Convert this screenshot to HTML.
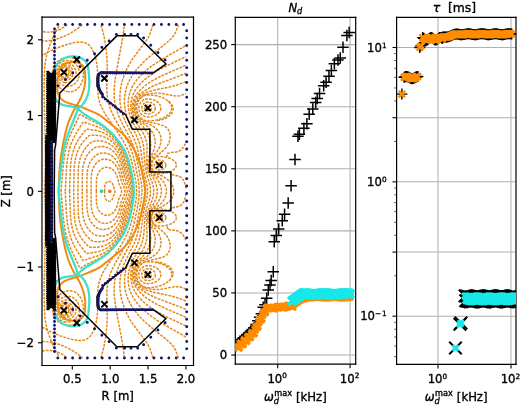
<!DOCTYPE html>
<html><head><meta charset="utf-8"><style>html,body{margin:0;padding:0;background:#fff;}svg{display:block}svg text{stroke:#000;stroke-width:0.35px}</style></head>
<body>
<svg width="520px" height="405px" viewBox="0 0 520 405" version="1.1">
 
 <defs>
  <style type="text/css">*{stroke-linejoin: round; stroke-linecap: butt}</style>
 </defs>
 <g id="figure_1">
  <g id="patch_1">
   <path d="M 0 405 
L 520 405 
L 520 0 
L 0 0 
z
" style="fill: #ffffff"/>
  </g>
  <g id="axes_1">
   <g id="patch_2">
    <path d="M 42 365.5 
L 193.5 365.5 
L 193.5 17.1 
L 42 17.1 
z
" style="fill: #ffffff"/>
   </g>
   <g id="QuadContourSet_1">
    <path clip-path="url(#p1f6addf977)" style="fill: none; stroke-dasharray: 2.75,1.16; stroke-dashoffset: 0; stroke: #e28616; stroke-width: 1.45"/>
    <path clip-path="url(#p1f6addf977)" style="fill: none; stroke-dasharray: 2.75,1.16; stroke-dashoffset: 0; stroke: #e28616; stroke-width: 1.45"/>
    <path clip-path="url(#p1f6addf977)" style="fill: none; stroke-dasharray: 2.75,1.16; stroke-dashoffset: 0; stroke: #e28616; stroke-width: 1.45"/>
    <path clip-path="url(#p1f6addf977)" style="fill: none; stroke-dasharray: 2.75,1.16; stroke-dashoffset: 0; stroke: #e28616; stroke-width: 1.45"/>
    <path d="M 160.25 285.97 
L 160.11 286.02 
M 170.97 278.95 
L 170.01 280.05 
L 168.42 281.50 
M 156.05 262.16 
L 157.14 262.19 
L 160.17 262.42 
L 162.44 263.14 
L 164.72 264.00 
L 166.98 265.11 
L 168.84 266.28 
L 170.01 267.23 
L 171.29 268.55 
L 172.29 270.07 
L 172.88 271.58 
L 173.11 273.09 
L 173.02 274.61 
L 172.61 276.12 
L 171.88 277.64 
L 171.53 278.18 
M 185.92 240.27 
L 184.98 238.25 
L 183.65 235.95 
L 182.57 234.47 
L 181.13 232.95 
L 179.86 231.99 
L 178.35 231.19 
L 176.81 230.68 
L 175.32 230.39 
L 173.04 230.22 
L 170.77 230.16 
L 170.01 229.90 
L 168.50 229.22 
L 167.74 229.35 
L 167.51 229.16 
L 167.66 228.41 
L 167.49 227.65 
L 166.75 226.14 
L 166.19 225.42 
M 169.36 210.23 
L 170.01 209.47 
L 170.43 208.72 
L 170.77 208.39 
L 171.80 207.96 
L 174.56 207.28 
L 175.32 207.12 
L 178.35 206.56 
L 179.10 206.30 
L 180.62 205.51 
L 181.38 204.93 
L 182.15 204.17 
L 183.28 202.66 
L 184.10 201.14 
L 184.97 198.87 
L 185.55 196.60 
L 185.92 194.13 
M 185.92 188.46 
L 185.69 186.75 
L 185.16 184.39 
L 184.41 182.16 
L 183.65 180.56 
L 182.77 179.18 
L 182.13 178.40 
L 181.38 177.65 
L 179.86 176.63 
L 178.35 176.03 
L 176.83 175.70 
L 174.56 175.31 
L 171.53 174.55 
L 170.77 174.20 
L 170.43 173.88 
L 170.01 173.12 
L 169.36 172.36 
M 166.19 157.17 
L 166.23 157.14 
L 166.98 156.05 
L 167.49 154.94 
L 167.66 154.18 
L 167.51 153.43 
L 167.74 153.24 
L 168.50 153.37 
L 170.77 152.43 
L 172.29 152.37 
L 174.56 152.28 
L 176.07 152.07 
L 177.59 151.68 
L 179.10 151.05 
L 180.62 150.06 
L 181.91 148.88 
L 183.15 147.37 
L 184.41 145.40 
L 185.35 143.58 
L 185.92 142.32 
M 171.53 104.41 
L 172.29 105.72 
L 172.85 107.22 
L 173.11 108.74 
L 173.04 110.25 
L 172.63 111.77 
L 171.85 113.28 
L 170.61 114.80 
L 169.26 115.99 
L 167.69 117.07 
L 165.47 118.25 
L 162.76 119.34 
L 160.17 120.17 
L 159.41 120.34 
L 156.05 120.43 
M 168.42 101.09 
L 169.39 101.92 
L 170.97 103.64 
M 160.11 96.57 
L 160.25 96.62 
L 160.25 96.62 
" clip-path="url(#p1f6addf977)" style="fill: none; stroke-dasharray: 2.75,1.16; stroke-dashoffset: 0; stroke: #e28616; stroke-width: 1.45"/>
    <path d="M 185.92 289.19 
L 183.65 288.05 
L 181.38 287.26 
L 179.10 286.80 
L 176.83 286.66 
L 174.56 286.76 
L 171.53 287.17 
L 167.74 287.97 
L 162.44 289.08 
L 160.17 289.39 
L 157.89 289.51 
L 154.86 289.43 
L 151.83 289.15 
L 148.05 288.56 
L 146.59 288.24 
M 146.51 288.22 
L 144.31 287.48 
M 144.22 287.45 
L 142.65 286.73 
L 141.23 285.77 
L 139.69 284.45 
L 138.37 282.94 
L 137.40 281.42 
L 136.65 279.91 
L 136.17 278.4 
L 135.83 276.88 
L 135.69 275.37 
L 135.76 273.09 
L 136.07 271.58 
L 136.68 269.60 
L 137.44 268.08 
L 138.20 266.88 
L 139.28 265.52 
L 140.47 264.38 
L 142.07 263.16 
M 143.20 262.49 
L 143.77 262.22 
M 144.90 261.73 
L 146.26 261.25 
M 147.21 260.98 
L 149.56 260.41 
L 160.92 257.79 
L 163.2 256.96 
L 164.71 256.22 
L 166.23 255.20 
L 167.35 254.16 
L 168.50 252.62 
L 169.26 251.08 
L 169.74 249.61 
L 170.02 248.10 
L 170.15 246.58 
L 170.12 245.07 
L 169.81 242.80 
L 169.26 240.82 
L 168.87 239.77 
L 167.73 237.50 
L 166.76 235.98 
L 164.94 233.71 
L 162.44 231.21 
L 160.92 230.00 
L 158.91 228.41 
L 156.38 226.80 
L 154.53 225.38 
L 153.35 224.11 
L 152.59 223.07 
L 151.80 221.59 
L 151.08 219.31 
L 151.02 217.05 
L 151.25 215.53 
L 151.83 213.86 
L 152.59 212.48 
L 153.82 210.99 
L 154.86 210.04 
L 155.50 209.59 
M 155.68 209.47 
L 157.14 208.65 
L 158.87 207.96 
L 160.92 207.15 
L 163.2 205.99 
L 163.95 205.41 
L 165.98 204.17 
L 168.88 201.90 
L 170.37 200.38 
L 171.53 198.84 
L 172.36 197.35 
L 173.04 195.60 
L 173.39 194.32 
L 173.63 192.81 
L 173.71 191.3 
L 173.63 189.78 
L 173.39 188.27 
L 172.97 186.75 
L 172.29 185.10 
L 171.51 183.72 
L 170.37 182.21 
L 168.88 180.69 
L 165.98 178.42 
L 162.43 176.15 
L 160.17 175.11 
L 157.01 173.88 
L 155.68 173.12 
M 155.50 173.00 
L 154.11 171.89 
L 153.14 170.85 
L 152.14 169.33 
L 151.49 167.82 
L 151.08 166.18 
L 151.00 164.79 
L 151.08 163.27 
L 151.83 160.92 
L 152.61 159.48 
L 153.81 157.97 
L 154.86 156.90 
L 157.14 155.29 
L 159.41 153.85 
L 163.2 150.67 
L 164.24 149.64 
L 166.23 147.33 
L 167.27 145.85 
L 168.53 143.58 
L 169.26 141.77 
L 169.63 140.55 
L 170.05 138.28 
L 170.15 136.01 
L 170.01 134.42 
L 169.74 132.98 
L 169.24 131.46 
L 168.48 129.95 
L 167.35 128.43 
L 166.23 127.39 
L 164.71 126.37 
L 163.2 125.63 
L 161.68 125.06 
L 159.41 124.38 
L 153.89 123.13 
L 147.21 121.62 
M 146.26 121.34 
L 144.90 120.86 
M 143.77 120.37 
L 143.20 120.10 
M 142.07 119.43 
L 140.93 118.59 
L 139.71 117.51 
L 138.63 116.31 
L 137.44 114.51 
L 136.68 112.99 
L 136.27 111.77 
L 135.76 109.50 
L 135.69 107.22 
L 135.83 105.71 
L 136.17 104.2 
L 136.68 102.60 
L 137.85 100.41 
L 138.97 98.89 
L 140.52 97.38 
L 141.99 96.29 
L 142.74 95.81 
L 144.22 95.14 
M 144.31 95.11 
L 146.51 94.37 
M 146.59 94.35 
L 148.80 93.89 
L 152.59 93.35 
L 155.62 93.11 
L 158.65 93.10 
L 160.92 93.29 
L 163.95 93.79 
L 169.26 94.97 
L 172.29 95.55 
L 175.32 95.89 
L 177.59 95.92 
L 179.86 95.67 
L 182.13 95.10 
L 184.41 94.19 
L 185.92 93.40 
L 185.92 93.40 
" clip-path="url(#p1f6addf977)" style="fill: none; stroke-dasharray: 2.75,1.16; stroke-dashoffset: 0; stroke: #e28616; stroke-width: 1.45"/>
    <path d="M 185.92 301.03 
L 180.37 298.84 
L 175.97 297.33 
L 172.29 296.26 
L 167.74 295.19 
L 154.86 292.50 
L 145.02 289.67 
L 142.74 288.62 
L 140.91 287.48 
L 139.71 286.63 
L 138.34 285.21 
L 137.15 283.70 
L 136.62 282.94 
L 135.56 280.67 
L 135.04 279.15 
L 134.59 276.88 
L 134.47 275.37 
L 134.57 273.09 
L 135.00 270.82 
L 135.47 269.31 
L 136.55 267.03 
L 137.00 266.28 
L 138.20 264.73 
L 139.71 263.10 
L 141.99 261.49 
L 144.33 260.22 
L 146.53 259.27 
L 151.08 257.46 
L 151.83 257.09 
L 153.95 255.67 
L 156.38 253.59 
L 157.29 252.64 
L 158.65 250.86 
L 159.41 249.57 
L 160.17 247.83 
L 160.56 246.58 
L 160.92 244.63 
L 161.05 242.80 
L 160.90 240.53 
L 160.47 238.25 
L 159.75 235.98 
L 158.65 233.58 
L 157.39 231.44 
L 156.22 229.92 
L 153.35 226.77 
L 151.80 224.62 
L 150.96 223.11 
L 150.32 221.36 
L 150.01 220.08 
L 149.82 218.56 
L 149.84 217.05 
L 150.04 215.53 
L 150.47 214.02 
L 151.08 212.46 
L 152.65 210.23 
L 154.11 208.70 
L 156.38 207.01 
L 158.65 205.53 
L 160.17 204.47 
L 160.92 203.77 
L 161.94 202.66 
L 163.64 200.38 
L 164.91 198.11 
L 165.54 196.60 
L 166.00 195.08 
L 166.40 192.81 
L 166.48 191.3 
L 166.40 189.78 
L 166.00 187.51 
L 165.47 185.81 
L 164.71 184.08 
L 163.95 182.72 
L 163.12 181.45 
L 161.68 179.64 
L 160.54 178.42 
L 158.65 177.06 
L 157.18 176.15 
L 155.62 175.06 
L 154.09 173.88 
L 152.59 172.29 
L 151.05 170.09 
L 150.23 167.82 
L 149.91 166.30 
L 149.81 164.79 
L 149.89 163.27 
L 150.32 161.23 
L 150.63 160.24 
L 151.37 158.73 
L 152.59 156.79 
L 154.11 154.94 
L 157.39 151.15 
L 158.72 148.88 
L 159.75 146.61 
L 160.47 144.34 
L 160.90 142.06 
L 161.05 139.79 
L 160.87 137.52 
L 160.56 136.01 
L 160.07 134.49 
L 159.39 132.98 
L 158.48 131.46 
L 157.14 129.78 
L 155.62 128.29 
L 153.95 126.92 
L 151.67 125.40 
L 148.80 124.17 
L 144.26 122.34 
L 141.99 121.10 
L 139.71 119.49 
L 138.85 118.59 
L 137.44 116.91 
L 136.55 115.56 
L 135.47 113.28 
L 135.00 111.77 
L 134.57 109.50 
L 134.47 107.22 
L 134.59 105.71 
L 135.04 103.44 
L 135.56 101.92 
L 136.62 99.65 
L 137.72 98.14 
L 139.01 96.62 
L 139.85 95.86 
L 142.09 94.35 
L 143.50 93.59 
L 145.77 92.63 
L 148.05 91.92 
L 157.89 89.32 
L 162.44 88.40 
L 169.26 87.07 
L 173.43 86.02 
L 176.83 84.99 
L 181.38 83.37 
L 185.92 81.56 
L 185.92 81.56 
" clip-path="url(#p1f6addf977)" style="fill: none; stroke-dasharray: 2.75,1.16; stroke-dashoffset: 0; stroke: #e28616; stroke-width: 1.45"/>
    <path d="M 185.92 309.33 
L 176.07 305.39 
L 166.67 301.87 
L 157.89 298.59 
L 153.35 296.62 
L 148.80 294.29 
L 143.50 291.18 
L 141.23 289.73 
L 139.29 288.24 
L 138.20 287.25 
L 136.68 285.53 
L 135.17 282.99 
L 134.51 281.42 
L 134.00 279.91 
L 133.51 277.64 
L 133.32 275.37 
L 133.42 273.09 
L 133.82 270.82 
L 134.54 268.55 
L 135.57 266.28 
L 136.68 264.60 
L 138.20 262.80 
L 139.32 261.73 
L 140.47 260.81 
L 142.74 259.23 
L 146.53 256.82 
L 147.29 256.20 
L 149.36 254.16 
L 151.26 251.89 
L 152.74 249.61 
L 153.84 247.34 
L 154.60 245.07 
L 155.05 242.80 
L 155.22 240.53 
L 155.13 238.25 
L 154.79 235.98 
L 154.22 233.71 
L 153.12 230.68 
L 151.77 227.65 
L 150.55 225.38 
L 149.56 222.88 
L 149.19 221.59 
L 148.80 219.32 
L 148.76 217.80 
L 148.86 216.29 
L 149.16 214.77 
L 149.62 213.26 
L 150.32 211.66 
L 151.65 209.47 
L 153.67 207.20 
L 154.86 205.94 
L 156.00 204.93 
L 157.20 203.41 
L 158.65 201.13 
L 159.77 198.87 
L 160.59 196.60 
L 161.12 194.32 
L 161.36 192.05 
L 161.31 189.78 
L 160.97 187.51 
L 160.35 185.24 
L 159.41 182.92 
L 158.20 180.69 
L 156.66 178.42 
L 155.17 176.90 
L 154.11 175.90 
L 151.08 172.25 
L 149.92 170.09 
L 149.36 168.57 
L 148.99 167.06 
L 148.79 165.54 
L 148.80 163.27 
L 149.19 161.00 
L 149.64 159.48 
L 150.87 156.46 
L 152.59 153.21 
L 154.22 148.88 
L 154.79 146.61 
L 155.13 144.34 
L 155.22 142.06 
L 155.05 139.79 
L 154.60 137.52 
L 153.84 135.25 
L 152.74 132.98 
L 151.26 130.70 
L 149.36 128.43 
L 147.05 126.16 
L 144.86 124.64 
L 142.41 123.13 
L 140.47 121.78 
L 138.49 120.10 
L 137.14 118.59 
L 135.93 116.90 
L 135.17 115.48 
L 134.26 113.28 
L 133.65 110.99 
L 133.35 108.74 
L 133.35 106.47 
L 133.65 104.15 
L 134.24 101.92 
L 135.17 99.60 
L 135.99 98.14 
L 137.01 96.62 
L 138.96 94.63 
L 141.27 92.83 
L 143.50 91.41 
L 145.02 90.56 
L 148.82 88.29 
L 151.83 86.70 
L 155.62 84.95 
L 160.51 82.99 
L 167.74 80.32 
L 177.59 76.61 
L 185.92 73.26 
L 185.92 73.26 
" clip-path="url(#p1f6addf977)" style="fill: none; stroke-dasharray: 2.75,1.16; stroke-dashoffset: 0; stroke: #e28616; stroke-width: 1.45"/>
    <path d="M 185.92 317.30 
L 166.98 309.11 
L 159.57 305.66 
L 155.62 303.64 
L 151.08 301.04 
L 147.73 298.84 
L 145.02 296.83 
L 141.99 294.24 
L 139.71 291.95 
L 137.44 289.25 
L 135.07 285.97 
L 133.96 283.70 
L 133.11 281.42 
L 132.52 279.15 
L 132.21 276.88 
L 132.15 274.61 
L 132.35 272.34 
L 132.82 270.06 
L 133.65 267.62 
L 134.63 265.52 
L 135.97 263.25 
L 137.44 261.59 
L 139.71 259.36 
L 141.23 257.94 
L 143.87 254.92 
L 146.15 251.89 
L 147.57 249.61 
L 148.80 247.11 
L 149.57 245.07 
L 150.19 242.80 
L 150.58 240.53 
L 150.74 238.25 
L 150.69 235.98 
L 150.45 233.71 
L 149.85 230.68 
L 149.40 228.41 
L 149.04 226.14 
L 148.50 223.86 
L 148.05 221.86 
L 147.72 218.56 
L 147.83 216.29 
L 148.12 214.77 
L 148.80 212.45 
L 149.81 210.23 
L 150.65 208.72 
L 152.60 205.69 
L 155.02 201.14 
L 155.93 198.87 
L 156.61 196.60 
L 157.05 194.32 
L 157.25 192.05 
L 157.21 189.78 
L 156.93 187.51 
L 156.38 185.13 
L 155.62 182.89 
L 154.66 180.69 
L 153.02 177.66 
L 151.66 175.39 
L 150.20 173.12 
L 149.09 170.85 
L 148.52 169.33 
L 147.94 167.06 
L 147.78 165.54 
L 147.71 163.27 
L 148.11 160.24 
L 149.19 155.70 
L 149.85 151.91 
L 150.45 148.88 
L 150.69 146.61 
L 150.74 144.34 
L 150.58 142.06 
L 150.19 139.79 
L 149.56 137.48 
L 148.70 135.25 
L 147.57 132.98 
L 146.15 130.70 
L 144.26 128.16 
L 141.92 125.40 
L 140.44 123.89 
L 138.04 121.62 
L 135.97 119.34 
L 135.07 117.83 
L 133.89 115.56 
L 133.04 113.28 
L 132.47 111.01 
L 132.19 108.74 
L 132.16 106.47 
L 132.39 104.2 
L 132.9 101.90 
L 133.65 99.64 
L 134.68 97.38 
L 135.50 95.86 
L 136.68 94.31 
L 139.79 90.56 
L 142.06 88.29 
L 144.69 86.02 
L 146.67 84.50 
L 149.56 82.51 
L 153.35 80.20 
L 158.05 77.69 
L 163.2 75.20 
L 171.53 71.47 
L 185.92 65.29 
L 185.92 65.29 
" clip-path="url(#p1f6addf977)" style="fill: none; stroke-dasharray: 2.75,1.16; stroke-dashoffset: 0; stroke: #e28616; stroke-width: 1.45"/>
    <path d="M 185.92 325.95 
L 172.29 319.54 
L 163.95 315.36 
L 158.65 312.47 
L 154.11 309.77 
L 150.19 307.18 
L 147.10 304.90 
L 144.26 302.56 
L 141.88 300.36 
L 139.69 298.09 
L 137.44 295.38 
L 135.62 292.79 
L 134.30 290.51 
L 133.22 288.24 
L 132.40 285.97 
L 131.62 282.94 
L 130.87 278.4 
L 130.75 276.12 
L 130.82 273.85 
L 131.11 271.58 
L 131.64 269.31 
L 132.40 267.03 
L 133.39 264.76 
L 135.17 261.53 
L 137.44 258.19 
L 140.80 253.40 
L 142.74 250.26 
L 143.89 248.10 
L 145.02 245.51 
L 145.77 243.31 
L 146.31 241.28 
L 146.73 239.01 
L 146.98 236.74 
L 147.05 233.71 
L 146.86 230.68 
L 146.70 228.41 
L 146.65 217.80 
L 146.86 215.53 
L 147.50 212.50 
L 150.60 204.17 
L 151.85 201.14 
L 152.60 198.87 
L 153.17 196.60 
L 153.53 194.32 
L 153.70 192.05 
L 153.67 189.78 
L 153.43 187.51 
L 153.00 185.24 
L 152.37 182.96 
L 151.57 180.69 
L 150.24 177.66 
L 149.56 175.95 
L 147.29 169.08 
L 146.76 166.30 
L 146.59 163.27 
L 146.93 151.15 
L 147.06 148.12 
L 146.92 145.09 
L 146.53 142.38 
L 146.13 140.55 
L 145.45 138.28 
L 144.58 136.01 
L 143.50 133.73 
L 141.99 131.05 
L 140.29 128.43 
L 134.41 119.78 
L 133.39 117.83 
L 132.40 115.56 
L 131.45 112.53 
L 130.89 109.50 
L 130.75 107.22 
L 130.81 104.95 
L 131.06 102.68 
L 131.80 98.89 
L 132.40 96.62 
L 133.22 94.35 
L 134.41 91.86 
L 135.93 89.33 
L 137.78 86.78 
L 139.71 84.48 
L 141.99 82.12 
L 145.02 79.38 
L 148.10 76.93 
L 151.29 74.66 
L 154.86 72.36 
L 159.41 69.69 
L 165.70 66.33 
L 172.29 63.05 
L 182.99 57.99 
L 185.92 56.64 
L 185.92 56.64 
" clip-path="url(#p1f6addf977)" style="fill: none; stroke-dasharray: 2.75,1.16; stroke-dashoffset: 0; stroke: #e28616; stroke-width: 1.45"/>
    <path d="M 185.92 337.08 
L 180.62 333.98 
L 170.01 328.01 
L 161.60 323.08 
L 156.38 319.78 
L 151.83 316.65 
L 148.05 313.78 
L 144.26 310.57 
L 141.23 307.68 
L 138.65 304.90 
L 136.68 302.53 
L 134.56 299.60 
L 133.14 297.33 
L 131.92 295.06 
L 130.62 292.15 
L 129.79 289.76 
L 129.00 286.73 
L 128.46 283.70 
L 128.18 280.67 
L 128.14 277.64 
L 128.36 274.61 
L 128.81 271.58 
L 129.51 268.55 
L 130.48 265.52 
L 131.72 262.49 
L 133.27 259.46 
L 135.96 254.92 
L 138.61 250.37 
L 140.15 247.34 
L 141.44 244.31 
L 142.45 241.28 
L 143.19 238.25 
L 143.68 235.22 
L 143.95 232.19 
L 144.79 219.32 
L 145.39 214.77 
L 146.25 210.23 
L 147.16 206.44 
L 147.36 205.69 
L 148.24 203.41 
L 149.20 200.38 
L 149.92 197.35 
L 150.36 194.32 
L 150.50 192.05 
L 150.47 189.78 
L 150.17 186.75 
L 149.59 183.72 
L 148.74 180.69 
L 147.67 177.66 
L 147.16 176.15 
L 145.27 167.06 
L 144.71 162.51 
L 144.30 157.21 
L 143.68 147.37 
L 143.19 144.34 
L 142.45 141.31 
L 141.44 138.28 
L 140.15 135.25 
L 138.61 132.22 
L 136.42 128.43 
L 132.86 122.37 
L 131.39 119.34 
L 130.21 116.31 
L 129.31 113.28 
L 128.67 110.25 
L 128.28 107.22 
L 128.13 104.2 
L 128.23 101.17 
L 128.57 98.14 
L 129.17 95.11 
L 130.03 92.08 
L 130.88 89.80 
L 132.14 87.10 
L 133.65 84.41 
L 135.62 81.47 
L 137.44 79.11 
L 140.02 76.17 
L 142.74 73.42 
L 145.77 70.69 
L 149.56 67.63 
L 153.42 64.81 
L 157.96 61.78 
L 163.2 58.54 
L 170.77 54.16 
L 185.92 45.51 
L 185.92 45.51 
" clip-path="url(#p1f6addf977)" style="fill: none; stroke-dasharray: 2.75,1.16; stroke-dashoffset: 0; stroke: #e28616; stroke-width: 1.45"/>
    <path d="M 178.45 357.92 
L 176.07 351.55 
L 175.26 349.59 
L 174.42 348.08 
L 173.04 346.13 
L 171.46 344.29 
L 169.18 342.02 
L 165.73 338.99 
L 159.10 333.68 
L 152.43 328.38 
L 147.95 324.60 
L 144.26 321.22 
L 140.84 317.78 
L 138.09 314.75 
L 135.17 311.21 
L 132.82 307.93 
L 130.93 304.90 
L 129.31 301.87 
L 127.93 298.84 
L 126.79 295.82 
L 125.89 292.79 
L 125.22 289.76 
L 124.77 286.73 
L 124.51 283.70 
L 124.45 280.67 
L 124.59 277.64 
L 124.93 274.61 
L 125.49 271.58 
L 126.26 268.55 
L 127.24 265.52 
L 128.43 262.49 
L 129.87 259.40 
L 132.14 255.09 
L 135.93 247.99 
L 137.60 244.31 
L 138.74 241.28 
L 139.71 238.08 
L 140.47 234.79 
L 141.04 231.44 
L 141.79 225.38 
L 142.88 217.05 
L 143.79 211.74 
L 145.02 206.07 
L 147.05 197.35 
L 147.42 194.32 
L 147.54 191.3 
L 147.42 188.27 
L 147.05 185.24 
L 146.46 182.21 
L 145.11 176.90 
L 143.94 171.60 
L 143.00 166.30 
L 142.16 160.24 
L 140.80 149.64 
L 140.05 145.85 
L 139.23 142.82 
L 138.20 139.79 
L 136.94 136.76 
L 135.11 132.98 
L 131.82 126.92 
L 129.47 122.37 
L 127.81 118.59 
L 126.72 115.56 
L 125.85 112.53 
L 125.19 109.50 
L 124.74 106.47 
L 124.49 103.44 
L 124.45 100.41 
L 124.61 97.38 
L 124.97 94.35 
L 125.52 91.32 
L 126.31 88.29 
L 127.33 85.26 
L 128.59 82.23 
L 130.09 79.20 
L 131.84 76.17 
L 133.86 73.14 
L 136.17 70.11 
L 138.96 66.86 
L 142.31 63.30 
L 145.43 60.27 
L 148.82 57.24 
L 153.36 53.45 
L 161.03 47.39 
L 166.98 42.54 
L 169.26 40.50 
L 171.53 38.22 
L 173.38 36.03 
L 174.56 34.29 
L 175.32 32.88 
L 176.49 29.97 
L 178.45 24.67 
L 178.45 24.67 
" clip-path="url(#p1f6addf977)" style="fill: none; stroke-dasharray: 2.75,1.16; stroke-dashoffset: 0; stroke: #e28616; stroke-width: 1.45"/>
    <path d="M 152.91 357.92 
L 150.58 350.35 
L 149.69 348.08 
L 148.56 345.80 
L 146.73 342.77 
L 144.08 338.99 
L 138.94 332.17 
L 133.74 325.35 
L 131.67 322.32 
L 129.81 319.29 
L 127.74 315.51 
L 126.08 312.01 
L 124.39 307.93 
L 123.05 304.11 
L 121.94 300.36 
L 121.04 296.57 
L 120.39 292.79 
L 119.99 289.00 
L 119.85 285.21 
L 119.96 281.42 
L 120.35 277.64 
L 120.86 274.61 
L 121.56 271.58 
L 122.44 268.55 
L 123.50 265.52 
L 125.06 261.73 
L 127.24 257.19 
L 134.16 243.56 
L 135.38 240.53 
L 136.43 237.50 
L 137.49 233.71 
L 138.48 229.16 
L 139.78 221.59 
L 141.50 211.74 
L 144.41 196.60 
L 144.67 193.57 
L 144.72 190.54 
L 144.56 187.51 
L 144.20 184.48 
L 143.50 180.53 
L 141.08 168.57 
L 139.66 160.24 
L 138.33 152.67 
L 137.44 148.67 
L 136.43 145.09 
L 135.17 141.50 
L 133.82 138.28 
L 132.01 134.49 
L 129.11 128.96 
L 126.08 123.06 
L 124.40 119.34 
L 122.95 115.56 
L 121.98 112.53 
L 121.02 108.74 
L 120.35 104.95 
L 120.02 101.91 
L 119.85 98.14 
L 119.95 94.35 
L 120.29 90.56 
L 120.89 86.78 
L 121.74 82.99 
L 122.82 79.20 
L 124.11 75.41 
L 125.62 71.63 
L 127.37 67.84 
L 129.11 64.52 
L 131.38 60.71 
L 133.74 57.24 
L 136.68 53.30 
L 143.53 44.36 
L 146.53 40.11 
L 148.13 37.54 
L 149.56 34.80 
L 150.32 32.99 
L 151.78 28.46 
L 152.91 24.67 
L 152.91 24.67 
" clip-path="url(#p1f6addf977)" style="fill: none; stroke-dasharray: 2.75,1.16; stroke-dashoffset: 0; stroke: #e28616; stroke-width: 1.45"/>
    <path d="M 124.43 357.92 
L 122.97 346.56 
L 121.82 339.74 
L 118.82 323.84 
L 116.03 308.69 
L 114.99 301.87 
L 114.40 296.57 
L 114.13 292.03 
L 114.11 288.24 
L 114.31 284.45 
L 114.76 280.67 
L 115.30 277.64 
L 116.23 273.84 
L 117.41 270.06 
L 118.85 266.28 
L 120.87 261.73 
L 123.57 256.43 
L 130.74 242.80 
L 132.37 239.01 
L 133.50 235.98 
L 134.71 232.19 
L 136.23 226.14 
L 138.97 212.50 
L 139.99 207.20 
L 140.99 201.90 
L 141.65 197.35 
L 141.99 192.94 
L 142.01 191.3 
L 141.81 186.75 
L 141.23 182.17 
L 140.14 176.15 
L 137.93 164.79 
L 136.68 158.58 
L 135.51 153.43 
L 134.26 148.88 
L 132.68 144.34 
L 130.62 139.55 
L 128.35 134.98 
L 122.29 123.72 
L 120.02 119.02 
L 118.50 115.45 
L 117.15 111.77 
L 116.02 107.98 
L 115.15 104.2 
L 114.55 100.41 
L 114.20 96.62 
L 114.09 92.83 
L 114.19 89.05 
L 114.54 84.50 
L 115.20 79.20 
L 116.29 72.38 
L 118.38 61.02 
L 122.73 37.54 
L 123.60 31.49 
L 124.43 24.67 
M 42 351.34 
L 44.27 350.79 
L 46.54 350.50 
L 48.81 350.44 
L 51.09 350.60 
L 53.36 350.97 
L 55.63 351.53 
L 57.90 352.29 
L 60.44 353.38 
L 62.45 354.43 
L 64.72 355.87 
L 66.99 357.62 
L 67.34 357.92 
M 67.34 24.67 
L 65.47 26.18 
L 63.21 27.71 
L 60.93 28.97 
L 58.66 30.01 
L 56.39 30.83 
L 53.99 31.49 
L 51.84 31.89 
L 49.57 32.12 
L 47.30 32.14 
L 45.03 31.93 
L 42.75 31.46 
L 42 31.25 
L 42 31.25 
" clip-path="url(#p1f6addf977)" style="fill: none; stroke-dasharray: 2.75,1.16; stroke-dashoffset: 0; stroke: #e28616; stroke-width: 1.45"/>
    <path d="M 100.75 357.92 
L 101.84 354.71 
L 103.04 350.35 
L 104.24 345.05 
L 105.22 339.74 
L 106.10 333.68 
L 106.72 327.63 
L 107.06 322.32 
L 107.21 316.26 
L 107.13 309.45 
L 106.80 293.54 
L 107.02 289.00 
L 107.44 285.21 
L 107.97 282.18 
L 108.68 279.15 
L 109.56 276.12 
L 110.63 273.09 
L 112.19 269.31 
L 114.37 264.76 
L 120.78 253.47 
L 124.56 246.97 
L 127.22 242.04 
L 129.11 238.06 
L 130.88 233.71 
L 132.41 229.16 
L 134.08 223.11 
L 136.74 210.99 
L 138.41 201.90 
L 139.07 196.60 
L 139.25 194.32 
L 139.31 189.78 
L 138.96 184.74 
L 137.91 177.66 
L 135.30 164.79 
L 133.87 158.73 
L 132.63 154.18 
L 131.38 150.23 
L 128.35 142.81 
L 124.36 135.25 
L 115.16 119.34 
L 111.54 111.77 
L 110.09 107.98 
L 109.10 104.95 
L 108.30 101.92 
L 107.68 98.89 
L 107.25 95.86 
L 106.92 92.08 
L 106.78 87.53 
L 106.87 81.47 
L 107.21 66.33 
L 107.06 60.27 
L 106.72 54.96 
L 106.19 49.66 
L 105.34 43.60 
L 104.39 38.30 
L 103.23 33.00 
L 102.01 28.46 
L 101.02 25.43 
L 100.75 24.67 
M 42 341.76 
L 44.27 341.59 
L 46.54 341.63 
L 49.57 341.95 
L 52.60 342.52 
L 55.63 343.30 
L 59.42 344.51 
L 63.21 345.97 
L 66.99 347.68 
L 70.78 349.65 
L 74.46 351.86 
L 77.76 354.13 
L 80.68 356.41 
L 82.46 357.92 
M 82.46 24.67 
L 78.78 27.70 
L 75.33 30.16 
L 72.00 32.24 
L 68.51 34.16 
L 64.58 36.03 
L 60.87 37.54 
L 57.15 38.84 
L 53.36 39.89 
L 49.97 40.57 
L 47.30 40.91 
L 45.03 41.01 
L 42.75 40.91 
L 42 40.83 
L 42 40.83 
" clip-path="url(#p1f6addf977)" style="fill: none; stroke-dasharray: 2.75,1.16; stroke-dashoffset: 0; stroke: #e28616; stroke-width: 1.45"/>
    <path d="M 42 327.20 
L 47.30 329.98 
L 52.60 332.62 
L 56.72 334.44 
L 60.93 336.09 
L 65.48 337.64 
L 70.09 338.99 
L 73.81 339.85 
L 76.84 340.34 
L 79.11 340.53 
L 81.39 340.50 
L 82.90 340.32 
L 84.42 339.97 
L 85.93 339.43 
L 87.45 338.65 
L 89.00 337.47 
L 90.48 335.89 
L 91.51 334.44 
L 92.81 332.17 
L 93.83 329.90 
L 94.92 326.87 
L 95.78 323.83 
L 96.58 320.05 
L 97.15 316.26 
L 97.51 312.48 
L 97.73 307.93 
L 97.74 301.87 
L 97.72 292.79 
L 97.95 289.00 
L 98.46 285.21 
L 98.94 282.94 
L 99.80 279.91 
L 101.08 276.58 
L 102.74 273.09 
L 103.94 270.82 
L 105.30 268.55 
L 107.69 264.76 
L 113.99 255.67 
L 115.47 253.57 
L 117.75 250.37 
L 119.26 248.04 
L 121.16 245.07 
L 123.46 241.28 
L 126.61 235.22 
L 129.11 229.10 
L 130.62 224.59 
L 132.14 219.24 
L 133.09 215.53 
L 133.92 211.74 
L 134.55 208.72 
L 135.00 206.44 
L 136.18 198.87 
L 136.60 192.05 
L 136.54 188.27 
L 136.18 183.72 
L 134.72 174.63 
L 131.54 161.00 
L 128.55 151.91 
L 125.87 145.85 
L 123.00 140.55 
L 121.65 138.28 
L 114.57 127.67 
L 112.92 125.40 
L 107.69 117.83 
L 106.23 115.56 
L 104.40 112.53 
L 103.10 110.25 
L 100.64 104.95 
L 99.80 102.68 
L 98.60 98.14 
L 98.11 95.11 
L 97.78 91.32 
L 97.68 86.78 
L 97.61 71.63 
L 97.24 67.08 
L 96.71 63.30 
L 95.96 59.51 
L 95.02 56.04 
L 94.13 53.45 
L 93.17 51.18 
L 91.98 48.91 
L 91.00 47.39 
L 89.72 45.82 
L 88.20 44.46 
L 86.69 43.51 
L 85.14 42.85 
L 83.66 42.42 
L 82.14 42.17 
L 79.87 42.05 
L 77.60 42.17 
L 74.57 42.60 
L 70.78 43.43 
L 66.24 44.71 
L 61.69 46.23 
L 56.72 48.15 
L 52.60 49.97 
L 48.06 52.22 
L 42 55.39 
L 42 55.39 
" clip-path="url(#p1f6addf977)" style="fill: none; stroke-dasharray: 2.75,1.16; stroke-dashoffset: 0; stroke: #e28616; stroke-width: 1.45"/>
    <path d="M 64.72 324.74 
L 65.48 324.91 
L 66.24 325.04 
L 66.99 325.13 
L 67.75 325.19 
L 68.51 325.21 
L 69.27 325.20 
L 70.02 325.16 
L 70.78 325.07 
L 71.54 324.95 
L 72.3 324.78 
L 72.96 324.60 
L 73.05 324.57 
L 73.81 324.32 
L 74.57 324.01 
L 74.93 323.84 
L 75.33 323.65 
L 76.08 323.22 
L 76.31 323.08 
L 76.84 322.73 
L 77.39 322.32 
L 77.60 322.16 
L 78.29 321.57 
L 78.36 321.50 
L 79.04 320.81 
L 79.11 320.73 
L 79.70 320.05 
L 79.87 319.83 
L 80.26 319.29 
L 80.63 318.75 
L 80.76 318.54 
L 81.20 317.78 
L 81.39 317.42 
L 81.59 317.02 
L 81.93 316.26 
L 82.14 315.71 
L 82.22 315.51 
L 82.48 314.75 
L 82.70 313.99 
L 82.88 313.24 
L 82.90 313.15 
L 83.04 312.48 
L 83.16 311.72 
L 83.26 310.96 
L 83.32 310.21 
L 83.36 309.45 
L 83.38 308.69 
L 83.36 307.93 
L 83.33 307.18 
L 83.26 306.42 
L 83.17 305.66 
L 83.05 304.90 
L 82.91 304.15 
L 82.90 304.09 
L 82.74 303.39 
L 82.55 302.63 
L 82.32 301.87 
L 82.14 301.33 
L 82.07 301.12 
L 81.79 300.36 
L 81.47 299.60 
L 81.39 299.41 
L 81.12 298.84 
L 80.73 298.09 
L 80.63 297.90 
L 80.29 297.33 
L 79.87 296.66 
L 79.81 296.57 
L 79.27 295.82 
L 79.11 295.61 
L 78.66 295.06 
L 78.36 294.71 
L 77.96 294.30 
L 77.60 293.93 
L 77.15 293.54 
L 76.84 293.27 
L 76.18 292.79 
L 76.08 292.71 
L 75.33 292.23 
L 74.93 292.03 
L 74.57 291.84 
L 73.81 291.51 
L 73.10 291.27 
L 73.05 291.25 
L 72.3 291.05 
L 71.54 290.91 
L 70.78 290.83 
L 70.02 290.79 
L 69.27 290.81 
L 68.51 290.87 
L 67.75 290.97 
L 66.99 291.12 
L 66.42 291.27 
L 66.24 291.32 
L 65.48 291.54 
L 64.72 291.82 
L 64.24 292.03 
L 63.96 292.14 
L 63.21 292.50 
L 62.68 292.79 
L 62.45 292.91 
L 61.69 293.36 
L 61.42 293.54 
L 60.93 293.86 
L 60.34 294.30 
L 60.18 294.42 
L 59.42 295.03 
L 59.39 295.06 
L 58.66 295.71 
L 58.55 295.82 
L 57.90 296.46 
L 57.80 296.57 
L 57.15 297.29 
L 57.11 297.33 
L 56.50 298.09 
L 56.39 298.22 
L 55.93 298.84 
L 55.63 299.29 
L 55.43 299.60 
L 54.97 300.36 
L 54.87 300.52 
L 54.55 301.12 
L 54.18 301.87 
L 54.12 302.01 
L 53.84 302.63 
L 53.55 303.39 
L 53.36 303.95 
L 53.29 304.15 
L 53.07 304.90 
L 52.88 305.66 
L 52.73 306.42 
L 52.62 307.18 
L 52.60 307.34 
L 52.53 307.93 
L 52.48 308.69 
L 52.46 309.45 
L 52.48 310.21 
L 52.53 310.96 
L 52.60 311.52 
L 52.62 311.72 
L 52.74 312.48 
L 52.90 313.24 
L 53.10 313.99 
L 53.35 314.75 
L 53.36 314.77 
L 53.63 315.51 
L 53.97 316.26 
L 54.12 316.55 
L 54.36 317.02 
L 54.80 317.78 
L 54.87 317.89 
L 55.31 318.54 
L 55.63 318.97 
L 55.89 319.29 
L 56.39 319.87 
L 56.55 320.05 
L 57.15 320.65 
L 57.31 320.81 
L 57.90 321.33 
L 58.19 321.57 
L 58.66 321.93 
L 59.22 322.32 
L 59.42 322.46 
L 60.18 322.93 
L 60.46 323.08 
L 60.93 323.34 
L 61.69 323.71 
L 62.01 323.84 
L 62.45 324.03 
L 63.21 324.31 
L 63.96 324.54 
L 64.17 324.60 
L 64.72 324.74 
z
M 66.99 91.47 
L 67.75 91.62 
L 68.51 91.72 
L 69.27 91.78 
L 70.02 91.80 
L 70.78 91.76 
L 71.54 91.68 
L 72.3 91.54 
L 73.05 91.34 
L 73.10 91.32 
L 73.81 91.08 
L 74.57 90.75 
L 74.93 90.56 
L 75.33 90.36 
L 76.08 89.88 
L 76.18 89.80 
L 76.84 89.32 
L 77.15 89.05 
L 77.60 88.66 
L 77.96 88.29 
L 78.36 87.88 
L 78.66 87.53 
L 79.11 86.98 
L 79.27 86.78 
L 79.81 86.02 
L 79.87 85.93 
L 80.29 85.26 
L 80.63 84.69 
L 80.73 84.50 
L 81.12 83.75 
L 81.39 83.18 
L 81.47 82.99 
L 81.79 82.23 
L 82.07 81.47 
L 82.14 81.26 
L 82.32 80.72 
L 82.55 79.96 
L 82.74 79.20 
L 82.90 78.50 
L 82.91 78.44 
L 83.05 77.69 
L 83.17 76.93 
L 83.26 76.17 
L 83.33 75.41 
L 83.36 74.66 
L 83.38 73.90 
L 83.36 73.14 
L 83.32 72.38 
L 83.26 71.63 
L 83.16 70.87 
L 83.04 70.11 
L 82.90 69.44 
L 82.88 69.36 
L 82.70 68.60 
L 82.48 67.84 
L 82.22 67.08 
L 82.14 66.88 
L 81.93 66.33 
L 81.59 65.57 
L 81.39 65.17 
L 81.20 64.81 
L 80.76 64.05 
L 80.63 63.84 
L 80.26 63.30 
L 79.87 62.76 
L 79.70 62.54 
L 79.11 61.86 
L 79.04 61.78 
L 78.36 61.09 
L 78.29 61.02 
L 77.60 60.43 
L 77.39 60.27 
L 76.84 59.86 
L 76.31 59.51 
L 76.08 59.37 
L 75.33 58.94 
L 74.93 58.75 
L 74.57 58.58 
L 73.81 58.27 
L 73.05 58.02 
L 72.96 57.99 
L 72.3 57.81 
L 71.54 57.64 
L 70.78 57.52 
L 70.02 57.43 
L 69.27 57.39 
L 68.51 57.38 
L 67.75 57.40 
L 66.99 57.46 
L 66.24 57.55 
L 65.48 57.68 
L 64.72 57.85 
L 64.17 57.99 
L 63.96 58.05 
L 63.21 58.28 
L 62.45 58.56 
L 62.01 58.75 
L 61.69 58.88 
L 60.93 59.25 
L 60.46 59.51 
L 60.18 59.66 
L 59.42 60.13 
L 59.22 60.27 
L 58.66 60.66 
L 58.19 61.02 
L 57.90 61.26 
L 57.31 61.78 
L 57.15 61.94 
L 56.55 62.54 
L 56.39 62.72 
L 55.89 63.30 
L 55.63 63.62 
L 55.31 64.05 
L 54.87 64.70 
L 54.80 64.81 
L 54.36 65.57 
L 54.12 66.04 
L 53.97 66.33 
L 53.63 67.08 
L 53.36 67.82 
L 53.35 67.84 
L 53.10 68.60 
L 52.90 69.36 
L 52.74 70.11 
L 52.62 70.87 
L 52.60 71.07 
L 52.53 71.63 
L 52.48 72.38 
L 52.46 73.14 
L 52.48 73.90 
L 52.53 74.66 
L 52.60 75.25 
L 52.62 75.41 
L 52.73 76.17 
L 52.88 76.93 
L 53.07 77.69 
L 53.29 78.44 
L 53.36 78.64 
L 53.55 79.20 
L 53.84 79.96 
L 54.12 80.58 
L 54.18 80.72 
L 54.55 81.47 
L 54.87 82.07 
L 54.97 82.23 
L 55.43 82.99 
L 55.63 83.30 
L 55.93 83.75 
L 56.39 84.37 
L 56.50 84.50 
L 57.11 85.26 
L 57.15 85.30 
L 57.80 86.02 
L 57.90 86.13 
L 58.55 86.78 
L 58.66 86.88 
L 59.39 87.53 
L 59.42 87.56 
L 60.18 88.17 
L 60.34 88.29 
L 60.93 88.73 
L 61.42 89.05 
L 61.69 89.23 
L 62.45 89.68 
L 62.68 89.80 
L 63.21 90.09 
L 63.96 90.45 
L 64.24 90.56 
L 64.72 90.77 
L 65.48 91.05 
L 66.24 91.27 
L 66.42 91.32 
L 66.99 91.47 
z
" clip-path="url(#p1f6addf977)" style="fill: none; stroke-dasharray: 2.75,1.16; stroke-dashoffset: 0; stroke: #e28616; stroke-width: 1.45"/>
    <path d="M 63.96 321.61 
L 64.72 321.79 
L 65.48 321.93 
L 66.24 322.02 
L 66.99 322.06 
L 67.75 322.06 
L 68.51 322.01 
L 69.27 321.91 
L 70.02 321.77 
L 70.78 321.57 
L 70.78 321.57 
L 71.54 321.32 
L 72.3 321.00 
L 72.69 320.81 
L 73.05 320.63 
L 73.81 320.17 
L 73.99 320.05 
L 74.57 319.63 
L 74.99 319.29 
L 75.33 318.99 
L 75.79 318.54 
L 76.08 318.23 
L 76.47 317.78 
L 76.84 317.29 
L 77.04 317.02 
L 77.52 316.26 
L 77.60 316.13 
L 77.93 315.51 
L 78.28 314.75 
L 78.36 314.56 
L 78.58 313.99 
L 78.82 313.24 
L 79.01 312.48 
L 79.11 311.95 
L 79.16 311.72 
L 79.27 310.96 
L 79.34 310.21 
L 79.36 309.45 
L 79.35 308.69 
L 79.30 307.93 
L 79.21 307.18 
L 79.11 306.62 
L 79.08 306.42 
L 78.91 305.66 
L 78.70 304.90 
L 78.43 304.15 
L 78.36 303.95 
L 78.12 303.39 
L 77.76 302.63 
L 77.60 302.33 
L 77.34 301.87 
L 76.84 301.12 
L 76.84 301.12 
L 76.26 300.36 
L 76.08 300.15 
L 75.58 299.60 
L 75.33 299.35 
L 74.75 298.84 
L 74.57 298.69 
L 73.81 298.14 
L 73.73 298.09 
L 73.05 297.68 
L 72.34 297.33 
L 72.3 297.31 
L 71.54 297.00 
L 70.78 296.76 
L 70.02 296.59 
L 69.90 296.57 
L 69.27 296.47 
L 68.51 296.41 
L 67.75 296.40 
L 66.99 296.44 
L 66.24 296.54 
L 66.05 296.57 
L 65.48 296.68 
L 64.72 296.86 
L 63.96 297.11 
L 63.41 297.33 
L 63.21 297.41 
L 62.45 297.76 
L 61.85 298.09 
L 61.69 298.17 
L 60.93 298.65 
L 60.66 298.84 
L 60.18 299.19 
L 59.68 299.60 
L 59.42 299.82 
L 58.86 300.36 
L 58.66 300.55 
L 58.15 301.12 
L 57.90 301.40 
L 57.54 301.87 
L 57.15 302.42 
L 57.00 302.63 
L 56.54 303.39 
L 56.39 303.68 
L 56.15 304.15 
L 55.81 304.90 
L 55.63 305.39 
L 55.53 305.66 
L 55.29 306.42 
L 55.11 307.18 
L 54.98 307.93 
L 54.90 308.69 
L 54.87 309.14 
L 54.85 309.45 
L 54.85 310.21 
L 54.87 310.49 
L 54.90 310.96 
L 54.99 311.72 
L 55.12 312.48 
L 55.31 313.24 
L 55.56 313.99 
L 55.63 314.17 
L 55.85 314.75 
L 56.22 315.51 
L 56.39 315.81 
L 56.65 316.26 
L 57.15 316.99 
L 57.17 317.02 
L 57.78 317.78 
L 57.90 317.92 
L 58.50 318.54 
L 58.66 318.69 
L 59.37 319.29 
L 59.42 319.34 
L 60.18 319.89 
L 60.44 320.05 
L 60.93 320.36 
L 61.69 320.76 
L 61.81 320.81 
L 62.45 321.10 
L 63.21 321.38 
L 63.83 321.57 
L 63.96 321.61 
z
M 66.24 86.05 
L 66.99 86.15 
L 67.75 86.19 
L 68.51 86.18 
L 69.27 86.12 
L 69.90 86.02 
L 70.02 86.00 
L 70.78 85.83 
L 71.54 85.59 
L 72.3 85.28 
L 72.34 85.26 
L 73.05 84.91 
L 73.73 84.50 
L 73.81 84.45 
L 74.57 83.90 
L 74.75 83.75 
L 75.33 83.24 
L 75.58 82.99 
L 76.08 82.44 
L 76.26 82.23 
L 76.84 81.47 
L 76.84 81.47 
L 77.34 80.72 
L 77.60 80.26 
L 77.76 79.96 
L 78.12 79.20 
L 78.36 78.64 
L 78.43 78.44 
L 78.70 77.69 
L 78.91 76.93 
L 79.08 76.17 
L 79.11 75.97 
L 79.21 75.41 
L 79.30 74.66 
L 79.35 73.90 
L 79.36 73.14 
L 79.34 72.38 
L 79.27 71.63 
L 79.16 70.87 
L 79.11 70.64 
L 79.01 70.11 
L 78.82 69.36 
L 78.58 68.60 
L 78.36 68.03 
L 78.28 67.84 
L 77.93 67.08 
L 77.60 66.46 
L 77.52 66.33 
L 77.04 65.57 
L 76.84 65.30 
L 76.47 64.81 
L 76.08 64.36 
L 75.79 64.05 
L 75.33 63.60 
L 74.99 63.30 
L 74.57 62.96 
L 73.99 62.54 
L 73.81 62.42 
L 73.05 61.96 
L 72.69 61.78 
L 72.3 61.59 
L 71.54 61.27 
L 70.78 61.02 
L 70.78 61.02 
L 70.02 60.82 
L 69.27 60.68 
L 68.51 60.58 
L 67.75 60.53 
L 66.99 60.53 
L 66.24 60.57 
L 65.48 60.66 
L 64.72 60.80 
L 63.96 60.98 
L 63.83 61.02 
L 63.21 61.21 
L 62.45 61.49 
L 61.81 61.78 
L 61.69 61.83 
L 60.93 62.23 
L 60.44 62.54 
L 60.18 62.70 
L 59.42 63.25 
L 59.37 63.30 
L 58.66 63.90 
L 58.50 64.05 
L 57.90 64.67 
L 57.78 64.81 
L 57.17 65.57 
L 57.15 65.60 
L 56.65 66.33 
L 56.39 66.78 
L 56.22 67.08 
L 55.85 67.84 
L 55.63 68.42 
L 55.56 68.60 
L 55.31 69.36 
L 55.12 70.11 
L 54.99 70.87 
L 54.90 71.63 
L 54.87 72.10 
L 54.85 72.38 
L 54.85 73.14 
L 54.87 73.45 
L 54.90 73.90 
L 54.98 74.66 
L 55.11 75.41 
L 55.29 76.17 
L 55.53 76.93 
L 55.63 77.20 
L 55.81 77.69 
L 56.15 78.44 
L 56.39 78.91 
L 56.54 79.20 
L 57.00 79.96 
L 57.15 80.17 
L 57.54 80.72 
L 57.90 81.19 
L 58.15 81.47 
L 58.66 82.04 
L 58.86 82.23 
L 59.42 82.77 
L 59.68 82.99 
L 60.18 83.40 
L 60.66 83.75 
L 60.93 83.94 
L 61.69 84.42 
L 61.85 84.50 
L 62.45 84.83 
L 63.21 85.18 
L 63.41 85.26 
L 63.96 85.48 
L 64.72 85.73 
L 65.48 85.91 
L 66.05 86.02 
L 66.24 86.05 
z
" clip-path="url(#p1f6addf977)" style="fill: none; stroke-dasharray: 2.75,1.16; stroke-dashoffset: 0; stroke: #e28616; stroke-width: 1.45"/>
    <path d="M 64.72 319.40 
L 65.48 319.50 
L 66.24 319.55 
L 66.99 319.53 
L 67.75 319.45 
L 68.51 319.31 
L 68.57 319.29 
L 69.27 319.11 
L 70.02 318.84 
L 70.67 318.54 
L 70.78 318.48 
L 71.54 318.04 
L 71.92 317.78 
L 72.3 317.50 
L 72.85 317.02 
L 73.05 316.82 
L 73.57 316.26 
L 73.81 315.97 
L 74.16 315.51 
L 74.57 314.86 
L 74.63 314.75 
L 75.02 313.99 
L 75.33 313.24 
L 75.33 313.24 
L 75.57 312.48 
L 75.75 311.72 
L 75.87 310.96 
L 75.93 310.21 
L 75.94 309.45 
L 75.90 308.69 
L 75.80 307.93 
L 75.64 307.18 
L 75.42 306.42 
L 75.33 306.16 
L 75.14 305.66 
L 74.78 304.90 
L 74.57 304.53 
L 74.34 304.15 
L 73.81 303.41 
L 73.79 303.39 
L 73.12 302.63 
L 73.05 302.56 
L 72.3 301.89 
L 72.27 301.87 
L 71.54 301.35 
L 71.13 301.12 
L 70.78 300.92 
L 70.02 300.58 
L 69.35 300.36 
L 69.27 300.33 
L 68.51 300.15 
L 67.75 300.03 
L 66.99 299.98 
L 66.24 299.99 
L 65.48 300.06 
L 64.72 300.20 
L 64.12 300.36 
L 63.96 300.40 
L 63.21 300.65 
L 62.45 300.99 
L 62.21 301.12 
L 61.69 301.39 
L 60.95 301.87 
L 60.93 301.88 
L 60.18 302.47 
L 60.00 302.63 
L 59.42 303.18 
L 59.23 303.39 
L 58.66 304.07 
L 58.60 304.15 
L 58.09 304.90 
L 57.90 305.24 
L 57.67 305.66 
L 57.34 306.42 
L 57.15 307.01 
L 57.09 307.18 
L 56.89 307.93 
L 56.76 308.69 
L 56.69 309.45 
L 56.68 310.21 
L 56.72 310.96 
L 56.82 311.72 
L 56.98 312.48 
L 57.15 313.00 
L 57.21 313.24 
L 57.51 313.99 
L 57.89 314.75 
L 57.90 314.76 
L 58.37 315.51 
L 58.66 315.89 
L 58.98 316.26 
L 59.42 316.73 
L 59.74 317.02 
L 60.18 317.40 
L 60.71 317.78 
L 60.93 317.93 
L 61.69 318.38 
L 62.03 318.54 
L 62.45 318.74 
L 63.21 319.03 
L 63.96 319.24 
L 64.23 319.29 
L 64.72 319.40 
z
M 64.72 82.39 
L 65.48 82.53 
L 66.24 82.60 
L 66.99 82.61 
L 67.75 82.56 
L 68.51 82.44 
L 69.27 82.26 
L 69.35 82.23 
L 70.02 82.01 
L 70.78 81.67 
L 71.13 81.47 
L 71.54 81.24 
L 72.27 80.72 
L 72.3 80.70 
L 73.05 80.03 
L 73.12 79.96 
L 73.79 79.20 
L 73.81 79.18 
L 74.34 78.44 
L 74.57 78.06 
L 74.78 77.69 
L 75.14 76.93 
L 75.33 76.43 
L 75.42 76.17 
L 75.64 75.41 
L 75.80 74.66 
L 75.90 73.90 
L 75.94 73.14 
L 75.93 72.38 
L 75.87 71.63 
L 75.75 70.87 
L 75.57 70.11 
L 75.33 69.36 
L 75.33 69.35 
L 75.02 68.60 
L 74.63 67.84 
L 74.57 67.73 
L 74.16 67.08 
L 73.81 66.62 
L 73.57 66.33 
L 73.05 65.77 
L 72.85 65.57 
L 72.3 65.09 
L 71.92 64.81 
L 71.54 64.55 
L 70.78 64.11 
L 70.67 64.05 
L 70.02 63.75 
L 69.27 63.48 
L 68.57 63.30 
L 68.51 63.28 
L 67.75 63.14 
L 66.99 63.06 
L 66.24 63.04 
L 65.48 63.09 
L 64.72 63.19 
L 64.23 63.30 
L 63.96 63.35 
L 63.21 63.56 
L 62.45 63.85 
L 62.03 64.05 
L 61.69 64.21 
L 60.93 64.66 
L 60.71 64.81 
L 60.18 65.19 
L 59.74 65.57 
L 59.42 65.86 
L 58.98 66.33 
L 58.66 66.70 
L 58.37 67.08 
L 57.90 67.83 
L 57.89 67.84 
L 57.51 68.60 
L 57.21 69.36 
L 57.15 69.59 
L 56.98 70.11 
L 56.82 70.87 
L 56.72 71.63 
L 56.68 72.38 
L 56.69 73.14 
L 56.76 73.90 
L 56.89 74.66 
L 57.09 75.41 
L 57.15 75.58 
L 57.34 76.17 
L 57.67 76.93 
L 57.90 77.35 
L 58.09 77.69 
L 58.60 78.44 
L 58.66 78.52 
L 59.23 79.20 
L 59.42 79.41 
L 60.00 79.96 
L 60.18 80.12 
L 60.93 80.71 
L 60.95 80.72 
L 61.69 81.20 
L 62.21 81.47 
L 62.45 81.60 
L 63.21 81.94 
L 63.96 82.19 
L 64.12 82.23 
L 64.72 82.39 
z
" clip-path="url(#p1f6addf977)" style="fill: none; stroke-dasharray: 2.75,1.16; stroke-dashoffset: 0; stroke: #e28616; stroke-width: 1.45"/>
    <path d="M 63.21 317.14 
L 63.96 317.36 
L 64.72 317.49 
L 65.48 317.55 
L 66.24 317.54 
L 66.99 317.46 
L 67.75 317.29 
L 68.51 317.03 
L 68.53 317.02 
L 69.27 316.68 
L 69.94 316.26 
L 70.02 316.21 
L 70.78 315.58 
L 70.86 315.51 
L 71.54 314.75 
L 71.54 314.75 
L 72.07 313.99 
L 72.3 313.56 
L 72.46 313.24 
L 72.77 312.48 
L 72.98 311.72 
L 73.05 311.28 
L 73.11 310.96 
L 73.17 310.21 
L 73.16 309.45 
L 73.07 308.69 
L 73.05 308.60 
L 72.91 307.93 
L 72.67 307.18 
L 72.33 306.42 
L 72.3 306.35 
L 71.89 305.66 
L 71.54 305.19 
L 71.31 304.90 
L 70.78 304.37 
L 70.53 304.15 
L 70.02 303.76 
L 69.42 303.39 
L 69.27 303.30 
L 68.51 302.96 
L 67.75 302.72 
L 67.30 302.63 
L 66.99 302.57 
L 66.24 302.50 
L 65.48 302.51 
L 64.72 302.59 
L 64.54 302.63 
L 63.96 302.75 
L 63.21 302.98 
L 62.45 303.30 
L 62.30 303.39 
L 61.69 303.71 
L 61.07 304.15 
L 60.93 304.24 
L 60.19 304.90 
L 60.18 304.92 
L 59.54 305.66 
L 59.42 305.82 
L 59.04 306.42 
L 58.69 307.18 
L 58.66 307.26 
L 58.43 307.93 
L 58.26 308.69 
L 58.16 309.45 
L 58.14 310.21 
L 58.18 310.96 
L 58.29 311.72 
L 58.47 312.48 
L 58.66 312.99 
L 58.75 313.24 
L 59.12 313.99 
L 59.42 314.45 
L 59.64 314.75 
L 60.18 315.34 
L 60.36 315.51 
L 60.93 315.98 
L 61.37 316.26 
L 61.69 316.47 
L 62.45 316.85 
L 62.90 317.02 
L 63.21 317.14 
z
M 64.72 80.00 
L 65.48 80.08 
L 66.24 80.09 
L 66.99 80.02 
L 67.30 79.96 
L 67.75 79.87 
L 68.51 79.63 
L 69.27 79.29 
L 69.42 79.20 
L 70.02 78.83 
L 70.53 78.44 
L 70.78 78.22 
L 71.31 77.69 
L 71.54 77.40 
L 71.89 76.93 
L 72.3 76.24 
L 72.33 76.17 
L 72.67 75.41 
L 72.91 74.66 
L 73.05 73.99 
L 73.07 73.90 
L 73.16 73.14 
L 73.17 72.38 
L 73.11 71.63 
L 73.05 71.31 
L 72.98 70.87 
L 72.77 70.11 
L 72.46 69.36 
L 72.3 69.03 
L 72.07 68.60 
L 71.54 67.84 
L 71.54 67.84 
L 70.86 67.08 
L 70.78 67.01 
L 70.02 66.38 
L 69.94 66.33 
L 69.27 65.91 
L 68.53 65.57 
L 68.51 65.56 
L 67.75 65.30 
L 66.99 65.13 
L 66.24 65.05 
L 65.48 65.04 
L 64.72 65.10 
L 63.96 65.23 
L 63.21 65.45 
L 62.90 65.57 
L 62.45 65.74 
L 61.69 66.12 
L 61.37 66.33 
L 60.93 66.61 
L 60.36 67.08 
L 60.18 67.25 
L 59.64 67.84 
L 59.42 68.14 
L 59.12 68.60 
L 58.75 69.36 
L 58.66 69.60 
L 58.47 70.11 
L 58.29 70.87 
L 58.18 71.63 
L 58.14 72.38 
L 58.16 73.14 
L 58.26 73.90 
L 58.43 74.66 
L 58.66 75.33 
L 58.69 75.41 
L 59.04 76.17 
L 59.42 76.77 
L 59.54 76.93 
L 60.18 77.67 
L 60.19 77.69 
L 60.93 78.35 
L 61.07 78.44 
L 61.69 78.88 
L 62.30 79.20 
L 62.45 79.29 
L 63.21 79.61 
L 63.96 79.84 
L 64.54 79.96 
L 64.72 80.00 
z
" clip-path="url(#p1f6addf977)" style="fill: none; stroke-dasharray: 2.75,1.16; stroke-dashoffset: 0; stroke: #e28616; stroke-width: 1.45"/>
    <path d="M 59.87 312.93 
L 59.98 313.24 
L 60.18 313.55 
L 60.50 313.99 
L 60.93 314.42 
L 61.42 314.75 
L 61.69 314.94 
L 62.45 315.35 
L 62.87 315.51 
L 63.21 315.64 
L 63.96 315.85 
L 64.72 315.96 
L 65.48 315.99 
L 66.24 315.93 
L 66.99 315.76 
L 67.66 315.51 
L 67.75 315.47 
L 68.51 315.04 
L 68.89 314.75 
L 69.27 314.40 
L 69.64 313.99 
L 70.02 313.44 
L 70.16 313.24 
L 70.53 312.48 
L 70.78 311.72 
L 70.78 311.71 
L 70.94 310.96 
L 70.99 310.21 
L 70.96 309.45 
L 70.83 308.69 
L 70.78 308.53 
L 70.61 307.93 
L 70.26 307.18 
L 70.02 306.80 
L 69.77 306.42 
L 69.27 305.86 
L 69.05 305.66 
L 68.51 305.24 
L 67.90 304.90 
L 67.75 304.83 
L 66.99 304.55 
L 66.24 304.39 
L 65.48 304.34 
L 64.72 304.38 
L 63.96 304.50 
L 63.21 304.73 
L 62.79 304.90 
L 62.45 305.04 
L 61.69 305.47 
L 61.44 305.66 
L 60.93 306.03 
L 60.55 306.42 
L 60.18 306.89 
L 59.99 307.18 
L 59.87 307.48 
M 59.87 75.11 
L 59.99 75.41 
L 60.18 75.70 
L 60.55 76.17 
L 60.93 76.56 
L 61.44 76.93 
L 61.69 77.12 
L 62.45 77.55 
L 62.79 77.69 
L 63.21 77.86 
L 63.96 78.09 
L 64.72 78.21 
L 65.48 78.25 
L 66.24 78.20 
L 66.99 78.04 
L 67.75 77.76 
L 67.90 77.69 
L 68.51 77.35 
L 69.05 76.93 
L 69.27 76.73 
L 69.77 76.17 
L 70.02 75.79 
L 70.26 75.41 
L 70.61 74.66 
L 70.78 74.06 
L 70.83 73.90 
L 70.96 73.14 
L 70.99 72.38 
L 70.94 71.63 
L 70.78 70.88 
L 70.78 70.87 
L 70.53 70.11 
L 70.16 69.36 
L 70.02 69.15 
L 69.64 68.60 
L 69.27 68.19 
L 68.89 67.84 
L 68.51 67.55 
L 67.75 67.12 
L 67.66 67.08 
L 66.99 66.83 
L 66.24 66.66 
L 65.48 66.60 
L 64.72 66.63 
L 63.96 66.74 
L 63.21 66.95 
L 62.87 67.08 
L 62.45 67.24 
L 61.69 67.65 
L 61.42 67.84 
L 60.93 68.17 
L 60.50 68.60 
L 60.18 69.04 
L 59.98 69.36 
L 59.87 69.66 
" clip-path="url(#p1f6addf977)" style="fill: none; stroke-dasharray: 2.75,1.16; stroke-dashoffset: 0; stroke: #e28616; stroke-width: 1.45"/>
    <path d="M 66.44 314.54 
L 66.99 314.39 
L 67.63 313.99 
M 68.51 312.94 
L 68.78 312.48 
L 68.93 312.05 
M 69.27 310.42 
L 69.28 310.21 
L 69.27 309.97 
M 68.95 308.37 
L 68.79 307.93 
L 68.51 307.47 
L 68.33 307.18 
L 67.75 306.57 
L 67.54 306.42 
L 66.99 306.10 
L 66.55 305.97 
M 66.55 76.62 
L 66.99 76.49 
L 67.54 76.17 
L 67.75 76.02 
L 68.33 75.41 
L 68.51 75.12 
L 68.79 74.66 
L 68.95 74.22 
M 69.27 72.62 
L 69.28 72.38 
L 69.27 72.17 
M 68.93 70.54 
L 68.78 70.11 
L 68.51 69.65 
M 67.63 68.60 
L 66.99 68.20 
L 66.44 68.05 
" clip-path="url(#p1f6addf977)" style="fill: none; stroke-dasharray: 2.75,1.16; stroke-dashoffset: 0; stroke: #e28616; stroke-width: 1.45"/>
    <path clip-path="url(#p1f6addf977)" style="fill: none; stroke-dasharray: 2.75,1.16; stroke-dashoffset: 0; stroke: #e28616; stroke-width: 1.45"/>
    <path clip-path="url(#p1f6addf977)" style="fill: none; stroke-dasharray: 2.75,1.16; stroke-dashoffset: 0; stroke: #e28616; stroke-width: 1.45"/>
    <path clip-path="url(#p1f6addf977)" style="fill: none; stroke-dasharray: 2.75,1.16; stroke-dashoffset: 0; stroke: #e28616; stroke-width: 1.45"/>
    <path clip-path="url(#p1f6addf977)" style="fill: none; stroke-dasharray: 2.75,1.16; stroke-dashoffset: 0; stroke: #e28616; stroke-width: 1.45"/>
   </g>
   <g id="line2d_1">
    <path d="M 61.07 191.3 
L 62.09 178.55 
L 63.34 164.91 
L 64.14 158.32 
L 64.99 153.01 
L 65.95 148.40 
L 66.89 144.75 
L 68.05 140.95 
L 69.45 137.01 
L 71.14 132.95 
L 73.80 127.24 
L 77.74 118.99 
L 79.46 114.84 
L 80.79 114.51 
L 82.42 115.72 
L 85.44 117.59 
L 89.59 119.72 
L 98.29 123.92 
L 101.69 125.84 
L 104.89 127.97 
L 107.87 130.29 
L 110.63 132.77 
L 113.16 135.35 
L 115.47 137.99 
L 117.58 140.66 
L 120.07 144.25 
L 122.21 147.84 
L 124.02 151.41 
L 125.53 154.93 
L 126.78 158.36 
L 128.28 163.24 
L 130.64 171.94 
L 132.27 178.50 
L 133.16 182.98 
L 133.66 186.81 
L 133.86 190.01 
L 133.84 193.22 
L 133.60 196.42 
L 133.16 199.61 
L 132.42 203.45 
L 131.17 208.64 
L 128.28 219.35 
L 126.78 224.23 
L 125.53 227.66 
L 124.02 231.18 
L 122.21 234.75 
L 120.07 238.34 
L 118.23 241.03 
L 116.20 243.71 
L 113.96 246.37 
L 111.50 248.97 
L 108.82 251.49 
L 105.91 253.87 
L 102.78 256.06 
L 99.45 258.04 
L 95.92 259.87 
L 85.44 265.00 
L 82.42 266.87 
L 80.79 268.08 
L 79.46 267.75 
L 77.74 263.60 
L 74.54 256.86 
L 71.14 249.64 
L 69.45 245.58 
L 68.05 241.64 
L 66.89 237.84 
L 65.68 233.01 
L 64.79 228.47 
L 64.00 223.27 
L 63.25 216.81 
L 62.32 206.78 
L 61.07 191.3 
L 61.07 191.3 
" clip-path="url(#p1f6addf977)" style="fill: none; stroke-dasharray: 2.75,1.16; stroke-dashoffset: 0; stroke: #e28616; stroke-width: 1.45"/>
   </g>
   <g id="line2d_2">
    <path d="M 65.21 191.3 
L 66.01 177.44 
L 66.75 165.46 
L 67.32 159.97 
L 67.93 155.95 
L 68.79 151.68 
L 69.67 148.33 
L 70.76 144.89 
L 72.11 141.39 
L 73.72 137.85 
L 75.61 134.28 
L 78.54 129.40 
L 81.87 123.98 
L 82.75 122.42 
L 83.93 122.05 
L 86.64 123.18 
L 90.44 124.40 
L 96.38 126.26 
L 99.76 127.57 
L 103.00 129.13 
L 105.06 130.33 
L 107.99 132.35 
L 110.70 134.61 
L 113.19 137.05 
L 115.44 139.62 
L 117.47 142.28 
L 119.27 144.99 
L 120.85 147.73 
L 122.65 151.35 
L 124.13 154.91 
L 125.34 158.35 
L 126.77 163.18 
L 129.69 173.37 
L 132.44 182.24 
L 133.11 185.22 
L 133.54 188.24 
L 133.69 190.68 
L 133.64 193.13 
L 133.40 195.56 
L 132.86 198.57 
L 132.12 201.53 
L 130.66 206.22 
L 128.35 213.67 
L 125.06 225.09 
L 123.79 228.56 
L 122.24 232.14 
L 120.85 234.86 
L 119.27 237.60 
L 117.47 240.31 
L 115.44 242.97 
L 113.19 245.54 
L 110.70 247.98 
L 107.99 250.24 
L 105.06 252.26 
L 103.00 253.46 
L 99.76 255.02 
L 96.38 256.33 
L 91.66 257.83 
L 86.64 259.41 
L 83.93 260.54 
L 82.75 260.17 
L 80.16 255.79 
L 76.30 249.51 
L 74.32 245.93 
L 72.62 242.38 
L 71.18 238.86 
L 70.01 235.40 
L 69.06 232.02 
L 68.11 227.68 
L 67.45 223.60 
L 66.90 218.89 
L 66.45 213.01 
L 65.21 191.3 
L 65.21 191.3 
" clip-path="url(#p1f6addf977)" style="fill: none; stroke-dasharray: 2.75,1.16; stroke-dashoffset: 0; stroke: #e28616; stroke-width: 1.45"/>
   </g>
   <g id="line2d_3">
    <path d="M 69.53 191.3 
L 70.32 169.56 
L 70.65 164.65 
L 71.17 160.13 
L 71.85 156.25 
L 72.57 153.22 
L 73.49 150.12 
L 74.65 146.98 
L 76.06 143.84 
L 77.73 140.75 
L 79.67 137.72 
L 81.85 134.73 
L 85.98 129.54 
L 87.03 129.15 
L 90.47 129.66 
L 94.90 130.26 
L 98.13 130.93 
L 101.27 131.88 
L 103.31 132.69 
L 105.28 133.64 
L 107.18 134.74 
L 109.00 135.97 
L 111.56 138.05 
L 113.89 140.34 
L 115.99 142.81 
L 117.86 145.39 
L 119.50 148.04 
L 120.91 150.72 
L 122.48 154.27 
L 123.74 157.73 
L 124.98 161.82 
L 128.31 173.75 
L 129.93 178.08 
L 131.68 182.87 
L 132.44 185.62 
L 132.86 187.87 
L 133.08 190.15 
L 133.08 192.44 
L 132.86 194.72 
L 132.44 196.97 
L 131.68 199.72 
L 130.54 202.92 
L 127.93 209.97 
L 126.85 213.63 
L 123.74 224.86 
L 122.48 228.32 
L 120.91 231.87 
L 119.50 234.55 
L 117.86 237.20 
L 115.99 239.78 
L 113.89 242.25 
L 111.56 244.54 
L 109.00 246.62 
L 107.18 247.85 
L 105.28 248.95 
L 103.31 249.90 
L 101.27 250.71 
L 98.13 251.66 
L 94.90 252.33 
L 90.47 252.93 
L 87.03 253.44 
L 85.98 253.05 
L 79.67 244.87 
L 77.73 241.84 
L 76.06 238.75 
L 74.65 235.61 
L 73.49 232.47 
L 72.57 229.37 
L 71.66 225.35 
L 71.04 221.53 
L 70.57 217.08 
L 70.26 211.51 
L 69.53 191.3 
L 69.53 191.3 
" clip-path="url(#p1f6addf977)" style="fill: none; stroke-dasharray: 2.75,1.16; stroke-dashoffset: 0; stroke: #e28616; stroke-width: 1.45"/>
   </g>
   <g id="line2d_4">
    <path d="M 73.62 191.3 
L 74.17 168.99 
L 74.47 164.99 
L 74.92 161.54 
L 75.62 157.91 
L 76.36 155.10 
L 77.31 152.26 
L 78.50 149.43 
L 79.93 146.64 
L 81.61 143.95 
L 83.54 141.38 
L 85.70 138.93 
L 88.88 135.75 
L 89.82 135.37 
L 95.82 135.25 
L 98.79 135.53 
L 100.74 135.88 
L 102.67 136.39 
L 104.55 137.06 
L 106.38 137.88 
L 108.15 138.85 
L 109.84 139.96 
L 112.22 141.85 
L 114.39 143.99 
L 116.33 146.31 
L 118.04 148.76 
L 119.53 151.28 
L 120.80 153.84 
L 122.18 157.23 
L 123.28 160.50 
L 124.51 165.07 
L 126.46 172.65 
L 127.53 175.78 
L 129.14 179.65 
L 130.72 183.52 
L 131.51 186.04 
L 131.95 188.12 
L 132.17 190.23 
L 132.17 192.36 
L 131.95 194.47 
L 131.51 196.55 
L 130.72 199.07 
L 129.55 201.98 
L 127.16 207.82 
L 126.13 211.07 
L 125.02 215.43 
L 123.51 221.30 
L 122.48 224.53 
L 121.17 227.90 
L 119.97 230.46 
L 118.56 233.00 
L 116.92 235.48 
L 115.06 237.85 
L 112.97 240.05 
L 110.66 242.03 
L 109.01 243.21 
L 107.28 244.25 
L 105.48 245.14 
L 103.62 245.89 
L 101.71 246.47 
L 99.77 246.90 
L 96.81 247.28 
L 93.83 247.36 
L 89.82 247.22 
L 88.88 246.84 
L 85.70 243.66 
L 83.54 241.21 
L 81.61 238.64 
L 79.93 235.95 
L 78.50 233.16 
L 77.31 230.33 
L 76.36 227.49 
L 75.62 224.68 
L 74.92 221.05 
L 74.47 217.60 
L 74.17 213.60 
L 74.00 207.94 
L 73.73 195.23 
L 73.62 191.3 
L 73.62 191.3 
" clip-path="url(#p1f6addf977)" style="fill: none; stroke-dasharray: 2.75,1.16; stroke-dashoffset: 0; stroke: #e28616; stroke-width: 1.45"/>
   </g>
   <g id="line2d_5">
    <path d="M 77.93 191.3 
L 78.27 170.38 
L 78.56 166.66 
L 79.02 163.48 
L 79.73 160.16 
L 80.48 157.62 
L 81.43 155.07 
L 82.60 152.56 
L 84.01 150.14 
L 85.64 147.84 
L 87.50 145.70 
L 89.56 143.73 
L 91.80 141.93 
L 92.63 141.56 
L 95.25 141.09 
L 97.90 140.84 
L 100.56 140.92 
L 102.33 141.16 
L 104.07 141.55 
L 105.78 142.10 
L 107.44 142.80 
L 109.05 143.65 
L 110.59 144.64 
L 112.76 146.35 
L 114.73 148.29 
L 116.48 150.42 
L 118.03 152.67 
L 119.36 155.01 
L 120.48 157.38 
L 121.70 160.51 
L 122.64 163.53 
L 123.70 167.72 
L 125.26 174.06 
L 126.23 176.91 
L 127.54 179.95 
L 129.46 184.26 
L 130.23 186.53 
L 130.65 188.41 
L 130.88 190.33 
L 130.88 192.26 
L 130.65 194.18 
L 130.23 196.06 
L 129.46 198.33 
L 128.13 201.37 
L 126.23 205.68 
L 125.26 208.53 
L 124.41 211.78 
L 122.43 219.80 
L 121.42 222.85 
L 120.13 226.00 
L 118.94 228.36 
L 117.54 230.68 
L 115.92 232.90 
L 114.09 234.97 
L 112.06 236.84 
L 109.83 238.46 
L 108.26 239.38 
L 106.62 240.16 
L 104.93 240.78 
L 103.20 241.26 
L 101.44 241.57 
L 99.67 241.73 
L 97.01 241.70 
L 94.37 241.36 
L 92.63 241.03 
L 91.80 240.66 
L 89.56 238.86 
L 87.50 236.89 
L 85.64 234.75 
L 84.01 232.45 
L 82.60 230.03 
L 81.43 227.52 
L 80.48 224.97 
L 79.73 222.43 
L 79.02 219.11 
L 78.56 215.93 
L 78.27 212.21 
L 78.14 207.57 
L 77.94 191.74 
L 77.93 191.3 
L 77.93 191.3 
" clip-path="url(#p1f6addf977)" style="fill: none; stroke-dasharray: 2.75,1.16; stroke-dashoffset: 0; stroke: #e28616; stroke-width: 1.45"/>
   </g>
   <g id="line2d_6">
    <path d="M 82.19 191.3 
L 82.41 172.02 
L 82.71 168.64 
L 83.17 165.77 
L 83.88 162.79 
L 84.61 160.54 
L 85.53 158.30 
L 86.66 156.11 
L 87.99 154.03 
L 89.54 152.09 
L 91.27 150.33 
L 93.19 148.77 
L 94.56 147.85 
L 96.03 147.28 
L 98.33 146.74 
L 100.67 146.50 
L 103.03 146.58 
L 104.59 146.82 
L 106.13 147.21 
L 108.37 148.06 
L 110.50 149.22 
L 112.49 150.66 
L 114.31 152.32 
L 115.94 154.18 
L 117.37 156.17 
L 118.61 158.26 
L 119.66 160.39 
L 120.79 163.23 
L 121.85 166.65 
L 122.88 170.98 
L 123.99 175.59 
L 124.83 178.15 
L 125.83 180.48 
L 128.26 185.83 
L 128.89 187.88 
L 129.19 189.57 
L 129.30 191.3 
L 129.19 193.02 
L 128.89 194.71 
L 128.26 196.76 
L 127.28 199.11 
L 124.68 204.84 
L 123.86 207.46 
L 123.01 211.05 
L 121.85 215.94 
L 120.79 219.36 
L 119.66 222.20 
L 118.61 224.33 
L 117.37 226.42 
L 115.94 228.41 
L 114.31 230.27 
L 112.49 231.93 
L 110.50 233.37 
L 108.37 234.53 
L 106.13 235.38 
L 104.59 235.77 
L 103.03 236.01 
L 100.67 236.09 
L 98.33 235.85 
L 96.03 235.31 
L 94.56 234.74 
L 92.53 233.32 
L 90.67 231.70 
L 89.00 229.87 
L 87.53 227.88 
L 86.26 225.76 
L 85.20 223.55 
L 84.34 221.30 
L 83.49 218.30 
L 82.91 215.37 
L 82.50 211.89 
L 82.31 208.08 
L 82.31 202.16 
L 82.25 195.23 
L 82.19 191.3 
L 82.19 191.3 
" clip-path="url(#p1f6addf977)" style="fill: none; stroke-dasharray: 2.75,1.16; stroke-dashoffset: 0; stroke: #e28616; stroke-width: 1.45"/>
   </g>
   <g id="line2d_7">
    <path d="M 86.88 191.3 
L 87.02 174.80 
L 87.27 171.91 
L 87.66 169.45 
L 88.27 166.91 
L 89.15 164.34 
L 90.00 162.45 
L 91.04 160.62 
L 92.25 158.90 
L 93.63 157.33 
L 95.18 155.93 
L 96.88 154.74 
L 98.09 154.10 
L 100.00 153.47 
L 101.98 153.11 
L 103.99 153.04 
L 106.00 153.26 
L 107.96 153.79 
L 109.85 154.59 
L 111.64 155.66 
L 113.30 156.95 
L 114.80 158.44 
L 116.14 160.08 
L 117.31 161.82 
L 118.61 164.25 
L 119.63 166.70 
L 120.58 169.68 
L 121.49 173.47 
L 122.64 178.29 
L 123.39 180.43 
L 124.43 182.70 
L 126.12 186.28 
L 126.70 188.02 
L 127.06 189.82 
L 127.15 191.3 
L 127.06 192.77 
L 126.70 194.57 
L 126.12 196.31 
L 125.07 198.61 
L 123.25 202.50 
L 122.53 204.68 
L 121.81 207.66 
L 120.58 212.91 
L 119.63 215.89 
L 118.61 218.34 
L 117.31 220.77 
L 116.14 222.51 
L 114.80 224.15 
L 113.30 225.64 
L 111.64 226.93 
L 109.85 228.00 
L 107.96 228.80 
L 106.00 229.33 
L 103.99 229.55 
L 101.98 229.48 
L 100.00 229.12 
L 98.09 228.49 
L 96.88 227.85 
L 95.18 226.66 
L 93.63 225.26 
L 92.25 223.69 
L 91.04 221.97 
L 90.00 220.14 
L 89.15 218.25 
L 88.27 215.68 
L 87.66 213.14 
L 87.20 210.09 
L 86.97 206.70 
L 86.94 202.30 
L 86.92 194.32 
L 86.88 191.3 
L 86.88 191.3 
" clip-path="url(#p1f6addf977)" style="fill: none; stroke-dasharray: 2.75,1.16; stroke-dashoffset: 0; stroke: #e28616; stroke-width: 1.45"/>
   </g>
   <g id="line2d_8">
    <path d="M 91.07 191.3 
L 91.19 176.96 
L 91.52 173.97 
L 92.07 171.33 
L 92.75 169.17 
L 93.68 167.05 
L 94.55 165.52 
L 95.57 164.09 
L 96.73 162.78 
L 98.04 161.62 
L 99.47 160.65 
L 101.01 159.91 
L 102.64 159.42 
L 104.31 159.17 
L 106.00 159.18 
L 107.67 159.45 
L 109.31 159.96 
L 110.87 160.71 
L 112.34 161.67 
L 113.69 162.81 
L 114.91 164.11 
L 115.99 165.53 
L 117.21 167.53 
L 118.17 169.60 
L 119.08 172.15 
L 119.83 175.02 
L 121.28 181.00 
L 122.08 183.00 
L 124.44 188.24 
L 124.79 189.75 
L 124.91 191.3 
L 124.79 192.84 
L 124.44 194.35 
L 123.79 196.07 
L 122.33 199.05 
L 121.49 200.99 
L 120.90 202.86 
L 120.13 206.26 
L 119.23 209.94 
L 118.38 212.47 
L 117.47 214.54 
L 116.32 216.57 
L 115.29 218.02 
L 114.11 219.36 
L 112.81 220.56 
L 111.37 221.58 
L 109.84 222.40 
L 108.22 223.00 
L 106.56 223.35 
L 104.87 223.44 
L 103.19 223.28 
L 101.55 222.87 
L 99.98 222.22 
L 98.51 221.32 
L 97.16 220.22 
L 95.94 218.96 
L 94.87 217.56 
L 93.95 216.06 
L 92.96 213.95 
L 92.22 211.80 
L 91.70 209.66 
L 91.32 207.09 
L 91.12 204.24 
L 91.11 200.17 
L 91.09 193.55 
L 91.07 191.3 
L 91.07 191.3 
" clip-path="url(#p1f6addf977)" style="fill: none; stroke-dasharray: 2.75,1.16; stroke-dashoffset: 0; stroke: #e28616; stroke-width: 1.45"/>
   </g>
   <g id="line2d_9">
    <path d="M 96.31 191.3 
L 96.41 180.21 
L 96.70 177.95 
L 97.16 175.96 
L 97.88 173.95 
L 98.67 172.40 
L 99.66 170.95 
L 100.86 169.67 
L 102.22 168.62 
L 103.35 168.01 
L 104.54 167.57 
L 105.78 167.32 
L 107.04 167.26 
L 108.30 167.39 
L 109.54 167.71 
L 110.73 168.21 
L 111.85 168.88 
L 113.22 169.99 
L 114.41 171.30 
L 115.42 172.76 
L 116.23 174.29 
L 117.00 176.22 
L 117.65 178.44 
L 119.22 184.48 
L 120.18 186.50 
L 121.11 188.57 
L 121.48 189.91 
L 121.61 191.3 
L 121.48 192.68 
L 121.11 194.02 
L 120.38 195.69 
L 118.97 198.76 
L 118.41 200.72 
L 117.00 206.37 
L 116.23 208.30 
L 115.42 209.83 
L 114.41 211.29 
L 113.22 212.60 
L 111.85 213.71 
L 110.73 214.38 
L 109.54 214.88 
L 108.30 215.20 
L 107.04 215.33 
L 105.78 215.27 
L 104.54 215.02 
L 103.35 214.58 
L 102.22 213.97 
L 101.18 213.20 
L 99.94 211.98 
L 98.90 210.57 
L 98.06 209.04 
L 97.41 207.44 
L 96.85 205.43 
L 96.48 203.11 
L 96.33 200.65 
L 96.35 196.37 
L 96.31 191.3 
L 96.31 191.3 
" clip-path="url(#p1f6addf977)" style="fill: none; stroke-dasharray: 2.75,1.16; stroke-dashoffset: 0; stroke: #e28616; stroke-width: 1.45"/>
   </g>
   <g id="line2d_10">
    <path d="M 104.61 191.3 
L 104.72 186.12 
L 105.01 184.81 
L 105.49 183.67 
L 106.11 182.78 
L 106.90 182.06 
L 107.67 181.64 
L 108.51 181.42 
L 109.38 181.43 
L 110.22 181.65 
L 111.01 182.06 
L 111.83 182.78 
L 112.48 183.66 
L 113.02 184.77 
L 113.46 186.29 
L 114.08 188.57 
L 115.00 190.91 
L 114.99 191.77 
L 114.76 192.59 
L 113.61 195.65 
L 113.08 197.66 
L 112.57 198.77 
L 111.95 199.67 
L 111.16 200.42 
L 110.39 200.88 
L 109.55 201.14 
L 108.68 201.18 
L 107.84 201.01 
L 107.05 200.63 
L 106.35 200.07 
L 105.68 199.23 
L 105.19 198.27 
L 104.84 197.11 
L 104.64 195.71 
L 104.63 193.59 
L 104.61 191.3 
L 104.61 191.3 
" clip-path="url(#p1f6addf977)" style="fill: none; stroke-dasharray: 2.75,1.16; stroke-dashoffset: 0; stroke: #e28616; stroke-width: 1.45"/>
   </g>
   <g id="line2d_11">
    <path d="M 59.00 26.05 
L 56.79 29.69 
L 54.80 33.45 
L 52.99 37.30 
L 50.54 43.19 
L 49.07 47.18 
L 47.74 51.23 
L 46.61 55.33 
L 45.71 59.49 
L 45.08 63.70 
L 44.71 67.94 
L 44.41 74.32 
L 44.15 84.95 
L 44.14 95.59 
L 44.35 108.35 
L 45.04 131.74 
L 45.46 148.75 
L 45.55 161.51 
L 45.40 172.15 
L 45.09 180.66 
L 44.56 189.17 
L 44.40 191.3 
L 44.40 191.3 
L 44.98 199.81 
L 45.34 208.32 
L 45.54 218.95 
L 45.52 229.59 
L 45.22 244.47 
L 44.14 287.00 
L 44.15 297.64 
L 44.41 308.27 
L 44.71 314.65 
L 45.08 318.89 
L 45.71 323.10 
L 46.61 327.26 
L 47.74 331.36 
L 49.07 335.41 
L 51.33 341.38 
L 52.99 345.29 
L 54.80 349.14 
L 56.79 352.90 
L 59.00 356.54 
L 59.00 356.54 
" clip-path="url(#p1f6addf977)" style="fill: none; stroke-dasharray: 2.75,1.16; stroke-dashoffset: 0; stroke: #e28616; stroke-width: 1.45"/>
   </g>
   <g id="line2d_12">
    <path d="M 151.31 107.95 
L 151.30 108.16 
L 151.27 108.37 
L 151.23 108.58 
L 151.17 108.78 
L 151.09 108.98 
L 151.00 109.18 
L 150.89 109.37 
L 150.77 109.55 
L 150.63 109.73 
L 150.47 109.89 
L 150.31 110.05 
L 150.13 110.19 
L 149.94 110.33 
L 149.73 110.45 
L 149.52 110.56 
L 149.30 110.66 
L 149.08 110.74 
L 148.84 110.81 
L 148.61 110.87 
L 148.36 110.91 
L 148.12 110.93 
L 147.87 110.95 
L 147.65 110.94 
L 147.44 110.92 
L 147.23 110.89 
L 147.02 110.84 
L 146.82 110.78 
L 146.62 110.70 
L 146.43 110.61 
L 146.25 110.51 
L 146.07 110.39 
L 145.90 110.26 
L 145.74 110.12 
L 145.60 109.97 
L 145.46 109.81 
L 145.33 109.64 
L 145.22 109.46 
L 145.12 109.27 
L 145.03 109.08 
L 144.96 108.88 
L 144.90 108.68 
L 144.86 108.47 
L 144.83 108.26 
L 144.81 108.05 
L 144.81 107.84 
L 144.83 107.63 
L 144.86 107.42 
L 144.90 107.21 
L 144.96 107.01 
L 145.03 106.81 
L 145.12 106.62 
L 145.22 106.43 
L 145.33 106.25 
L 145.46 106.08 
L 145.60 105.92 
L 145.74 105.77 
L 145.90 105.63 
L 146.07 105.50 
L 146.25 105.38 
L 146.43 105.28 
L 146.62 105.19 
L 146.82 105.11 
L 147.02 105.05 
L 147.23 105.00 
L 147.44 104.97 
L 147.65 104.95 
L 147.87 104.95 
L 148.12 104.96 
L 148.36 104.98 
L 148.61 105.02 
L 148.84 105.08 
L 149.08 105.15 
L 149.30 105.23 
L 149.52 105.33 
L 149.73 105.44 
L 149.94 105.56 
L 150.13 105.70 
L 150.31 105.84 
L 150.47 106.00 
L 150.63 106.17 
L 150.77 106.34 
L 150.89 106.52 
L 151.00 106.71 
L 151.09 106.91 
L 151.17 107.11 
L 151.23 107.32 
L 151.27 107.52 
L 151.30 107.73 
L 151.31 107.95 
" clip-path="url(#p1f6addf977)" style="fill: none; stroke-dasharray: 2.75,1.16; stroke-dashoffset: 0; stroke: #e28616; stroke-width: 1.45"/>
   </g>
   <g id="line2d_13">
    <path d="M 155.31 107.95 
L 155.29 108.37 
L 155.24 108.79 
L 155.14 109.21 
L 155.01 109.62 
L 154.85 110.02 
L 154.65 110.41 
L 154.41 110.79 
L 154.15 111.16 
L 153.85 111.51 
L 153.52 111.84 
L 153.16 112.15 
L 152.78 112.44 
L 152.37 112.71 
L 151.93 112.96 
L 151.48 113.18 
L 151.01 113.37 
L 150.53 113.54 
L 150.03 113.68 
L 149.51 113.79 
L 149.00 113.87 
L 148.47 113.92 
L 147.94 113.94 
L 147.49 113.94 
L 147.07 113.90 
L 146.65 113.83 
L 146.24 113.74 
L 145.83 113.61 
L 145.44 113.46 
L 145.06 113.28 
L 144.69 113.07 
L 144.33 112.84 
L 144.00 112.58 
L 143.68 112.30 
L 143.38 112.00 
L 143.11 111.68 
L 142.86 111.33 
L 142.63 110.98 
L 142.43 110.60 
L 142.25 110.22 
L 142.11 109.82 
L 141.99 109.41 
L 141.90 109.00 
L 141.84 108.58 
L 141.81 108.16 
L 141.81 107.73 
L 141.84 107.31 
L 141.90 106.89 
L 141.99 106.48 
L 142.11 106.07 
L 142.25 105.67 
L 142.43 105.29 
L 142.63 104.92 
L 142.86 104.56 
L 143.11 104.22 
L 143.38 103.89 
L 143.68 103.59 
L 144.00 103.31 
L 144.33 103.05 
L 144.69 102.82 
L 145.06 102.61 
L 145.44 102.43 
L 145.83 102.28 
L 146.24 102.16 
L 146.65 102.06 
L 147.07 101.99 
L 147.49 101.95 
L 147.94 101.95 
L 148.47 101.97 
L 149.00 102.02 
L 149.51 102.10 
L 150.03 102.21 
L 150.53 102.35 
L 151.01 102.52 
L 151.48 102.71 
L 151.93 102.94 
L 152.37 103.18 
L 152.78 103.45 
L 153.16 103.74 
L 153.52 104.05 
L 153.85 104.39 
L 154.15 104.73 
L 154.41 105.10 
L 154.65 105.48 
L 154.85 105.87 
L 155.01 106.27 
L 155.14 106.68 
L 155.24 107.10 
L 155.29 107.52 
L 155.31 107.95 
" clip-path="url(#p1f6addf977)" style="fill: none; stroke-dasharray: 2.75,1.16; stroke-dashoffset: 0; stroke: #e28616; stroke-width: 1.45"/>
   </g>
   <g id="line2d_14">
    <path d="M 160.81 107.95 
L 160.78 108.58 
L 160.68 109.21 
L 160.52 109.84 
L 160.30 110.45 
L 160.01 111.06 
L 159.66 111.65 
L 159.26 112.21 
L 158.79 112.76 
L 158.27 113.29 
L 157.70 113.78 
L 157.08 114.25 
L 156.42 114.69 
L 155.71 115.09 
L 154.96 115.46 
L 154.18 115.79 
L 153.36 116.08 
L 152.52 116.33 
L 151.65 116.54 
L 150.77 116.71 
L 149.87 116.83 
L 148.95 116.91 
L 148.04 116.94 
L 147.33 116.93 
L 146.70 116.88 
L 146.07 116.78 
L 145.45 116.63 
L 144.85 116.44 
L 144.25 116.21 
L 143.68 115.94 
L 143.13 115.63 
L 142.60 115.28 
L 142.09 114.90 
L 141.61 114.48 
L 141.17 114.02 
L 140.76 113.54 
L 140.38 113.03 
L 140.04 112.49 
L 139.74 111.93 
L 139.48 111.35 
L 139.26 110.76 
L 139.08 110.15 
L 138.95 109.53 
L 138.86 108.90 
L 138.81 108.26 
L 138.81 107.63 
L 138.86 106.99 
L 138.95 106.37 
L 139.08 105.74 
L 139.26 105.13 
L 139.48 104.54 
L 139.74 103.96 
L 140.04 103.40 
L 140.38 102.86 
L 140.76 102.35 
L 141.17 101.87 
L 141.61 101.42 
L 142.09 101.00 
L 142.60 100.61 
L 143.13 100.26 
L 143.68 99.95 
L 144.25 99.68 
L 144.85 99.45 
L 145.45 99.26 
L 146.07 99.12 
L 146.70 99.01 
L 147.33 98.96 
L 148.04 98.95 
L 148.95 98.98 
L 149.87 99.06 
L 150.77 99.18 
L 151.65 99.35 
L 152.52 99.56 
L 153.36 99.81 
L 154.18 100.10 
L 154.96 100.43 
L 155.71 100.80 
L 156.42 101.20 
L 157.08 101.64 
L 157.70 102.11 
L 158.27 102.60 
L 158.79 103.13 
L 159.26 103.68 
L 159.66 104.25 
L 160.01 104.83 
L 160.30 105.44 
L 160.52 106.05 
L 160.68 106.68 
L 160.78 107.31 
L 160.81 107.95 
" clip-path="url(#p1f6addf977)" style="fill: none; stroke-dasharray: 2.75,1.16; stroke-dashoffset: 0; stroke: #e28616; stroke-width: 1.45"/>
   </g>
   <g id="line2d_15">
    <path d="M 171.81 107.95 
L 171.75 108.86 
L 171.57 109.78 
L 171.28 110.68 
L 170.86 111.57 
L 170.33 112.44 
L 169.69 113.29 
L 168.94 114.11 
L 168.08 114.90 
L 167.13 115.66 
L 166.07 116.38 
L 164.93 117.06 
L 163.70 117.69 
L 162.39 118.27 
L 161.01 118.80 
L 159.57 119.28 
L 158.06 119.70 
L 156.50 120.06 
L 154.90 120.37 
L 153.27 120.61 
L 151.61 120.78 
L 149.92 120.90 
L 148.23 120.94 
L 147.23 120.93 
L 146.45 120.85 
L 145.69 120.70 
L 144.93 120.49 
L 144.19 120.22 
L 143.46 119.89 
L 142.76 119.50 
L 142.09 119.05 
L 141.44 118.54 
L 140.82 117.99 
L 140.24 117.38 
L 139.69 116.72 
L 139.19 116.03 
L 138.73 115.29 
L 138.31 114.51 
L 137.95 113.70 
L 137.63 112.87 
L 137.36 112.01 
L 137.14 111.13 
L 136.98 110.23 
L 136.87 109.32 
L 136.81 108.40 
L 136.81 107.49 
L 136.87 106.57 
L 136.98 105.66 
L 137.14 104.77 
L 137.36 103.89 
L 137.63 103.02 
L 137.95 102.19 
L 138.31 101.38 
L 138.73 100.60 
L 139.19 99.87 
L 139.69 99.17 
L 140.24 98.51 
L 140.82 97.91 
L 141.44 97.35 
L 142.09 96.84 
L 142.76 96.39 
L 143.46 96.00 
L 144.19 95.67 
L 144.93 95.40 
L 145.69 95.19 
L 146.45 95.05 
L 147.23 94.96 
L 148.23 94.95 
L 149.92 95.00 
L 151.61 95.11 
L 153.27 95.29 
L 154.90 95.53 
L 156.50 95.83 
L 158.06 96.19 
L 159.57 96.61 
L 161.01 97.09 
L 162.39 97.62 
L 163.70 98.20 
L 164.93 98.84 
L 166.07 99.51 
L 167.13 100.23 
L 168.08 100.99 
L 168.94 101.78 
L 169.69 102.60 
L 170.33 103.45 
L 170.86 104.32 
L 171.28 105.21 
L 171.57 106.12 
L 171.75 107.03 
L 171.81 107.95 
" clip-path="url(#p1f6addf977)" style="fill: none; stroke-dasharray: 2.75,1.16; stroke-dashoffset: 0; stroke: #e28616; stroke-width: 1.45"/>
   </g>
   <g id="line2d_16">
    <path d="M 151.31 274.64 
L 151.30 274.86 
L 151.27 275.07 
L 151.23 275.27 
L 151.17 275.48 
L 151.09 275.68 
L 151.00 275.88 
L 150.89 276.07 
L 150.77 276.25 
L 150.63 276.42 
L 150.47 276.59 
L 150.31 276.75 
L 150.13 276.89 
L 149.94 277.03 
L 149.73 277.15 
L 149.52 277.26 
L 149.30 277.36 
L 149.08 277.44 
L 148.84 277.51 
L 148.61 277.57 
L 148.36 277.61 
L 148.12 277.63 
L 147.87 277.64 
L 147.65 277.64 
L 147.44 277.62 
L 147.23 277.59 
L 147.02 277.54 
L 146.82 277.48 
L 146.62 277.40 
L 146.43 277.31 
L 146.25 277.21 
L 146.07 277.09 
L 145.90 276.96 
L 145.74 276.82 
L 145.60 276.67 
L 145.46 276.51 
L 145.33 276.34 
L 145.22 276.16 
L 145.12 275.97 
L 145.03 275.78 
L 144.96 275.58 
L 144.90 275.38 
L 144.86 275.17 
L 144.83 274.96 
L 144.81 274.75 
L 144.81 274.54 
L 144.83 274.33 
L 144.86 274.12 
L 144.90 273.91 
L 144.96 273.71 
L 145.03 273.51 
L 145.12 273.32 
L 145.22 273.13 
L 145.33 272.95 
L 145.46 272.78 
L 145.60 272.62 
L 145.74 272.47 
L 145.90 272.33 
L 146.07 272.20 
L 146.25 272.08 
L 146.43 271.98 
L 146.62 271.89 
L 146.82 271.81 
L 147.02 271.75 
L 147.23 271.70 
L 147.44 271.67 
L 147.65 271.65 
L 147.87 271.64 
L 148.12 271.66 
L 148.36 271.68 
L 148.61 271.72 
L 148.84 271.78 
L 149.08 271.85 
L 149.30 271.93 
L 149.52 272.03 
L 149.73 272.14 
L 149.94 272.26 
L 150.13 272.40 
L 150.31 272.54 
L 150.47 272.70 
L 150.63 272.86 
L 150.77 273.04 
L 150.89 273.22 
L 151.00 273.41 
L 151.09 273.61 
L 151.17 273.81 
L 151.23 274.01 
L 151.27 274.22 
L 151.30 274.43 
L 151.31 274.64 
" clip-path="url(#p1f6addf977)" style="fill: none; stroke-dasharray: 2.75,1.16; stroke-dashoffset: 0; stroke: #e28616; stroke-width: 1.45"/>
   </g>
   <g id="line2d_17">
    <path d="M 155.31 274.64 
L 155.29 275.07 
L 155.24 275.49 
L 155.14 275.91 
L 155.01 276.32 
L 154.85 276.72 
L 154.65 277.11 
L 154.41 277.49 
L 154.15 277.86 
L 153.85 278.20 
L 153.52 278.54 
L 153.16 278.85 
L 152.78 279.14 
L 152.37 279.41 
L 151.93 279.65 
L 151.48 279.88 
L 151.01 280.07 
L 150.53 280.24 
L 150.03 280.38 
L 149.51 280.49 
L 149.00 280.57 
L 148.47 280.62 
L 147.94 280.64 
L 147.49 280.64 
L 147.07 280.60 
L 146.65 280.53 
L 146.24 280.43 
L 145.83 280.31 
L 145.44 280.16 
L 145.06 279.98 
L 144.69 279.77 
L 144.33 279.54 
L 144.00 279.28 
L 143.68 279.00 
L 143.38 278.70 
L 143.11 278.37 
L 142.86 278.03 
L 142.63 277.67 
L 142.43 277.30 
L 142.25 276.92 
L 142.11 276.52 
L 141.99 276.11 
L 141.90 275.70 
L 141.84 275.28 
L 141.81 274.86 
L 141.81 274.43 
L 141.84 274.01 
L 141.90 273.59 
L 141.99 273.18 
L 142.11 272.77 
L 142.25 272.37 
L 142.43 271.99 
L 142.63 271.61 
L 142.86 271.26 
L 143.11 270.91 
L 143.38 270.59 
L 143.68 270.29 
L 144.00 270.01 
L 144.33 269.75 
L 144.69 269.52 
L 145.06 269.31 
L 145.44 269.13 
L 145.83 268.98 
L 146.24 268.85 
L 146.65 268.76 
L 147.07 268.69 
L 147.49 268.65 
L 147.94 268.65 
L 148.47 268.67 
L 149.00 268.72 
L 149.51 268.80 
L 150.03 268.91 
L 150.53 269.05 
L 151.01 269.22 
L 151.48 269.41 
L 151.93 269.63 
L 152.37 269.88 
L 152.78 270.15 
L 153.16 270.44 
L 153.52 270.75 
L 153.85 271.08 
L 154.15 271.43 
L 154.41 271.80 
L 154.65 272.18 
L 154.85 272.57 
L 155.01 272.97 
L 155.14 273.38 
L 155.24 273.80 
L 155.29 274.22 
L 155.31 274.64 
" clip-path="url(#p1f6addf977)" style="fill: none; stroke-dasharray: 2.75,1.16; stroke-dashoffset: 0; stroke: #e28616; stroke-width: 1.45"/>
   </g>
   <g id="line2d_18">
    <path d="M 160.81 274.64 
L 160.78 275.28 
L 160.68 275.91 
L 160.52 276.54 
L 160.30 277.15 
L 160.01 277.76 
L 159.66 278.34 
L 159.26 278.91 
L 158.79 279.46 
L 158.27 279.99 
L 157.70 280.48 
L 157.08 280.95 
L 156.42 281.39 
L 155.71 281.79 
L 154.96 282.16 
L 154.18 282.49 
L 153.36 282.78 
L 152.52 283.03 
L 151.65 283.24 
L 150.77 283.41 
L 149.87 283.53 
L 148.95 283.61 
L 148.04 283.64 
L 147.33 283.63 
L 146.70 283.58 
L 146.07 283.47 
L 145.45 283.33 
L 144.85 283.14 
L 144.25 282.91 
L 143.68 282.64 
L 143.13 282.33 
L 142.60 281.98 
L 142.09 281.59 
L 141.61 281.17 
L 141.17 280.72 
L 140.76 280.24 
L 140.38 279.73 
L 140.04 279.19 
L 139.74 278.63 
L 139.48 278.05 
L 139.26 277.46 
L 139.08 276.85 
L 138.95 276.22 
L 138.86 275.60 
L 138.81 274.96 
L 138.81 274.33 
L 138.86 273.69 
L 138.95 273.06 
L 139.08 272.44 
L 139.26 271.83 
L 139.48 271.24 
L 139.74 270.66 
L 140.04 270.10 
L 140.38 269.56 
L 140.76 269.05 
L 141.17 268.57 
L 141.61 268.11 
L 142.09 267.69 
L 142.60 267.31 
L 143.13 266.96 
L 143.68 266.65 
L 144.25 266.38 
L 144.85 266.15 
L 145.45 265.96 
L 146.07 265.81 
L 146.70 265.71 
L 147.33 265.66 
L 148.04 265.65 
L 148.95 265.68 
L 149.87 265.76 
L 150.77 265.88 
L 151.65 266.05 
L 152.52 266.26 
L 153.36 266.51 
L 154.18 266.80 
L 154.96 267.13 
L 155.71 267.50 
L 156.42 267.90 
L 157.08 268.34 
L 157.70 268.81 
L 158.27 269.30 
L 158.79 269.83 
L 159.26 270.38 
L 159.66 270.94 
L 160.01 271.53 
L 160.30 272.14 
L 160.52 272.75 
L 160.68 273.38 
L 160.78 274.01 
L 160.81 274.64 
" clip-path="url(#p1f6addf977)" style="fill: none; stroke-dasharray: 2.75,1.16; stroke-dashoffset: 0; stroke: #e28616; stroke-width: 1.45"/>
   </g>
   <g id="line2d_19">
    <path d="M 171.81 274.64 
L 171.75 275.56 
L 171.57 276.47 
L 171.28 277.38 
L 170.86 278.27 
L 170.33 279.14 
L 169.69 279.99 
L 168.94 280.81 
L 168.08 281.60 
L 167.13 282.36 
L 166.07 283.08 
L 164.93 283.75 
L 163.70 284.39 
L 162.39 284.97 
L 161.01 285.50 
L 159.57 285.98 
L 158.06 286.40 
L 156.50 286.76 
L 154.90 287.06 
L 153.27 287.30 
L 151.61 287.48 
L 149.92 287.59 
L 148.23 287.64 
L 147.23 287.63 
L 146.45 287.54 
L 145.69 287.40 
L 144.93 287.19 
L 144.19 286.92 
L 143.46 286.59 
L 142.76 286.20 
L 142.09 285.75 
L 141.44 285.24 
L 140.82 284.68 
L 140.24 284.08 
L 139.69 283.42 
L 139.19 282.72 
L 138.73 281.99 
L 138.31 281.21 
L 137.95 280.40 
L 137.63 279.57 
L 137.36 278.70 
L 137.14 277.82 
L 136.98 276.93 
L 136.87 276.02 
L 136.81 275.10 
L 136.81 274.19 
L 136.87 273.27 
L 136.98 272.36 
L 137.14 271.46 
L 137.36 270.58 
L 137.63 269.72 
L 137.95 268.89 
L 138.31 268.08 
L 138.73 267.30 
L 139.19 266.56 
L 139.69 265.87 
L 140.24 265.21 
L 140.82 264.60 
L 141.44 264.05 
L 142.09 263.54 
L 142.76 263.09 
L 143.46 262.70 
L 144.19 262.37 
L 144.93 262.10 
L 145.69 261.89 
L 146.45 261.74 
L 147.23 261.66 
L 148.23 261.65 
L 149.92 261.69 
L 151.61 261.81 
L 153.27 261.98 
L 154.90 262.22 
L 156.50 262.53 
L 158.06 262.89 
L 159.57 263.31 
L 161.01 263.79 
L 162.39 264.32 
L 163.70 264.90 
L 164.93 265.53 
L 166.07 266.21 
L 167.13 266.93 
L 168.08 267.69 
L 168.94 268.48 
L 169.69 269.30 
L 170.33 270.15 
L 170.86 271.02 
L 171.28 271.91 
L 171.57 272.81 
L 171.75 273.73 
L 171.81 274.64 
" clip-path="url(#p1f6addf977)" style="fill: none; stroke-dasharray: 2.75,1.16; stroke-dashoffset: 0; stroke: #e28616; stroke-width: 1.45"/>
   </g>
   <g id="line2d_20">
    <path d="M 162.31 165.05 
L 162.30 165.22 
L 162.28 165.40 
L 162.24 165.57 
L 162.19 165.74 
L 162.13 165.91 
L 162.05 166.07 
L 161.95 166.23 
L 161.84 166.38 
L 161.73 166.53 
L 161.59 166.67 
L 161.45 166.80 
L 161.30 166.92 
L 161.13 167.03 
L 160.96 167.13 
L 160.78 167.22 
L 160.59 167.31 
L 160.40 167.38 
L 160.20 167.43 
L 159.99 167.48 
L 159.79 167.51 
L 159.57 167.54 
L 159.36 167.54 
L 159.18 167.54 
L 159.00 167.53 
L 158.83 167.50 
L 158.66 167.46 
L 158.49 167.41 
L 158.32 167.34 
L 158.16 167.27 
L 158.01 167.18 
L 157.86 167.08 
L 157.72 166.98 
L 157.59 166.86 
L 157.47 166.73 
L 157.35 166.60 
L 157.25 166.46 
L 157.15 166.31 
L 157.07 166.15 
L 157.00 165.99 
L 156.94 165.83 
L 156.89 165.66 
L 156.85 165.48 
L 156.82 165.31 
L 156.81 165.13 
L 156.81 164.96 
L 156.82 164.78 
L 156.85 164.61 
L 156.89 164.43 
L 156.94 164.26 
L 157.00 164.10 
L 157.07 163.94 
L 157.15 163.78 
L 157.25 163.63 
L 157.35 163.49 
L 157.47 163.36 
L 157.59 163.23 
L 157.72 163.11 
L 157.86 163.01 
L 158.01 162.91 
L 158.16 162.82 
L 158.32 162.75 
L 158.49 162.68 
L 158.66 162.63 
L 158.83 162.59 
L 159.00 162.56 
L 159.18 162.55 
L 159.36 162.55 
L 159.57 162.56 
L 159.79 162.58 
L 159.99 162.61 
L 160.20 162.66 
L 160.40 162.72 
L 160.59 162.78 
L 160.78 162.87 
L 160.96 162.96 
L 161.13 163.06 
L 161.30 163.17 
L 161.45 163.29 
L 161.59 163.42 
L 161.73 163.56 
L 161.84 163.71 
L 161.95 163.86 
L 162.05 164.02 
L 162.13 164.18 
L 162.19 164.35 
L 162.24 164.52 
L 162.28 164.69 
L 162.30 164.87 
L 162.31 165.05 
" clip-path="url(#p1f6addf977)" style="fill: none; stroke-dasharray: 2.75,1.16; stroke-dashoffset: 0; stroke: #e28616; stroke-width: 1.45"/>
   </g>
   <g id="line2d_21">
    <path d="M 165.81 165.05 
L 165.80 165.40 
L 165.75 165.75 
L 165.67 166.10 
L 165.55 166.44 
L 165.41 166.77 
L 165.24 167.10 
L 165.03 167.42 
L 164.80 167.72 
L 164.54 168.01 
L 164.26 168.29 
L 163.95 168.55 
L 163.61 168.79 
L 163.26 169.02 
L 162.89 169.22 
L 162.49 169.40 
L 162.09 169.57 
L 161.67 169.71 
L 161.23 169.82 
L 160.79 169.91 
L 160.34 169.98 
L 159.88 170.03 
L 159.43 170.04 
L 159.05 170.04 
L 158.69 170.01 
L 158.35 169.95 
L 158.00 169.87 
L 157.66 169.77 
L 157.34 169.64 
L 157.02 169.49 
L 156.71 169.32 
L 156.41 169.12 
L 156.13 168.91 
L 155.87 168.67 
L 155.62 168.42 
L 155.39 168.15 
L 155.18 167.87 
L 154.99 167.57 
L 154.83 167.26 
L 154.68 166.94 
L 154.56 166.61 
L 154.46 166.27 
L 154.39 165.92 
L 154.34 165.57 
L 154.31 165.22 
L 154.31 164.87 
L 154.34 164.52 
L 154.39 164.17 
L 154.46 163.82 
L 154.56 163.48 
L 154.68 163.15 
L 154.83 162.83 
L 154.99 162.52 
L 155.18 162.22 
L 155.39 161.94 
L 155.62 161.67 
L 155.87 161.42 
L 156.13 161.18 
L 156.41 160.97 
L 156.71 160.78 
L 157.02 160.60 
L 157.34 160.45 
L 157.66 160.32 
L 158.00 160.22 
L 158.35 160.14 
L 158.69 160.08 
L 159.05 160.05 
L 159.43 160.05 
L 159.88 160.06 
L 160.34 160.11 
L 160.79 160.18 
L 161.23 160.27 
L 161.67 160.38 
L 162.09 160.52 
L 162.49 160.69 
L 162.89 160.87 
L 163.26 161.07 
L 163.61 161.30 
L 163.95 161.54 
L 164.26 161.80 
L 164.54 162.08 
L 164.80 162.37 
L 165.03 162.67 
L 165.24 162.99 
L 165.41 163.32 
L 165.55 163.65 
L 165.67 163.99 
L 165.75 164.34 
L 165.80 164.69 
L 165.81 165.05 
" clip-path="url(#p1f6addf977)" style="fill: none; stroke-dasharray: 2.75,1.16; stroke-dashoffset: 0; stroke: #e28616; stroke-width: 1.45"/>
   </g>
   <g id="line2d_22">
    <path d="M 176.31 165.05 
L 176.27 165.64 
L 176.14 166.24 
L 175.93 166.83 
L 175.64 167.41 
L 175.26 167.98 
L 174.81 168.54 
L 174.28 169.08 
L 173.67 169.59 
L 172.99 170.09 
L 172.25 170.56 
L 171.44 171.00 
L 170.57 171.42 
L 169.64 171.80 
L 168.66 172.14 
L 167.64 172.46 
L 166.57 172.73 
L 165.47 172.97 
L 164.34 173.17 
L 163.18 173.32 
L 162.00 173.44 
L 160.81 173.51 
L 159.61 173.54 
L 158.91 173.53 
L 158.39 173.48 
L 157.86 173.39 
L 157.35 173.25 
L 156.84 173.07 
L 156.35 172.85 
L 155.87 172.60 
L 155.41 172.30 
L 154.97 171.97 
L 154.55 171.61 
L 154.15 171.21 
L 153.78 170.78 
L 153.43 170.33 
L 153.12 169.85 
L 152.84 169.34 
L 152.59 168.81 
L 152.37 168.26 
L 152.18 167.70 
L 152.04 167.12 
L 151.93 166.54 
L 151.85 165.94 
L 151.81 165.35 
L 151.81 164.75 
L 151.85 164.15 
L 151.93 163.55 
L 152.04 162.97 
L 152.18 162.39 
L 152.37 161.83 
L 152.59 161.28 
L 152.84 160.75 
L 153.12 160.25 
L 153.43 159.76 
L 153.78 159.31 
L 154.15 158.88 
L 154.55 158.48 
L 154.97 158.12 
L 155.41 157.79 
L 155.87 157.49 
L 156.35 157.24 
L 156.84 157.02 
L 157.35 156.84 
L 157.86 156.71 
L 158.39 156.61 
L 158.91 156.56 
L 159.61 156.55 
L 160.81 156.58 
L 162.00 156.65 
L 163.18 156.77 
L 164.34 156.93 
L 165.47 157.12 
L 166.57 157.36 
L 167.64 157.63 
L 168.66 157.95 
L 169.64 158.29 
L 170.57 158.68 
L 171.44 159.09 
L 172.25 159.53 
L 172.99 160.00 
L 173.67 160.50 
L 174.28 161.01 
L 174.81 161.55 
L 175.26 162.11 
L 175.64 162.68 
L 175.93 163.26 
L 176.14 163.85 
L 176.27 164.45 
L 176.31 165.05 
" clip-path="url(#p1f6addf977)" style="fill: none; stroke-dasharray: 2.75,1.16; stroke-dashoffset: 0; stroke: #e28616; stroke-width: 1.45"/>
   </g>
   <g id="line2d_23">
    <path d="M 162.31 217.54 
L 162.30 217.72 
L 162.28 217.90 
L 162.24 218.07 
L 162.19 218.24 
L 162.13 218.41 
L 162.05 218.57 
L 161.95 218.73 
L 161.84 218.88 
L 161.73 219.03 
L 161.59 219.17 
L 161.45 219.30 
L 161.30 219.42 
L 161.13 219.53 
L 160.96 219.63 
L 160.78 219.72 
L 160.59 219.81 
L 160.40 219.87 
L 160.20 219.93 
L 159.99 219.98 
L 159.79 220.01 
L 159.57 220.03 
L 159.36 220.04 
L 159.18 220.04 
L 159.00 220.03 
L 158.83 220.00 
L 158.66 219.96 
L 158.49 219.91 
L 158.32 219.84 
L 158.16 219.77 
L 158.01 219.68 
L 157.86 219.58 
L 157.72 219.48 
L 157.59 219.36 
L 157.47 219.23 
L 157.35 219.10 
L 157.25 218.96 
L 157.15 218.81 
L 157.07 218.65 
L 157.00 218.49 
L 156.94 218.33 
L 156.89 218.16 
L 156.85 217.98 
L 156.82 217.81 
L 156.81 217.63 
L 156.81 217.46 
L 156.82 217.28 
L 156.85 217.11 
L 156.89 216.93 
L 156.94 216.76 
L 157.00 216.60 
L 157.07 216.44 
L 157.15 216.28 
L 157.25 216.13 
L 157.35 215.99 
L 157.47 215.86 
L 157.59 215.73 
L 157.72 215.61 
L 157.86 215.51 
L 158.01 215.41 
L 158.16 215.32 
L 158.32 215.25 
L 158.49 215.18 
L 158.66 215.13 
L 158.83 215.09 
L 159.00 215.06 
L 159.18 215.05 
L 159.36 215.05 
L 159.57 215.05 
L 159.79 215.08 
L 159.99 215.11 
L 160.20 215.16 
L 160.40 215.21 
L 160.59 215.28 
L 160.78 215.37 
L 160.96 215.46 
L 161.13 215.56 
L 161.30 215.67 
L 161.45 215.79 
L 161.59 215.92 
L 161.73 216.06 
L 161.84 216.21 
L 161.95 216.36 
L 162.05 216.52 
L 162.13 216.68 
L 162.19 216.85 
L 162.24 217.02 
L 162.28 217.19 
L 162.30 217.37 
L 162.31 217.54 
" clip-path="url(#p1f6addf977)" style="fill: none; stroke-dasharray: 2.75,1.16; stroke-dashoffset: 0; stroke: #e28616; stroke-width: 1.45"/>
   </g>
   <g id="line2d_24">
    <path d="M 165.81 217.54 
L 165.80 217.90 
L 165.75 218.25 
L 165.67 218.60 
L 165.55 218.94 
L 165.41 219.27 
L 165.24 219.60 
L 165.03 219.92 
L 164.80 220.22 
L 164.54 220.51 
L 164.26 220.79 
L 163.95 221.05 
L 163.61 221.29 
L 163.26 221.52 
L 162.89 221.72 
L 162.49 221.90 
L 162.09 222.07 
L 161.67 222.21 
L 161.23 222.32 
L 160.79 222.41 
L 160.34 222.48 
L 159.88 222.53 
L 159.43 222.54 
L 159.05 222.54 
L 158.69 222.51 
L 158.35 222.45 
L 158.00 222.37 
L 157.66 222.27 
L 157.34 222.14 
L 157.02 221.99 
L 156.71 221.81 
L 156.41 221.62 
L 156.13 221.41 
L 155.87 221.17 
L 155.62 220.92 
L 155.39 220.65 
L 155.18 220.37 
L 154.99 220.07 
L 154.83 219.76 
L 154.68 219.44 
L 154.56 219.11 
L 154.46 218.77 
L 154.39 218.42 
L 154.34 218.07 
L 154.31 217.72 
L 154.31 217.37 
L 154.34 217.02 
L 154.39 216.67 
L 154.46 216.32 
L 154.56 215.98 
L 154.68 215.65 
L 154.83 215.33 
L 154.99 215.02 
L 155.18 214.72 
L 155.39 214.44 
L 155.62 214.17 
L 155.87 213.92 
L 156.13 213.68 
L 156.41 213.47 
L 156.71 213.27 
L 157.02 213.10 
L 157.34 212.95 
L 157.66 212.82 
L 158.00 212.72 
L 158.35 212.64 
L 158.69 212.58 
L 159.05 212.55 
L 159.43 212.55 
L 159.88 212.56 
L 160.34 212.61 
L 160.79 212.68 
L 161.23 212.77 
L 161.67 212.88 
L 162.09 213.02 
L 162.49 213.19 
L 162.89 213.37 
L 163.26 213.57 
L 163.61 213.80 
L 163.95 214.04 
L 164.26 214.30 
L 164.54 214.58 
L 164.80 214.87 
L 165.03 215.17 
L 165.24 215.49 
L 165.41 215.82 
L 165.55 216.15 
L 165.67 216.49 
L 165.75 216.84 
L 165.80 217.19 
L 165.81 217.54 
" clip-path="url(#p1f6addf977)" style="fill: none; stroke-dasharray: 2.75,1.16; stroke-dashoffset: 0; stroke: #e28616; stroke-width: 1.45"/>
   </g>
   <g id="line2d_25">
    <path d="M 176.31 217.54 
L 176.27 218.14 
L 176.14 218.74 
L 175.93 219.33 
L 175.64 219.91 
L 175.26 220.48 
L 174.81 221.04 
L 174.28 221.58 
L 173.67 222.09 
L 172.99 222.59 
L 172.25 223.06 
L 171.44 223.50 
L 170.57 223.91 
L 169.64 224.30 
L 168.66 224.64 
L 167.64 224.96 
L 166.57 225.23 
L 165.47 225.47 
L 164.34 225.66 
L 163.18 225.82 
L 162.00 225.94 
L 160.81 226.01 
L 159.61 226.04 
L 158.91 226.03 
L 158.39 225.98 
L 157.86 225.88 
L 157.35 225.75 
L 156.84 225.57 
L 156.35 225.35 
L 155.87 225.10 
L 155.41 224.80 
L 154.97 224.47 
L 154.55 224.11 
L 154.15 223.71 
L 153.78 223.28 
L 153.43 222.83 
L 153.12 222.34 
L 152.84 221.84 
L 152.59 221.31 
L 152.37 220.76 
L 152.18 220.20 
L 152.04 219.62 
L 151.93 219.04 
L 151.85 218.44 
L 151.81 217.84 
L 151.81 217.24 
L 151.85 216.65 
L 151.93 216.05 
L 152.04 215.47 
L 152.18 214.89 
L 152.37 214.33 
L 152.59 213.78 
L 152.84 213.25 
L 153.12 212.74 
L 153.43 212.26 
L 153.78 211.81 
L 154.15 211.38 
L 154.55 210.98 
L 154.97 210.62 
L 155.41 210.29 
L 155.87 209.99 
L 156.35 209.74 
L 156.84 209.52 
L 157.35 209.34 
L 157.86 209.20 
L 158.39 209.11 
L 158.91 209.06 
L 159.61 209.05 
L 160.81 209.08 
L 162.00 209.15 
L 163.18 209.27 
L 164.34 209.42 
L 165.47 209.62 
L 166.57 209.86 
L 167.64 210.13 
L 168.66 210.45 
L 169.64 210.79 
L 170.57 211.17 
L 171.44 211.59 
L 172.25 212.03 
L 172.99 212.50 
L 173.67 213.00 
L 174.28 213.51 
L 174.81 214.05 
L 175.26 214.61 
L 175.64 215.18 
L 175.93 215.76 
L 176.14 216.35 
L 176.27 216.95 
L 176.31 217.54 
" clip-path="url(#p1f6addf977)" style="fill: none; stroke-dasharray: 2.75,1.16; stroke-dashoffset: 0; stroke: #e28616; stroke-width: 1.45"/>
   </g>
   <g id="line2d_26">
    <path d="M 66.40 72.25 
L 66.39 72.41 
L 66.37 72.57 
L 66.34 72.73 
L 66.30 72.89 
L 66.24 73.04 
L 66.18 73.19 
L 66.10 73.34 
L 66.01 73.48 
L 65.91 73.61 
L 65.80 73.74 
L 65.68 73.86 
L 65.55 73.97 
L 65.42 74.07 
L 65.27 74.17 
L 65.12 74.25 
L 64.97 74.33 
L 64.80 74.39 
L 64.64 74.44 
L 64.47 74.49 
L 64.29 74.52 
L 64.12 74.54 
L 63.94 74.55 
L 63.78 74.54 
L 63.61 74.53 
L 63.45 74.50 
L 63.30 74.47 
L 63.14 74.42 
L 62.99 74.36 
L 62.84 74.29 
L 62.70 74.21 
L 62.57 74.12 
L 62.44 74.02 
L 62.31 73.92 
L 62.20 73.80 
L 62.10 73.68 
L 62.00 73.55 
L 61.91 73.41 
L 61.84 73.27 
L 61.77 73.12 
L 61.71 72.96 
L 61.67 72.81 
L 61.63 72.65 
L 61.61 72.49 
L 61.60 72.33 
L 61.60 72.17 
L 61.61 72.00 
L 61.63 71.84 
L 61.67 71.68 
L 61.71 71.53 
L 61.77 71.38 
L 61.84 71.23 
L 61.91 71.08 
L 62.00 70.95 
L 62.10 70.82 
L 62.20 70.69 
L 62.31 70.58 
L 62.44 70.47 
L 62.57 70.37 
L 62.70 70.28 
L 62.84 70.20 
L 62.99 70.13 
L 63.14 70.07 
L 63.30 70.03 
L 63.45 69.99 
L 63.61 69.96 
L 63.78 69.95 
L 63.94 69.95 
L 64.12 69.96 
L 64.29 69.98 
L 64.47 70.01 
L 64.64 70.05 
L 64.80 70.10 
L 64.97 70.17 
L 65.12 70.24 
L 65.27 70.33 
L 65.42 70.42 
L 65.55 70.52 
L 65.68 70.63 
L 65.80 70.75 
L 65.91 70.88 
L 66.01 71.02 
L 66.10 71.16 
L 66.18 71.30 
L 66.24 71.45 
L 66.30 71.61 
L 66.34 71.76 
L 66.37 71.92 
L 66.39 72.08 
L 66.40 72.25 
" clip-path="url(#p1f6addf977)" style="fill: none; stroke-dasharray: 2.75,1.16; stroke-dashoffset: 0; stroke: #e28616; stroke-width: 1.45"/>
   </g>
   <g id="line2d_27">
    <path d="M 68.90 72.25 
L 68.89 72.57 
L 68.85 72.89 
L 68.79 73.21 
L 68.70 73.53 
L 68.59 73.84 
L 68.46 74.14 
L 68.30 74.43 
L 68.12 74.71 
L 67.92 74.98 
L 67.70 75.23 
L 67.46 75.47 
L 67.21 75.69 
L 66.94 75.90 
L 66.65 76.09 
L 66.35 76.26 
L 66.03 76.41 
L 65.71 76.53 
L 65.38 76.64 
L 65.04 76.73 
L 64.69 76.79 
L 64.34 76.83 
L 63.99 76.85 
L 63.65 76.84 
L 63.33 76.81 
L 63.01 76.76 
L 62.69 76.69 
L 62.38 76.59 
L 62.08 76.47 
L 61.79 76.33 
L 61.50 76.17 
L 61.23 76.00 
L 60.98 75.80 
L 60.73 75.58 
L 60.50 75.35 
L 60.29 75.11 
L 60.10 74.84 
L 59.93 74.57 
L 59.77 74.28 
L 59.64 73.99 
L 59.53 73.68 
L 59.44 73.37 
L 59.37 73.05 
L 59.32 72.73 
L 59.30 72.41 
L 59.30 72.08 
L 59.32 71.76 
L 59.37 71.44 
L 59.44 71.12 
L 59.53 70.81 
L 59.64 70.50 
L 59.77 70.21 
L 59.93 69.92 
L 60.10 69.65 
L 60.29 69.39 
L 60.50 69.14 
L 60.73 68.91 
L 60.98 68.69 
L 61.23 68.50 
L 61.50 68.32 
L 61.79 68.16 
L 62.08 68.02 
L 62.38 67.90 
L 62.69 67.81 
L 63.01 67.73 
L 63.33 67.68 
L 63.65 67.65 
L 63.99 67.65 
L 64.34 67.66 
L 64.69 67.70 
L 65.04 67.77 
L 65.38 67.85 
L 65.71 67.96 
L 66.03 68.09 
L 66.35 68.24 
L 66.65 68.40 
L 66.94 68.59 
L 67.21 68.80 
L 67.46 69.02 
L 67.70 69.26 
L 67.92 69.52 
L 68.12 69.78 
L 68.30 70.06 
L 68.46 70.36 
L 68.59 70.66 
L 68.70 70.96 
L 68.79 71.28 
L 68.85 71.60 
L 68.89 71.92 
L 68.90 72.25 
" clip-path="url(#p1f6addf977)" style="fill: none; stroke-dasharray: 2.75,1.16; stroke-dashoffset: 0; stroke: #e28616; stroke-width: 1.45"/>
   </g>
   <g id="line2d_28">
    <path d="M 66.40 310.34 
L 66.39 310.51 
L 66.37 310.67 
L 66.34 310.83 
L 66.30 310.98 
L 66.24 311.14 
L 66.18 311.29 
L 66.10 311.43 
L 66.01 311.57 
L 65.91 311.71 
L 65.80 311.84 
L 65.68 311.96 
L 65.55 312.07 
L 65.42 312.17 
L 65.27 312.26 
L 65.12 312.35 
L 64.97 312.42 
L 64.80 312.49 
L 64.64 312.54 
L 64.47 312.58 
L 64.29 312.61 
L 64.12 312.63 
L 63.94 312.64 
L 63.78 312.64 
L 63.61 312.63 
L 63.45 312.60 
L 63.30 312.56 
L 63.14 312.52 
L 62.99 312.46 
L 62.84 312.39 
L 62.70 312.31 
L 62.57 312.22 
L 62.44 312.12 
L 62.31 312.01 
L 62.20 311.90 
L 62.10 311.77 
L 62.00 311.64 
L 61.91 311.51 
L 61.84 311.36 
L 61.77 311.21 
L 61.71 311.06 
L 61.67 310.91 
L 61.63 310.75 
L 61.61 310.59 
L 61.60 310.42 
L 61.60 310.26 
L 61.61 310.10 
L 61.63 309.94 
L 61.67 309.78 
L 61.71 309.63 
L 61.77 309.47 
L 61.84 309.32 
L 61.91 309.18 
L 62.00 309.04 
L 62.10 308.91 
L 62.20 308.79 
L 62.31 308.67 
L 62.44 308.57 
L 62.57 308.47 
L 62.70 308.38 
L 62.84 308.30 
L 62.99 308.23 
L 63.14 308.17 
L 63.30 308.12 
L 63.45 308.09 
L 63.61 308.06 
L 63.78 308.05 
L 63.94 308.04 
L 64.12 308.05 
L 64.29 308.07 
L 64.47 308.10 
L 64.64 308.15 
L 64.80 308.20 
L 64.97 308.26 
L 65.12 308.34 
L 65.27 308.42 
L 65.42 308.52 
L 65.55 308.62 
L 65.68 308.73 
L 65.80 308.85 
L 65.91 308.98 
L 66.01 309.11 
L 66.10 309.25 
L 66.18 309.40 
L 66.24 309.55 
L 66.30 309.70 
L 66.34 309.86 
L 66.37 310.02 
L 66.39 310.18 
L 66.40 310.34 
" clip-path="url(#p1f6addf977)" style="fill: none; stroke-dasharray: 2.75,1.16; stroke-dashoffset: 0; stroke: #e28616; stroke-width: 1.45"/>
   </g>
   <g id="line2d_29">
    <path d="M 68.90 310.34 
L 68.89 310.67 
L 68.85 310.99 
L 68.79 311.31 
L 68.70 311.63 
L 68.59 311.93 
L 68.46 312.23 
L 68.30 312.53 
L 68.12 312.81 
L 67.92 313.07 
L 67.70 313.33 
L 67.46 313.57 
L 67.21 313.79 
L 66.94 314.00 
L 66.65 314.19 
L 66.35 314.35 
L 66.03 314.50 
L 65.71 314.63 
L 65.38 314.74 
L 65.04 314.82 
L 64.69 314.89 
L 64.34 314.93 
L 63.99 314.94 
L 63.65 314.94 
L 63.33 314.91 
L 63.01 314.86 
L 62.69 314.78 
L 62.38 314.69 
L 62.08 314.57 
L 61.79 314.43 
L 61.50 314.27 
L 61.23 314.09 
L 60.98 313.90 
L 60.73 313.68 
L 60.50 313.45 
L 60.29 313.20 
L 60.10 312.94 
L 59.93 312.67 
L 59.77 312.38 
L 59.64 312.09 
L 59.53 311.78 
L 59.44 311.47 
L 59.37 311.15 
L 59.32 310.83 
L 59.30 310.51 
L 59.30 310.18 
L 59.32 309.86 
L 59.37 309.54 
L 59.44 309.22 
L 59.53 308.91 
L 59.64 308.60 
L 59.77 308.31 
L 59.93 308.02 
L 60.10 307.75 
L 60.29 307.48 
L 60.50 307.24 
L 60.73 307.01 
L 60.98 306.79 
L 61.23 306.59 
L 61.50 306.42 
L 61.79 306.26 
L 62.08 306.12 
L 62.38 306.00 
L 62.69 305.90 
L 63.01 305.83 
L 63.33 305.78 
L 63.65 305.75 
L 63.99 305.74 
L 64.34 305.76 
L 64.69 305.80 
L 65.04 305.86 
L 65.38 305.95 
L 65.71 306.06 
L 66.03 306.18 
L 66.35 306.33 
L 66.65 306.50 
L 66.94 306.69 
L 67.21 306.90 
L 67.46 307.12 
L 67.70 307.36 
L 67.92 307.61 
L 68.12 307.88 
L 68.30 308.16 
L 68.46 308.45 
L 68.59 308.75 
L 68.70 309.06 
L 68.79 309.38 
L 68.85 309.70 
L 68.89 310.02 
L 68.90 310.34 
" clip-path="url(#p1f6addf977)" style="fill: none; stroke-dasharray: 2.75,1.16; stroke-dashoffset: 0; stroke: #e28616; stroke-width: 1.45"/>
   </g>
   <g id="matplotlib.axis_1">
    <g id="xtick_1">
     <g id="line2d_30">
      <defs>
       <path id="m3c889467d5" d="M 0 0 
L 0 4.08 
" style="stroke: #000000; stroke-width: 1.1"/>
      </defs>
      <g>
       <use href="#m3c889467d5" x="72.3" y="365.5" style="stroke: #000000; stroke-width: 1.1"/>
      </g>
     </g>
     <g id="text_1">
      <text style="font-size: 11.66px; font-family: 'DejaVu Sans', sans-serif; text-anchor: middle" x="72.3" y="383.03" transform="rotate(-0 72.3 383.03)">0.5</text>
     </g>
    </g>
    <g id="xtick_2">
     <g id="line2d_31">
      <g>
       <use href="#m3c889467d5" x="110.17" y="365.5" style="stroke: #000000; stroke-width: 1.1"/>
      </g>
     </g>
     <g id="text_2">
      <text style="font-size: 11.66px; font-family: 'DejaVu Sans', sans-serif; text-anchor: middle" x="110.17" y="383.03" transform="rotate(-0 110.17 383.03)">1.0</text>
     </g>
    </g>
    <g id="xtick_3">
     <g id="line2d_32">
      <g>
       <use href="#m3c889467d5" x="148.05" y="365.5" style="stroke: #000000; stroke-width: 1.1"/>
      </g>
     </g>
     <g id="text_3">
      <text style="font-size: 11.66px; font-family: 'DejaVu Sans', sans-serif; text-anchor: middle" x="148.05" y="383.03" transform="rotate(-0 148.05 383.03)">1.5</text>
     </g>
    </g>
    <g id="xtick_4">
     <g id="line2d_33">
      <g>
       <use href="#m3c889467d5" x="185.92" y="365.5" style="stroke: #000000; stroke-width: 1.1"/>
      </g>
     </g>
     <g id="text_4">
      <text style="font-size: 11.66px; font-family: 'DejaVu Sans', sans-serif; text-anchor: middle" x="185.92" y="383.03" transform="rotate(-0 185.92 383.03)">2.0</text>
     </g>
    </g>
    <g id="text_5">
     <text style="font-size: 11.66px; font-family: 'DejaVu Sans', sans-serif; text-anchor: middle" x="117.75" y="399.98" transform="rotate(-0 117.75 399.98)">R [m]</text>
    </g>
   </g>
   <g id="matplotlib.axis_2">
    <g id="ytick_1">
     <g id="line2d_34">
      <defs>
       <path id="m62b1b5c91f" d="M 0 0 
L -4.08 0 
" style="stroke: #000000; stroke-width: 1.1"/>
      </defs>
      <g>
       <use href="#m62b1b5c91f" x="42" y="342.77" style="stroke: #000000; stroke-width: 1.1"/>
      </g>
     </g>
     <g id="text_6">
      <text style="font-size: 11.66px; font-family: 'DejaVu Sans', sans-serif; text-anchor: end" x="33.83" y="347.21" transform="rotate(-0 33.83 347.21)">−2</text>
     </g>
    </g>
    <g id="ytick_2">
     <g id="line2d_35">
      <g>
       <use href="#m62b1b5c91f" x="42" y="267.03" style="stroke: #000000; stroke-width: 1.1"/>
      </g>
     </g>
     <g id="text_7">
      <text style="font-size: 11.66px; font-family: 'DejaVu Sans', sans-serif; text-anchor: end" x="33.83" y="271.47" transform="rotate(-0 33.83 271.47)">−1</text>
     </g>
    </g>
    <g id="ytick_3">
     <g id="line2d_36">
      <g>
       <use href="#m62b1b5c91f" x="42" y="191.3" style="stroke: #000000; stroke-width: 1.1"/>
      </g>
     </g>
     <g id="text_8">
      <text style="font-size: 11.66px; font-family: 'DejaVu Sans', sans-serif; text-anchor: end" x="33.83" y="195.73" transform="rotate(-0 33.83 195.73)">0</text>
     </g>
    </g>
    <g id="ytick_4">
     <g id="line2d_37">
      <g>
       <use href="#m62b1b5c91f" x="42" y="115.56" style="stroke: #000000; stroke-width: 1.1"/>
      </g>
     </g>
     <g id="text_9">
      <text style="font-size: 11.66px; font-family: 'DejaVu Sans', sans-serif; text-anchor: end" x="33.83" y="119.99" transform="rotate(-0 33.83 119.99)">1</text>
     </g>
    </g>
    <g id="ytick_5">
     <g id="line2d_38">
      <g>
       <use href="#m62b1b5c91f" x="42" y="39.82" style="stroke: #000000; stroke-width: 1.1"/>
      </g>
     </g>
     <g id="text_10">
      <text style="font-size: 11.66px; font-family: 'DejaVu Sans', sans-serif; text-anchor: end" x="33.83" y="44.25" transform="rotate(-0 33.83 44.25)">2</text>
     </g>
    </g>
    <g id="text_11">
     <text style="font-size: 11.66px; font-family: 'DejaVu Sans', sans-serif; text-anchor: middle" x="9.54" y="191.3" transform="rotate(-90 9.54 191.3)">Z [m]</text>
    </g>
   </g>
   <g id="line2d_39">
    <path d="M 76.50 105.55 
L 78.43 106.00 
L 81.24 106.94 
L 84.88 108.46 
L 90.36 110.80 
L 95.82 113.13 
L 98.43 114.49 
L 100.92 116.07 
L 104.08 118.44 
L 109.44 122.88 
L 114.88 127.22 
L 119.49 130.95 
L 122.42 133.58 
L 124.50 135.68 
L 127.10 138.67 
L 129.49 141.84 
L 131.67 145.16 
L 133.66 148.62 
L 135.45 152.16 
L 137.04 155.79 
L 138.80 160.42 
L 140.33 165.12 
L 141.65 169.89 
L 143.01 175.67 
L 144.11 181.50 
L 144.97 187.37 
L 145.41 191.3 
L 144.71 197.18 
L 143.77 203.04 
L 142.58 208.86 
L 141.14 214.61 
L 139.74 219.36 
L 138.13 224.04 
L 136.66 227.71 
L 135.02 231.32 
L 133.18 234.85 
L 131.15 238.27 
L 128.91 241.56 
L 126.47 244.69 
L 123.82 247.62 
L 120.98 250.34 
L 117.21 253.52 
L 100.92 266.52 
L 98.43 268.10 
L 95.82 269.46 
L 92.20 271.04 
L 84.88 274.13 
L 81.24 275.65 
L 78.43 276.59 
L 76.50 277.04 
L 73.98 272.49 
L 71.66 267.82 
L 69.86 263.73 
L 68.28 259.56 
L 66.92 255.31 
L 65.58 250.28 
L 64.10 243.74 
L 62.67 236.44 
L 61.45 229.10 
L 60.44 221.73 
L 59.74 215.07 
L 59.20 207.65 
L 58.86 199.48 
L 58.71 190.55 
L 58.99 179.40 
L 59.39 171.97 
L 60.02 164.56 
L 60.81 157.91 
L 61.91 150.55 
L 63.36 142.50 
L 64.90 135.21 
L 66.32 129.43 
L 67.57 125.15 
L 69.04 120.93 
L 70.74 116.80 
L 72.63 112.75 
L 75.04 108.13 
L 76.50 105.55 
L 76.50 105.55 
" clip-path="url(#p1f6addf977)" style="fill: none; stroke: #f08a10; stroke-width: 2; stroke-linecap: square"/>
   </g>
   <g id="line2d_40">
    <path d="M 76.50 105.55 
L 75.62 105.23 
L 74.71 104.93 
L 73.79 104.65 
L 72.85 104.38 
L 71.90 104.10 
L 70.95 103.83 
L 70.00 103.55 
L 69.05 103.25 
L 68.11 102.93 
L 67.18 102.59 
L 66.27 102.22 
L 65.38 101.82 
L 64.51 101.37 
L 63.68 100.88 
L 62.88 100.34 
L 62.11 99.75 
L 61.39 99.09 
L 60.72 98.37 
L 60.10 97.60 
L 59.54 96.79 
L 59.04 95.94 
L 58.60 95.06 
L 58.24 94.16 
L 57.94 93.23 
L 57.72 92.29 
L 57.56 91.33 
L 57.45 90.37 
L 57.38 89.39 
L 57.35 88.41 
L 57.34 87.43 
L 57.36 86.44 
L 57.38 85.46 
L 57.41 84.48 
L 57.44 83.50 
L 57.48 82.53 
L 57.52 81.57 
L 57.57 80.60 
L 57.64 79.64 
L 57.72 78.67 
L 57.81 77.71 
L 57.93 76.75 
L 58.07 75.78 
L 58.24 74.81 
L 58.44 73.84 
L 58.67 72.86 
L 58.94 71.89 
L 59.25 70.93 
L 59.61 70.00 
L 60.01 69.09 
L 60.46 68.21 
L 60.97 67.38 
L 61.53 66.60 
L 62.16 65.88 
L 62.86 65.22 
L 63.62 64.64 
L 64.43 64.12 
L 65.30 63.66 
L 66.20 63.26 
L 67.14 62.92 
L 68.10 62.63 
L 69.08 62.40 
L 70.06 62.21 
L 71.05 62.07 
L 72.03 61.98 
L 73.01 61.94 
L 73.99 61.96 
L 74.96 62.03 
L 75.92 62.17 
L 76.88 62.37 
L 77.82 62.65 
L 78.76 63.00 
L 79.67 63.41 
L 80.53 63.90 
L 81.34 64.47 
L 82.08 65.09 
L 82.72 65.79 
L 83.27 66.56 
L 83.74 67.38 
L 84.11 68.25 
L 84.42 69.17 
L 84.66 70.13 
L 84.85 71.11 
L 84.98 72.12 
L 85.08 73.14 
L 85.14 74.17 
L 85.18 75.20 
L 85.20 76.22 
L 85.22 77.23 
L 85.22 78.22 
L 85.21 79.21 
L 85.19 80.19 
L 85.14 81.15 
L 85.08 82.12 
L 85.00 83.07 
L 84.90 84.02 
L 84.78 84.97 
L 84.62 85.92 
L 84.44 86.86 
L 84.24 87.81 
L 84.01 88.75 
L 83.76 89.69 
L 83.49 90.63 
L 83.20 91.56 
L 82.89 92.49 
L 82.58 93.41 
L 82.25 94.33 
L 81.90 95.24 
L 81.55 96.15 
L 81.18 97.05 
L 80.79 97.94 
L 80.39 98.82 
L 79.97 99.70 
L 79.54 100.56 
L 79.08 101.42 
L 78.61 102.27 
L 78.11 103.10 
L 77.60 103.93 
L 77.06 104.74 
L 76.50 105.55 
" clip-path="url(#p1f6addf977)" style="fill: none; stroke: #f08a10; stroke-width: 2; stroke-linecap: square"/>
   </g>
   <g id="line2d_41">
    <path d="M 76.50 277.04 
L 75.62 277.36 
L 74.71 277.66 
L 73.79 277.94 
L 72.85 278.21 
L 71.90 278.49 
L 70.95 278.76 
L 70.00 279.04 
L 69.05 279.34 
L 68.11 279.66 
L 67.18 280.00 
L 66.27 280.37 
L 65.38 280.77 
L 64.51 281.22 
L 63.68 281.71 
L 62.88 282.25 
L 62.11 282.84 
L 61.39 283.50 
L 60.72 284.22 
L 60.10 284.99 
L 59.54 285.80 
L 59.04 286.65 
L 58.60 287.53 
L 58.24 288.43 
L 57.94 289.36 
L 57.72 290.30 
L 57.56 291.26 
L 57.45 292.22 
L 57.38 293.20 
L 57.35 294.18 
L 57.34 295.16 
L 57.36 296.15 
L 57.38 297.13 
L 57.41 298.11 
L 57.44 299.09 
L 57.48 300.06 
L 57.52 301.02 
L 57.57 301.99 
L 57.64 302.95 
L 57.72 303.92 
L 57.81 304.88 
L 57.93 305.84 
L 58.07 306.81 
L 58.24 307.78 
L 58.44 308.75 
L 58.67 309.73 
L 58.94 310.70 
L 59.25 311.66 
L 59.61 312.59 
L 60.01 313.50 
L 60.46 314.38 
L 60.97 315.21 
L 61.53 315.99 
L 62.16 316.71 
L 62.86 317.37 
L 63.62 317.95 
L 64.43 318.47 
L 65.30 318.93 
L 66.20 319.33 
L 67.14 319.67 
L 68.10 319.96 
L 69.08 320.19 
L 70.06 320.38 
L 71.05 320.52 
L 72.03 320.61 
L 73.01 320.65 
L 73.99 320.63 
L 74.96 320.56 
L 75.92 320.42 
L 76.88 320.22 
L 77.82 319.94 
L 78.76 319.59 
L 79.67 319.18 
L 80.53 318.69 
L 81.34 318.12 
L 82.08 317.50 
L 82.72 316.80 
L 83.27 316.03 
L 83.74 315.21 
L 84.11 314.34 
L 84.42 313.42 
L 84.66 312.46 
L 84.85 311.48 
L 84.98 310.47 
L 85.08 309.45 
L 85.14 308.42 
L 85.18 307.39 
L 85.20 306.37 
L 85.22 305.36 
L 85.22 304.37 
L 85.21 303.38 
L 85.19 302.40 
L 85.14 301.44 
L 85.08 300.47 
L 85.00 299.52 
L 84.90 298.57 
L 84.78 297.62 
L 84.62 296.67 
L 84.44 295.73 
L 84.24 294.78 
L 84.01 293.84 
L 83.76 292.90 
L 83.49 291.96 
L 83.20 291.03 
L 82.89 290.10 
L 82.58 289.18 
L 82.25 288.26 
L 81.90 287.35 
L 81.55 286.44 
L 81.18 285.54 
L 80.79 284.65 
L 80.39 283.77 
L 79.97 282.89 
L 79.54 282.03 
L 79.08 281.17 
L 78.61 280.32 
L 78.11 279.49 
L 77.60 278.66 
L 77.06 277.85 
L 76.50 277.04 
" clip-path="url(#p1f6addf977)" style="fill: none; stroke: #f08a10; stroke-width: 2; stroke-linecap: square"/>
   </g>
   <g id="patch_3">
    <path d="M 42 365.5 
L 42 17.1 
" style="fill: none; stroke: #000000; stroke-width: 1.2; stroke-linejoin: miter; stroke-linecap: square"/>
   </g>
   <g id="patch_4">
    <path d="M 193.5 365.5 
L 193.5 17.1 
" style="fill: none; stroke: #000000; stroke-width: 1.2; stroke-linejoin: miter; stroke-linecap: square"/>
   </g>
   <g id="patch_5">
    <path d="M 42 365.5 
L 193.5 365.5 
" style="fill: none; stroke: #000000; stroke-width: 1.2; stroke-linejoin: miter; stroke-linecap: square"/>
   </g>
   <g id="patch_6">
    <path d="M 42 17.1 
L 193.5 17.1 
" style="fill: none; stroke: #000000; stroke-width: 1.2; stroke-linejoin: miter; stroke-linecap: square"/>
   </g>
   <g id="line2d_42">
    <path d="M 77.80 108.55 
L 79.72 110.45 
L 81.75 112.18 
L 84.60 114.30 
L 88.33 116.70 
L 93.70 119.83 
L 99.06 122.98 
L 102.02 124.93 
L 104.87 127.04 
L 107.60 129.30 
L 110.86 132.34 
L 113.94 135.57 
L 116.84 138.96 
L 119.56 142.51 
L 121.56 145.46 
L 123.38 148.50 
L 125.02 151.65 
L 126.44 154.89 
L 127.68 158.22 
L 129.02 162.46 
L 130.40 167.62 
L 131.80 173.69 
L 132.76 178.93 
L 133.36 183.32 
L 133.71 187.74 
L 133.81 191.3 
L 133.71 194.85 
L 133.36 199.27 
L 132.76 203.66 
L 131.80 208.90 
L 130.40 214.97 
L 129.02 220.13 
L 127.68 224.37 
L 126.44 227.70 
L 125.02 230.94 
L 123.38 234.09 
L 121.56 237.13 
L 119.56 240.08 
L 116.84 243.63 
L 113.94 247.02 
L 110.86 250.25 
L 107.60 253.29 
L 104.87 255.55 
L 102.02 257.66 
L 99.06 259.61 
L 94.47 262.32 
L 86.82 266.83 
L 83.88 268.80 
L 81.07 270.97 
L 79.07 272.76 
L 77.80 274.04 
L 76.51 269.92 
L 74.77 265.21 
L 71.78 257.89 
L 68.56 249.90 
L 66.90 245.15 
L 65.46 240.33 
L 64.25 235.45 
L 63.27 230.52 
L 62.24 224.13 
L 61.03 214.87 
L 59.75 203.45 
L 58.60 191.3 
L 59.90 177.71 
L 61.20 166.29 
L 62.56 156.33 
L 63.53 150.66 
L 64.58 145.74 
L 65.85 140.88 
L 67.35 136.07 
L 69.07 131.35 
L 71.78 124.70 
L 75.29 116.04 
L 76.96 111.30 
L 77.80 108.55 
L 77.80 108.55 
" clip-path="url(#p1f6addf977)" style="fill: none; stroke: #3ee0cc; stroke-width: 2.3; stroke-linecap: square"/>
   </g>
   <g id="line2d_43">
    <path d="M 77.80 108.55 
L 76.70 107.95 
L 75.57 107.48 
L 74.42 107.10 
L 73.26 106.80 
L 72.08 106.56 
L 70.89 106.37 
L 69.70 106.21 
L 68.50 106.06 
L 67.31 105.90 
L 66.11 105.72 
L 64.93 105.50 
L 63.75 105.22 
L 62.59 104.87 
L 61.45 104.42 
L 60.34 103.87 
L 59.28 103.23 
L 58.30 102.50 
L 57.41 101.67 
L 56.64 100.75 
L 56.01 99.75 
L 55.51 98.68 
L 55.13 97.54 
L 54.84 96.36 
L 54.62 95.15 
L 54.46 93.91 
L 54.35 92.67 
L 54.25 91.43 
L 54.17 90.21 
L 54.10 88.99 
L 54.04 87.79 
L 53.99 86.59 
L 53.96 85.39 
L 53.94 84.20 
L 53.92 83.01 
L 53.92 81.81 
L 53.93 80.61 
L 53.95 79.41 
L 53.98 78.20 
L 54.02 76.98 
L 54.08 75.75 
L 54.16 74.52 
L 54.27 73.29 
L 54.41 72.07 
L 54.61 70.86 
L 54.85 69.67 
L 55.16 68.50 
L 55.53 67.36 
L 55.99 66.25 
L 56.52 65.18 
L 57.15 64.16 
L 57.86 63.18 
L 58.65 62.25 
L 59.51 61.38 
L 60.44 60.57 
L 61.41 59.84 
L 62.44 59.17 
L 63.51 58.58 
L 64.61 58.06 
L 65.74 57.62 
L 66.90 57.26 
L 68.08 56.96 
L 69.27 56.73 
L 70.47 56.57 
L 71.69 56.46 
L 72.91 56.42 
L 74.12 56.44 
L 75.33 56.53 
L 76.54 56.69 
L 77.72 56.93 
L 78.89 57.25 
L 80.04 57.66 
L 81.16 58.16 
L 82.25 58.75 
L 83.28 59.43 
L 84.23 60.19 
L 85.10 61.03 
L 85.86 61.95 
L 86.51 62.95 
L 87.03 64.00 
L 87.46 65.11 
L 87.80 66.27 
L 88.07 67.46 
L 88.28 68.68 
L 88.44 69.92 
L 88.57 71.16 
L 88.69 72.40 
L 88.80 73.64 
L 88.91 74.86 
L 89.01 76.07 
L 89.10 77.28 
L 89.18 78.48 
L 89.25 79.67 
L 89.30 80.86 
L 89.33 82.06 
L 89.33 83.25 
L 89.31 84.44 
L 89.26 85.64 
L 89.18 86.84 
L 89.06 88.04 
L 88.91 89.24 
L 88.73 90.44 
L 88.51 91.63 
L 88.25 92.81 
L 87.94 93.99 
L 87.60 95.15 
L 87.21 96.30 
L 86.77 97.44 
L 86.29 98.56 
L 85.76 99.65 
L 85.19 100.72 
L 84.57 101.76 
L 83.89 102.76 
L 83.17 103.73 
L 82.40 104.66 
L 81.58 105.54 
L 80.71 106.37 
L 79.79 107.15 
L 78.82 107.88 
L 77.80 108.55 
" clip-path="url(#p1f6addf977)" style="fill: none; stroke: #3ee0cc; stroke-width: 2.3; stroke-linecap: square"/>
   </g>
   <g id="line2d_44">
    <path d="M 77.80 274.04 
L 76.70 274.64 
L 75.57 275.11 
L 74.42 275.49 
L 73.26 275.79 
L 72.08 276.03 
L 70.89 276.22 
L 69.70 276.38 
L 68.50 276.53 
L 67.31 276.69 
L 66.11 276.87 
L 64.93 277.09 
L 63.75 277.37 
L 62.59 277.72 
L 61.45 278.17 
L 60.34 278.72 
L 59.28 279.36 
L 58.30 280.09 
L 57.41 280.92 
L 56.64 281.84 
L 56.01 282.84 
L 55.51 283.91 
L 55.13 285.05 
L 54.84 286.23 
L 54.62 287.44 
L 54.46 288.68 
L 54.35 289.92 
L 54.25 291.16 
L 54.17 292.38 
L 54.10 293.60 
L 54.04 294.80 
L 53.99 296.00 
L 53.96 297.20 
L 53.94 298.39 
L 53.92 299.58 
L 53.92 300.78 
L 53.93 301.98 
L 53.95 303.18 
L 53.98 304.39 
L 54.02 305.61 
L 54.08 306.84 
L 54.16 308.07 
L 54.27 309.30 
L 54.41 310.52 
L 54.61 311.73 
L 54.85 312.92 
L 55.16 314.09 
L 55.53 315.23 
L 55.99 316.34 
L 56.52 317.41 
L 57.15 318.43 
L 57.86 319.41 
L 58.65 320.34 
L 59.51 321.21 
L 60.44 322.02 
L 61.41 322.75 
L 62.44 323.42 
L 63.51 324.01 
L 64.61 324.53 
L 65.74 324.97 
L 66.90 325.33 
L 68.08 325.63 
L 69.27 325.86 
L 70.47 326.02 
L 71.69 326.13 
L 72.91 326.17 
L 74.12 326.15 
L 75.33 326.06 
L 76.54 325.90 
L 77.72 325.66 
L 78.89 325.34 
L 80.04 324.93 
L 81.16 324.43 
L 82.25 323.84 
L 83.28 323.16 
L 84.23 322.40 
L 85.10 321.56 
L 85.86 320.64 
L 86.51 319.64 
L 87.03 318.59 
L 87.46 317.48 
L 87.80 316.32 
L 88.07 315.13 
L 88.28 313.91 
L 88.44 312.67 
L 88.57 311.43 
L 88.69 310.19 
L 88.80 308.95 
L 88.91 307.73 
L 89.01 306.52 
L 89.10 305.31 
L 89.18 304.11 
L 89.25 302.92 
L 89.30 301.73 
L 89.33 300.53 
L 89.33 299.34 
L 89.31 298.15 
L 89.26 296.95 
L 89.18 295.75 
L 89.06 294.55 
L 88.91 293.35 
L 88.73 292.15 
L 88.51 290.96 
L 88.25 289.78 
L 87.94 288.60 
L 87.60 287.44 
L 87.21 286.29 
L 86.77 285.15 
L 86.29 284.03 
L 85.76 282.94 
L 85.19 281.87 
L 84.57 280.83 
L 83.89 279.83 
L 83.17 278.86 
L 82.40 277.93 
L 81.58 277.05 
L 80.71 276.22 
L 79.79 275.44 
L 78.82 274.71 
L 77.80 274.04 
" clip-path="url(#p1f6addf977)" style="fill: none; stroke: #3ee0cc; stroke-width: 2.3; stroke-linecap: square"/>
   </g>
   <g id="line2d_45">
    <defs>
     <path id="mdf7a1bdc33" d="M 0 1.75 
C 0.46 1.75 0.90 1.56 1.23 1.23 
C 1.56 0.90 1.75 0.46 1.75 0 
C 1.75 -0.46 1.56 -0.90 1.23 -1.23 
C 0.90 -1.56 0.46 -1.75 0 -1.75 
C -0.46 -1.75 -0.90 -1.56 -1.23 -1.23 
C -1.56 -0.90 -1.75 -0.46 -1.75 0 
C -1.75 0.46 -1.56 0.90 -1.23 1.23 
C -0.90 1.56 -0.46 1.75 0 1.75 
z
"/>
    </defs>
    <g clip-path="url(#p1f6addf977)">
     <use href="#mdf7a1bdc33" x="109.80" y="191.34" style="fill: #f07010"/>
    </g>
   </g>
   <g id="line2d_46">
    <defs>
     <path id="m55ba6cffb8" d="M 0 1.75 
C 0.46 1.75 0.90 1.56 1.23 1.23 
C 1.56 0.90 1.75 0.46 1.75 0 
C 1.75 -0.46 1.56 -0.90 1.23 -1.23 
C 0.90 -1.56 0.46 -1.75 0 -1.75 
C -0.46 -1.75 -0.90 -1.56 -1.23 -1.23 
C -1.56 -0.90 -1.75 -0.46 -1.75 0 
C -1.75 0.46 -1.56 0.90 -1.23 1.23 
C -0.90 1.56 -0.46 1.75 0 1.75 
z
"/>
    </defs>
    <g clip-path="url(#p1f6addf977)">
     <use href="#m55ba6cffb8" x="101.50" y="191.25" style="fill: #20c8c8"/>
    </g>
   </g>
   <g id="line2d_47">
    <path d="M 54.20 191.3 
L 54.60 150.05 
L 55.60 145.05 
L 59.80 93.05 
L 116.80 35.85 
L 137.31 35.85 
L 166.01 64.05 
L 153.51 72.65 
L 100.40 72.05 
L 97.60 74.55 
L 97.00 77.75 
L 97.00 86.15 
L 100.40 92.95 
L 105.40 98.75 
L 125.61 114.75 
L 132.31 129.25 
L 149.91 129.25 
L 149.91 171.95 
L 170.91 171.95 
L 170.91 191.3 
L 170.91 191.3 
L 170.91 210.64 
L 149.91 210.64 
L 149.91 253.34 
L 132.31 253.34 
L 125.61 267.84 
L 105.40 283.84 
L 100.40 289.64 
L 97.00 296.44 
L 97.00 304.84 
L 97.60 308.04 
L 100.40 310.54 
L 153.51 309.94 
L 166.01 318.54 
L 137.31 346.74 
L 116.80 346.74 
L 59.80 289.54 
L 55.60 237.54 
L 54.60 232.54 
L 54.20 191.3 
" clip-path="url(#p1f6addf977)" style="fill: none; stroke: #000000; stroke-width: 1.5; stroke-linecap: square"/>
   </g>
   <g id="line2d_48">
    <defs>
     <path id="m1f40e13eab" d="M 0 1.45 
C 0.38 1.45 0.75 1.29 1.02 1.02 
C 1.29 0.75 1.45 0.38 1.45 0 
C 1.45 -0.38 1.29 -0.75 1.02 -1.02 
C 0.75 -1.29 0.38 -1.45 0 -1.45 
C -0.38 -1.45 -0.75 -1.29 -1.02 -1.02 
C -1.29 -0.75 -1.45 -0.38 -1.45 0 
C -1.45 0.38 -1.29 0.75 -1.02 1.02 
C -0.75 1.29 -0.38 1.45 0 1.45 
z
"/>
    </defs>
    <g clip-path="url(#p1f6addf977)">
     <use href="#m1f40e13eab" x="57.80" y="24.55" style="fill: #14146e"/>
     <use href="#m1f40e13eab" x="57.80" y="358.04" style="fill: #14146e"/>
     <use href="#m1f40e13eab" x="65.20" y="24.55" style="fill: #14146e"/>
     <use href="#m1f40e13eab" x="65.20" y="358.04" style="fill: #14146e"/>
     <use href="#m1f40e13eab" x="72.60" y="24.55" style="fill: #14146e"/>
     <use href="#m1f40e13eab" x="72.60" y="358.04" style="fill: #14146e"/>
     <use href="#m1f40e13eab" x="80.00" y="24.55" style="fill: #14146e"/>
     <use href="#m1f40e13eab" x="80.00" y="358.04" style="fill: #14146e"/>
     <use href="#m1f40e13eab" x="87.40" y="24.55" style="fill: #14146e"/>
     <use href="#m1f40e13eab" x="87.40" y="358.04" style="fill: #14146e"/>
     <use href="#m1f40e13eab" x="94.80" y="24.55" style="fill: #14146e"/>
     <use href="#m1f40e13eab" x="94.80" y="358.04" style="fill: #14146e"/>
     <use href="#m1f40e13eab" x="102.20" y="24.55" style="fill: #14146e"/>
     <use href="#m1f40e13eab" x="102.20" y="358.04" style="fill: #14146e"/>
     <use href="#m1f40e13eab" x="109.60" y="24.55" style="fill: #14146e"/>
     <use href="#m1f40e13eab" x="109.60" y="358.04" style="fill: #14146e"/>
     <use href="#m1f40e13eab" x="117.00" y="24.55" style="fill: #14146e"/>
     <use href="#m1f40e13eab" x="117.00" y="358.04" style="fill: #14146e"/>
     <use href="#m1f40e13eab" x="124.41" y="24.55" style="fill: #14146e"/>
     <use href="#m1f40e13eab" x="124.41" y="358.04" style="fill: #14146e"/>
     <use href="#m1f40e13eab" x="131.81" y="24.55" style="fill: #14146e"/>
     <use href="#m1f40e13eab" x="131.81" y="358.04" style="fill: #14146e"/>
     <use href="#m1f40e13eab" x="139.21" y="24.55" style="fill: #14146e"/>
     <use href="#m1f40e13eab" x="139.21" y="358.04" style="fill: #14146e"/>
     <use href="#m1f40e13eab" x="146.61" y="24.55" style="fill: #14146e"/>
     <use href="#m1f40e13eab" x="146.61" y="358.04" style="fill: #14146e"/>
     <use href="#m1f40e13eab" x="154.01" y="24.55" style="fill: #14146e"/>
     <use href="#m1f40e13eab" x="154.01" y="358.04" style="fill: #14146e"/>
     <use href="#m1f40e13eab" x="161.41" y="24.55" style="fill: #14146e"/>
     <use href="#m1f40e13eab" x="161.41" y="358.04" style="fill: #14146e"/>
     <use href="#m1f40e13eab" x="168.81" y="24.55" style="fill: #14146e"/>
     <use href="#m1f40e13eab" x="168.81" y="358.04" style="fill: #14146e"/>
     <use href="#m1f40e13eab" x="176.21" y="24.55" style="fill: #14146e"/>
     <use href="#m1f40e13eab" x="176.21" y="358.04" style="fill: #14146e"/>
     <use href="#m1f40e13eab" x="183.61" y="24.55" style="fill: #14146e"/>
     <use href="#m1f40e13eab" x="183.61" y="358.04" style="fill: #14146e"/>
     <use href="#m1f40e13eab" x="186.71" y="30.65" style="fill: #14146e"/>
     <use href="#m1f40e13eab" x="186.71" y="38.05" style="fill: #14146e"/>
     <use href="#m1f40e13eab" x="186.71" y="45.45" style="fill: #14146e"/>
     <use href="#m1f40e13eab" x="186.71" y="52.85" style="fill: #14146e"/>
     <use href="#m1f40e13eab" x="186.71" y="60.25" style="fill: #14146e"/>
     <use href="#m1f40e13eab" x="186.71" y="67.65" style="fill: #14146e"/>
     <use href="#m1f40e13eab" x="186.71" y="75.05" style="fill: #14146e"/>
     <use href="#m1f40e13eab" x="186.71" y="82.45" style="fill: #14146e"/>
     <use href="#m1f40e13eab" x="186.71" y="89.85" style="fill: #14146e"/>
     <use href="#m1f40e13eab" x="186.71" y="97.25" style="fill: #14146e"/>
     <use href="#m1f40e13eab" x="186.71" y="104.65" style="fill: #14146e"/>
     <use href="#m1f40e13eab" x="186.71" y="112.05" style="fill: #14146e"/>
     <use href="#m1f40e13eab" x="186.71" y="119.45" style="fill: #14146e"/>
     <use href="#m1f40e13eab" x="186.71" y="126.85" style="fill: #14146e"/>
     <use href="#m1f40e13eab" x="186.71" y="134.25" style="fill: #14146e"/>
     <use href="#m1f40e13eab" x="186.71" y="141.65" style="fill: #14146e"/>
     <use href="#m1f40e13eab" x="186.71" y="149.05" style="fill: #14146e"/>
     <use href="#m1f40e13eab" x="186.71" y="156.45" style="fill: #14146e"/>
     <use href="#m1f40e13eab" x="186.71" y="163.85" style="fill: #14146e"/>
     <use href="#m1f40e13eab" x="186.71" y="171.25" style="fill: #14146e"/>
     <use href="#m1f40e13eab" x="186.71" y="178.65" style="fill: #14146e"/>
     <use href="#m1f40e13eab" x="186.71" y="186.05" style="fill: #14146e"/>
     <use href="#m1f40e13eab" x="186.71" y="193.44" style="fill: #14146e"/>
     <use href="#m1f40e13eab" x="186.71" y="200.84" style="fill: #14146e"/>
     <use href="#m1f40e13eab" x="186.71" y="208.24" style="fill: #14146e"/>
     <use href="#m1f40e13eab" x="186.71" y="215.64" style="fill: #14146e"/>
     <use href="#m1f40e13eab" x="186.71" y="223.04" style="fill: #14146e"/>
     <use href="#m1f40e13eab" x="186.71" y="230.44" style="fill: #14146e"/>
     <use href="#m1f40e13eab" x="186.71" y="237.84" style="fill: #14146e"/>
     <use href="#m1f40e13eab" x="186.71" y="245.24" style="fill: #14146e"/>
     <use href="#m1f40e13eab" x="186.71" y="252.64" style="fill: #14146e"/>
     <use href="#m1f40e13eab" x="186.71" y="260.04" style="fill: #14146e"/>
     <use href="#m1f40e13eab" x="186.71" y="267.44" style="fill: #14146e"/>
     <use href="#m1f40e13eab" x="186.71" y="274.84" style="fill: #14146e"/>
     <use href="#m1f40e13eab" x="186.71" y="282.24" style="fill: #14146e"/>
     <use href="#m1f40e13eab" x="186.71" y="289.64" style="fill: #14146e"/>
     <use href="#m1f40e13eab" x="186.71" y="297.04" style="fill: #14146e"/>
     <use href="#m1f40e13eab" x="186.71" y="304.44" style="fill: #14146e"/>
     <use href="#m1f40e13eab" x="186.71" y="311.84" style="fill: #14146e"/>
     <use href="#m1f40e13eab" x="186.71" y="319.24" style="fill: #14146e"/>
     <use href="#m1f40e13eab" x="186.71" y="326.64" style="fill: #14146e"/>
     <use href="#m1f40e13eab" x="186.71" y="334.04" style="fill: #14146e"/>
     <use href="#m1f40e13eab" x="186.71" y="341.44" style="fill: #14146e"/>
     <use href="#m1f40e13eab" x="186.71" y="348.84" style="fill: #14146e"/>
     <use href="#m1f40e13eab" x="54.50" y="28.95" style="fill: #14146e"/>
     <use href="#m1f40e13eab" x="54.50" y="32.70" style="fill: #14146e"/>
     <use href="#m1f40e13eab" x="54.50" y="36.45" style="fill: #14146e"/>
     <use href="#m1f40e13eab" x="54.50" y="40.20" style="fill: #14146e"/>
     <use href="#m1f40e13eab" x="54.50" y="43.95" style="fill: #14146e"/>
     <use href="#m1f40e13eab" x="54.50" y="47.70" style="fill: #14146e"/>
     <use href="#m1f40e13eab" x="54.50" y="51.45" style="fill: #14146e"/>
     <use href="#m1f40e13eab" x="54.50" y="55.20" style="fill: #14146e"/>
     <use href="#m1f40e13eab" x="54.50" y="58.95" style="fill: #14146e"/>
     <use href="#m1f40e13eab" x="54.50" y="62.70" style="fill: #14146e"/>
     <use href="#m1f40e13eab" x="54.50" y="66.45" style="fill: #14146e"/>
     <use href="#m1f40e13eab" x="54.50" y="70.20" style="fill: #14146e"/>
     <use href="#m1f40e13eab" x="54.50" y="73.95" style="fill: #14146e"/>
     <use href="#m1f40e13eab" x="54.50" y="77.70" style="fill: #14146e"/>
     <use href="#m1f40e13eab" x="54.50" y="81.45" style="fill: #14146e"/>
     <use href="#m1f40e13eab" x="54.50" y="85.20" style="fill: #14146e"/>
     <use href="#m1f40e13eab" x="54.50" y="88.95" style="fill: #14146e"/>
     <use href="#m1f40e13eab" x="54.50" y="92.70" style="fill: #14146e"/>
     <use href="#m1f40e13eab" x="54.50" y="96.45" style="fill: #14146e"/>
     <use href="#m1f40e13eab" x="54.50" y="100.20" style="fill: #14146e"/>
     <use href="#m1f40e13eab" x="54.50" y="103.95" style="fill: #14146e"/>
     <use href="#m1f40e13eab" x="54.50" y="107.70" style="fill: #14146e"/>
     <use href="#m1f40e13eab" x="54.50" y="111.45" style="fill: #14146e"/>
     <use href="#m1f40e13eab" x="54.50" y="115.20" style="fill: #14146e"/>
     <use href="#m1f40e13eab" x="54.50" y="118.95" style="fill: #14146e"/>
     <use href="#m1f40e13eab" x="54.50" y="122.70" style="fill: #14146e"/>
     <use href="#m1f40e13eab" x="54.50" y="126.45" style="fill: #14146e"/>
     <use href="#m1f40e13eab" x="54.50" y="130.20" style="fill: #14146e"/>
     <use href="#m1f40e13eab" x="54.50" y="133.95" style="fill: #14146e"/>
     <use href="#m1f40e13eab" x="54.50" y="137.70" style="fill: #14146e"/>
     <use href="#m1f40e13eab" x="54.50" y="246.44" style="fill: #14146e"/>
     <use href="#m1f40e13eab" x="54.50" y="250.19" style="fill: #14146e"/>
     <use href="#m1f40e13eab" x="54.50" y="253.94" style="fill: #14146e"/>
     <use href="#m1f40e13eab" x="54.50" y="257.69" style="fill: #14146e"/>
     <use href="#m1f40e13eab" x="54.50" y="261.44" style="fill: #14146e"/>
     <use href="#m1f40e13eab" x="54.50" y="265.19" style="fill: #14146e"/>
     <use href="#m1f40e13eab" x="54.50" y="268.94" style="fill: #14146e"/>
     <use href="#m1f40e13eab" x="54.50" y="272.69" style="fill: #14146e"/>
     <use href="#m1f40e13eab" x="54.50" y="276.44" style="fill: #14146e"/>
     <use href="#m1f40e13eab" x="54.50" y="280.19" style="fill: #14146e"/>
     <use href="#m1f40e13eab" x="54.50" y="283.94" style="fill: #14146e"/>
     <use href="#m1f40e13eab" x="54.50" y="287.69" style="fill: #14146e"/>
     <use href="#m1f40e13eab" x="54.50" y="291.44" style="fill: #14146e"/>
     <use href="#m1f40e13eab" x="54.50" y="295.19" style="fill: #14146e"/>
     <use href="#m1f40e13eab" x="54.50" y="298.94" style="fill: #14146e"/>
     <use href="#m1f40e13eab" x="54.50" y="302.69" style="fill: #14146e"/>
     <use href="#m1f40e13eab" x="54.50" y="306.44" style="fill: #14146e"/>
     <use href="#m1f40e13eab" x="54.50" y="310.19" style="fill: #14146e"/>
     <use href="#m1f40e13eab" x="54.50" y="313.94" style="fill: #14146e"/>
     <use href="#m1f40e13eab" x="54.50" y="317.69" style="fill: #14146e"/>
     <use href="#m1f40e13eab" x="54.50" y="321.44" style="fill: #14146e"/>
     <use href="#m1f40e13eab" x="54.50" y="325.19" style="fill: #14146e"/>
     <use href="#m1f40e13eab" x="54.50" y="328.94" style="fill: #14146e"/>
     <use href="#m1f40e13eab" x="54.50" y="332.69" style="fill: #14146e"/>
     <use href="#m1f40e13eab" x="54.50" y="336.44" style="fill: #14146e"/>
     <use href="#m1f40e13eab" x="54.50" y="340.19" style="fill: #14146e"/>
     <use href="#m1f40e13eab" x="54.50" y="343.94" style="fill: #14146e"/>
     <use href="#m1f40e13eab" x="54.50" y="347.69" style="fill: #14146e"/>
     <use href="#m1f40e13eab" x="54.50" y="351.44" style="fill: #14146e"/>
     <use href="#m1f40e13eab" x="58.20" y="85.85" style="fill: #14146e"/>
     <use href="#m1f40e13eab" x="58.20" y="296.74" style="fill: #14146e"/>
     <use href="#m1f40e13eab" x="65.47" y="79.43" style="fill: #14146e"/>
     <use href="#m1f40e13eab" x="65.47" y="303.16" style="fill: #14146e"/>
     <use href="#m1f40e13eab" x="72.75" y="73.02" style="fill: #14146e"/>
     <use href="#m1f40e13eab" x="72.75" y="309.57" style="fill: #14146e"/>
     <use href="#m1f40e13eab" x="80.03" y="66.61" style="fill: #14146e"/>
     <use href="#m1f40e13eab" x="80.03" y="315.98" style="fill: #14146e"/>
     <use href="#m1f40e13eab" x="87.30" y="60.20" style="fill: #14146e"/>
     <use href="#m1f40e13eab" x="87.30" y="322.39" style="fill: #14146e"/>
     <use href="#m1f40e13eab" x="94.58" y="53.78" style="fill: #14146e"/>
     <use href="#m1f40e13eab" x="94.58" y="328.81" style="fill: #14146e"/>
     <use href="#m1f40e13eab" x="101.85" y="47.37" style="fill: #14146e"/>
     <use href="#m1f40e13eab" x="101.85" y="335.22" style="fill: #14146e"/>
     <use href="#m1f40e13eab" x="109.13" y="40.96" style="fill: #14146e"/>
     <use href="#m1f40e13eab" x="109.13" y="341.63" style="fill: #14146e"/>
     <use href="#m1f40e13eab" x="116.40" y="34.55" style="fill: #14146e"/>
     <use href="#m1f40e13eab" x="116.40" y="348.04" style="fill: #14146e"/>
     <use href="#m1f40e13eab" x="124.61" y="34.45" style="fill: #14146e"/>
     <use href="#m1f40e13eab" x="124.61" y="348.14" style="fill: #14146e"/>
     <use href="#m1f40e13eab" x="131.01" y="34.45" style="fill: #14146e"/>
     <use href="#m1f40e13eab" x="131.01" y="348.14" style="fill: #14146e"/>
     <use href="#m1f40e13eab" x="137.71" y="34.45" style="fill: #14146e"/>
     <use href="#m1f40e13eab" x="137.71" y="348.14" style="fill: #14146e"/>
     <use href="#m1f40e13eab" x="143.61" y="37.95" style="fill: #14146e"/>
     <use href="#m1f40e13eab" x="143.61" y="344.64" style="fill: #14146e"/>
     <use href="#m1f40e13eab" x="150.78" y="45.28" style="fill: #14146e"/>
     <use href="#m1f40e13eab" x="150.78" y="337.31" style="fill: #14146e"/>
     <use href="#m1f40e13eab" x="157.94" y="52.61" style="fill: #14146e"/>
     <use href="#m1f40e13eab" x="157.94" y="329.98" style="fill: #14146e"/>
     <use href="#m1f40e13eab" x="165.11" y="59.95" style="fill: #14146e"/>
     <use href="#m1f40e13eab" x="165.11" y="322.64" style="fill: #14146e"/>
     <use href="#m1f40e13eab" x="101.50" y="72.95" style="fill: #14146e"/>
     <use href="#m1f40e13eab" x="101.50" y="309.64" style="fill: #14146e"/>
     <use href="#m1f40e13eab" x="103.70" y="72.95" style="fill: #14146e"/>
     <use href="#m1f40e13eab" x="103.70" y="309.64" style="fill: #14146e"/>
     <use href="#m1f40e13eab" x="105.90" y="72.95" style="fill: #14146e"/>
     <use href="#m1f40e13eab" x="105.90" y="309.64" style="fill: #14146e"/>
     <use href="#m1f40e13eab" x="108.10" y="72.95" style="fill: #14146e"/>
     <use href="#m1f40e13eab" x="108.10" y="309.64" style="fill: #14146e"/>
     <use href="#m1f40e13eab" x="110.30" y="72.95" style="fill: #14146e"/>
     <use href="#m1f40e13eab" x="110.30" y="309.64" style="fill: #14146e"/>
     <use href="#m1f40e13eab" x="112.50" y="72.95" style="fill: #14146e"/>
     <use href="#m1f40e13eab" x="112.50" y="309.64" style="fill: #14146e"/>
     <use href="#m1f40e13eab" x="114.70" y="72.95" style="fill: #14146e"/>
     <use href="#m1f40e13eab" x="114.70" y="309.64" style="fill: #14146e"/>
     <use href="#m1f40e13eab" x="116.90" y="72.95" style="fill: #14146e"/>
     <use href="#m1f40e13eab" x="116.90" y="309.64" style="fill: #14146e"/>
     <use href="#m1f40e13eab" x="119.11" y="72.95" style="fill: #14146e"/>
     <use href="#m1f40e13eab" x="119.11" y="309.64" style="fill: #14146e"/>
     <use href="#m1f40e13eab" x="121.31" y="72.95" style="fill: #14146e"/>
     <use href="#m1f40e13eab" x="121.31" y="309.64" style="fill: #14146e"/>
     <use href="#m1f40e13eab" x="123.51" y="72.95" style="fill: #14146e"/>
     <use href="#m1f40e13eab" x="123.51" y="309.64" style="fill: #14146e"/>
     <use href="#m1f40e13eab" x="125.71" y="72.95" style="fill: #14146e"/>
     <use href="#m1f40e13eab" x="125.71" y="309.64" style="fill: #14146e"/>
     <use href="#m1f40e13eab" x="127.91" y="72.95" style="fill: #14146e"/>
     <use href="#m1f40e13eab" x="127.91" y="309.64" style="fill: #14146e"/>
     <use href="#m1f40e13eab" x="130.11" y="72.95" style="fill: #14146e"/>
     <use href="#m1f40e13eab" x="130.11" y="309.64" style="fill: #14146e"/>
     <use href="#m1f40e13eab" x="132.31" y="72.95" style="fill: #14146e"/>
     <use href="#m1f40e13eab" x="132.31" y="309.64" style="fill: #14146e"/>
     <use href="#m1f40e13eab" x="134.51" y="72.95" style="fill: #14146e"/>
     <use href="#m1f40e13eab" x="134.51" y="309.64" style="fill: #14146e"/>
     <use href="#m1f40e13eab" x="136.71" y="72.95" style="fill: #14146e"/>
     <use href="#m1f40e13eab" x="136.71" y="309.64" style="fill: #14146e"/>
     <use href="#m1f40e13eab" x="138.91" y="72.95" style="fill: #14146e"/>
     <use href="#m1f40e13eab" x="138.91" y="309.64" style="fill: #14146e"/>
     <use href="#m1f40e13eab" x="141.11" y="72.95" style="fill: #14146e"/>
     <use href="#m1f40e13eab" x="141.11" y="309.64" style="fill: #14146e"/>
     <use href="#m1f40e13eab" x="143.31" y="72.95" style="fill: #14146e"/>
     <use href="#m1f40e13eab" x="143.31" y="309.64" style="fill: #14146e"/>
     <use href="#m1f40e13eab" x="145.51" y="72.95" style="fill: #14146e"/>
     <use href="#m1f40e13eab" x="145.51" y="309.64" style="fill: #14146e"/>
     <use href="#m1f40e13eab" x="147.71" y="72.95" style="fill: #14146e"/>
     <use href="#m1f40e13eab" x="147.71" y="309.64" style="fill: #14146e"/>
     <use href="#m1f40e13eab" x="149.91" y="72.95" style="fill: #14146e"/>
     <use href="#m1f40e13eab" x="149.91" y="309.64" style="fill: #14146e"/>
     <use href="#m1f40e13eab" x="152.11" y="72.95" style="fill: #14146e"/>
     <use href="#m1f40e13eab" x="152.11" y="309.64" style="fill: #14146e"/>
     <use href="#m1f40e13eab" x="99.50" y="73.65" style="fill: #14146e"/>
     <use href="#m1f40e13eab" x="99.50" y="308.94" style="fill: #14146e"/>
     <use href="#m1f40e13eab" x="98.60" y="75.55" style="fill: #14146e"/>
     <use href="#m1f40e13eab" x="98.60" y="307.04" style="fill: #14146e"/>
     <use href="#m1f40e13eab" x="98.30" y="77.35" style="fill: #14146e"/>
     <use href="#m1f40e13eab" x="98.30" y="305.24" style="fill: #14146e"/>
     <use href="#m1f40e13eab" x="98.20" y="79.05" style="fill: #14146e"/>
     <use href="#m1f40e13eab" x="98.20" y="303.54" style="fill: #14146e"/>
     <use href="#m1f40e13eab" x="98.20" y="80.85" style="fill: #14146e"/>
     <use href="#m1f40e13eab" x="98.20" y="301.74" style="fill: #14146e"/>
     <use href="#m1f40e13eab" x="98.20" y="82.55" style="fill: #14146e"/>
     <use href="#m1f40e13eab" x="98.20" y="300.04" style="fill: #14146e"/>
     <use href="#m1f40e13eab" x="98.30" y="84.35" style="fill: #14146e"/>
     <use href="#m1f40e13eab" x="98.30" y="298.24" style="fill: #14146e"/>
     <use href="#m1f40e13eab" x="98.60" y="86.05" style="fill: #14146e"/>
     <use href="#m1f40e13eab" x="98.60" y="296.54" style="fill: #14146e"/>
     <use href="#m1f40e13eab" x="99.00" y="87.85" style="fill: #14146e"/>
     <use href="#m1f40e13eab" x="99.00" y="294.74" style="fill: #14146e"/>
     <use href="#m1f40e13eab" x="99.60" y="89.55" style="fill: #14146e"/>
     <use href="#m1f40e13eab" x="99.60" y="293.04" style="fill: #14146e"/>
     <use href="#m1f40e13eab" x="100.40" y="91.15" style="fill: #14146e"/>
     <use href="#m1f40e13eab" x="100.40" y="291.44" style="fill: #14146e"/>
     <use href="#m1f40e13eab" x="101.40" y="92.65" style="fill: #14146e"/>
     <use href="#m1f40e13eab" x="101.40" y="289.94" style="fill: #14146e"/>
     <use href="#m1f40e13eab" x="102.50" y="94.25" style="fill: #14146e"/>
     <use href="#m1f40e13eab" x="102.50" y="288.34" style="fill: #14146e"/>
     <use href="#m1f40e13eab" x="102.60" y="97.05" style="fill: #14146e"/>
     <use href="#m1f40e13eab" x="102.60" y="285.54" style="fill: #14146e"/>
     <use href="#m1f40e13eab" x="105.19" y="99.10" style="fill: #14146e"/>
     <use href="#m1f40e13eab" x="105.19" y="283.49" style="fill: #14146e"/>
     <use href="#m1f40e13eab" x="107.78" y="101.15" style="fill: #14146e"/>
     <use href="#m1f40e13eab" x="107.78" y="281.44" style="fill: #14146e"/>
     <use href="#m1f40e13eab" x="110.37" y="103.20" style="fill: #14146e"/>
     <use href="#m1f40e13eab" x="110.37" y="279.39" style="fill: #14146e"/>
     <use href="#m1f40e13eab" x="112.95" y="105.25" style="fill: #14146e"/>
     <use href="#m1f40e13eab" x="112.95" y="277.34" style="fill: #14146e"/>
     <use href="#m1f40e13eab" x="115.54" y="107.30" style="fill: #14146e"/>
     <use href="#m1f40e13eab" x="115.54" y="275.29" style="fill: #14146e"/>
     <use href="#m1f40e13eab" x="118.13" y="109.35" style="fill: #14146e"/>
     <use href="#m1f40e13eab" x="118.13" y="273.24" style="fill: #14146e"/>
     <use href="#m1f40e13eab" x="120.72" y="111.40" style="fill: #14146e"/>
     <use href="#m1f40e13eab" x="120.72" y="271.19" style="fill: #14146e"/>
     <use href="#m1f40e13eab" x="123.31" y="113.45" style="fill: #14146e"/>
     <use href="#m1f40e13eab" x="123.31" y="269.14" style="fill: #14146e"/>
    </g>
   </g>
   <g id="line2d_49">
    <defs>
     <path id="m26d5e28a63" d="M -4 4 
L 4 -4 
M -4 -4 
L 4 4 
" style="stroke: #000000; stroke-width: 1.8"/>
    </defs>
    <g clip-path="url(#p1f6addf977)">
     <use href="#m26d5e28a63" x="50.60" y="75.05" style="stroke: #000000; stroke-width: 1.8"/>
     <use href="#m26d5e28a63" x="50.60" y="77.25" style="stroke: #000000; stroke-width: 1.8"/>
     <use href="#m26d5e28a63" x="50.60" y="79.45" style="stroke: #000000; stroke-width: 1.8"/>
     <use href="#m26d5e28a63" x="50.60" y="81.65" style="stroke: #000000; stroke-width: 1.8"/>
     <use href="#m26d5e28a63" x="50.60" y="83.85" style="stroke: #000000; stroke-width: 1.8"/>
     <use href="#m26d5e28a63" x="50.60" y="86.05" style="stroke: #000000; stroke-width: 1.8"/>
     <use href="#m26d5e28a63" x="50.60" y="88.25" style="stroke: #000000; stroke-width: 1.8"/>
     <use href="#m26d5e28a63" x="50.60" y="90.45" style="stroke: #000000; stroke-width: 1.8"/>
     <use href="#m26d5e28a63" x="50.60" y="92.65" style="stroke: #000000; stroke-width: 1.8"/>
     <use href="#m26d5e28a63" x="50.60" y="94.85" style="stroke: #000000; stroke-width: 1.8"/>
     <use href="#m26d5e28a63" x="50.60" y="97.05" style="stroke: #000000; stroke-width: 1.8"/>
     <use href="#m26d5e28a63" x="50.60" y="99.25" style="stroke: #000000; stroke-width: 1.8"/>
     <use href="#m26d5e28a63" x="50.60" y="101.45" style="stroke: #000000; stroke-width: 1.8"/>
     <use href="#m26d5e28a63" x="50.60" y="103.65" style="stroke: #000000; stroke-width: 1.8"/>
     <use href="#m26d5e28a63" x="50.60" y="105.85" style="stroke: #000000; stroke-width: 1.8"/>
     <use href="#m26d5e28a63" x="50.60" y="108.05" style="stroke: #000000; stroke-width: 1.8"/>
     <use href="#m26d5e28a63" x="50.60" y="110.25" style="stroke: #000000; stroke-width: 1.8"/>
     <use href="#m26d5e28a63" x="50.60" y="112.45" style="stroke: #000000; stroke-width: 1.8"/>
     <use href="#m26d5e28a63" x="50.60" y="114.65" style="stroke: #000000; stroke-width: 1.8"/>
     <use href="#m26d5e28a63" x="50.60" y="116.85" style="stroke: #000000; stroke-width: 1.8"/>
     <use href="#m26d5e28a63" x="50.60" y="119.05" style="stroke: #000000; stroke-width: 1.8"/>
     <use href="#m26d5e28a63" x="50.60" y="121.25" style="stroke: #000000; stroke-width: 1.8"/>
     <use href="#m26d5e28a63" x="50.60" y="123.45" style="stroke: #000000; stroke-width: 1.8"/>
     <use href="#m26d5e28a63" x="50.60" y="125.65" style="stroke: #000000; stroke-width: 1.8"/>
     <use href="#m26d5e28a63" x="50.60" y="127.85" style="stroke: #000000; stroke-width: 1.8"/>
     <use href="#m26d5e28a63" x="50.60" y="130.05" style="stroke: #000000; stroke-width: 1.8"/>
     <use href="#m26d5e28a63" x="50.60" y="132.25" style="stroke: #000000; stroke-width: 1.8"/>
     <use href="#m26d5e28a63" x="50.60" y="134.45" style="stroke: #000000; stroke-width: 1.8"/>
     <use href="#m26d5e28a63" x="50.60" y="136.65" style="stroke: #000000; stroke-width: 1.8"/>
     <use href="#m26d5e28a63" x="50.60" y="138.85" style="stroke: #000000; stroke-width: 1.8"/>
     <use href="#m26d5e28a63" x="50.60" y="242.04" style="stroke: #000000; stroke-width: 1.8"/>
     <use href="#m26d5e28a63" x="50.60" y="244.24" style="stroke: #000000; stroke-width: 1.8"/>
     <use href="#m26d5e28a63" x="50.60" y="246.44" style="stroke: #000000; stroke-width: 1.8"/>
     <use href="#m26d5e28a63" x="50.60" y="248.64" style="stroke: #000000; stroke-width: 1.8"/>
     <use href="#m26d5e28a63" x="50.60" y="250.84" style="stroke: #000000; stroke-width: 1.8"/>
     <use href="#m26d5e28a63" x="50.60" y="253.04" style="stroke: #000000; stroke-width: 1.8"/>
     <use href="#m26d5e28a63" x="50.60" y="255.24" style="stroke: #000000; stroke-width: 1.8"/>
     <use href="#m26d5e28a63" x="50.60" y="257.44" style="stroke: #000000; stroke-width: 1.8"/>
     <use href="#m26d5e28a63" x="50.60" y="259.64" style="stroke: #000000; stroke-width: 1.8"/>
     <use href="#m26d5e28a63" x="50.60" y="261.84" style="stroke: #000000; stroke-width: 1.8"/>
     <use href="#m26d5e28a63" x="50.60" y="264.04" style="stroke: #000000; stroke-width: 1.8"/>
     <use href="#m26d5e28a63" x="50.60" y="266.24" style="stroke: #000000; stroke-width: 1.8"/>
     <use href="#m26d5e28a63" x="50.60" y="268.44" style="stroke: #000000; stroke-width: 1.8"/>
     <use href="#m26d5e28a63" x="50.60" y="270.64" style="stroke: #000000; stroke-width: 1.8"/>
     <use href="#m26d5e28a63" x="50.60" y="272.84" style="stroke: #000000; stroke-width: 1.8"/>
     <use href="#m26d5e28a63" x="50.60" y="275.04" style="stroke: #000000; stroke-width: 1.8"/>
     <use href="#m26d5e28a63" x="50.60" y="277.24" style="stroke: #000000; stroke-width: 1.8"/>
     <use href="#m26d5e28a63" x="50.60" y="279.44" style="stroke: #000000; stroke-width: 1.8"/>
     <use href="#m26d5e28a63" x="50.60" y="281.64" style="stroke: #000000; stroke-width: 1.8"/>
     <use href="#m26d5e28a63" x="50.60" y="283.84" style="stroke: #000000; stroke-width: 1.8"/>
     <use href="#m26d5e28a63" x="50.60" y="286.04" style="stroke: #000000; stroke-width: 1.8"/>
     <use href="#m26d5e28a63" x="50.60" y="288.24" style="stroke: #000000; stroke-width: 1.8"/>
     <use href="#m26d5e28a63" x="50.60" y="290.44" style="stroke: #000000; stroke-width: 1.8"/>
     <use href="#m26d5e28a63" x="50.60" y="292.64" style="stroke: #000000; stroke-width: 1.8"/>
     <use href="#m26d5e28a63" x="50.60" y="294.84" style="stroke: #000000; stroke-width: 1.8"/>
     <use href="#m26d5e28a63" x="50.60" y="297.04" style="stroke: #000000; stroke-width: 1.8"/>
     <use href="#m26d5e28a63" x="50.60" y="299.24" style="stroke: #000000; stroke-width: 1.8"/>
     <use href="#m26d5e28a63" x="50.60" y="301.44" style="stroke: #000000; stroke-width: 1.8"/>
     <use href="#m26d5e28a63" x="50.60" y="303.64" style="stroke: #000000; stroke-width: 1.8"/>
     <use href="#m26d5e28a63" x="50.60" y="305.84" style="stroke: #000000; stroke-width: 1.8"/>
    </g>
   </g>
   <g id="line2d_50">
    <g clip-path="url(#p1f6addf977)">
     <use href="#m26d5e28a63" x="51.80" y="75.05" style="stroke: #000000; stroke-width: 1.8"/>
     <use href="#m26d5e28a63" x="51.80" y="77.25" style="stroke: #000000; stroke-width: 1.8"/>
     <use href="#m26d5e28a63" x="51.80" y="79.45" style="stroke: #000000; stroke-width: 1.8"/>
     <use href="#m26d5e28a63" x="51.80" y="81.65" style="stroke: #000000; stroke-width: 1.8"/>
     <use href="#m26d5e28a63" x="51.80" y="83.85" style="stroke: #000000; stroke-width: 1.8"/>
     <use href="#m26d5e28a63" x="51.80" y="86.05" style="stroke: #000000; stroke-width: 1.8"/>
     <use href="#m26d5e28a63" x="51.80" y="88.25" style="stroke: #000000; stroke-width: 1.8"/>
     <use href="#m26d5e28a63" x="51.80" y="90.45" style="stroke: #000000; stroke-width: 1.8"/>
     <use href="#m26d5e28a63" x="51.80" y="92.65" style="stroke: #000000; stroke-width: 1.8"/>
     <use href="#m26d5e28a63" x="51.80" y="94.85" style="stroke: #000000; stroke-width: 1.8"/>
     <use href="#m26d5e28a63" x="51.80" y="97.05" style="stroke: #000000; stroke-width: 1.8"/>
     <use href="#m26d5e28a63" x="51.80" y="99.25" style="stroke: #000000; stroke-width: 1.8"/>
     <use href="#m26d5e28a63" x="51.80" y="101.45" style="stroke: #000000; stroke-width: 1.8"/>
     <use href="#m26d5e28a63" x="51.80" y="103.65" style="stroke: #000000; stroke-width: 1.8"/>
     <use href="#m26d5e28a63" x="51.80" y="105.85" style="stroke: #000000; stroke-width: 1.8"/>
     <use href="#m26d5e28a63" x="51.80" y="108.05" style="stroke: #000000; stroke-width: 1.8"/>
     <use href="#m26d5e28a63" x="51.80" y="110.25" style="stroke: #000000; stroke-width: 1.8"/>
     <use href="#m26d5e28a63" x="51.80" y="112.45" style="stroke: #000000; stroke-width: 1.8"/>
     <use href="#m26d5e28a63" x="51.80" y="114.65" style="stroke: #000000; stroke-width: 1.8"/>
     <use href="#m26d5e28a63" x="51.80" y="116.85" style="stroke: #000000; stroke-width: 1.8"/>
     <use href="#m26d5e28a63" x="51.80" y="119.05" style="stroke: #000000; stroke-width: 1.8"/>
     <use href="#m26d5e28a63" x="51.80" y="121.25" style="stroke: #000000; stroke-width: 1.8"/>
     <use href="#m26d5e28a63" x="51.80" y="123.45" style="stroke: #000000; stroke-width: 1.8"/>
     <use href="#m26d5e28a63" x="51.80" y="125.65" style="stroke: #000000; stroke-width: 1.8"/>
     <use href="#m26d5e28a63" x="51.80" y="127.85" style="stroke: #000000; stroke-width: 1.8"/>
     <use href="#m26d5e28a63" x="51.80" y="130.05" style="stroke: #000000; stroke-width: 1.8"/>
     <use href="#m26d5e28a63" x="51.80" y="132.25" style="stroke: #000000; stroke-width: 1.8"/>
     <use href="#m26d5e28a63" x="51.80" y="134.45" style="stroke: #000000; stroke-width: 1.8"/>
     <use href="#m26d5e28a63" x="51.80" y="136.65" style="stroke: #000000; stroke-width: 1.8"/>
     <use href="#m26d5e28a63" x="51.80" y="138.85" style="stroke: #000000; stroke-width: 1.8"/>
     <use href="#m26d5e28a63" x="51.80" y="242.04" style="stroke: #000000; stroke-width: 1.8"/>
     <use href="#m26d5e28a63" x="51.80" y="244.24" style="stroke: #000000; stroke-width: 1.8"/>
     <use href="#m26d5e28a63" x="51.80" y="246.44" style="stroke: #000000; stroke-width: 1.8"/>
     <use href="#m26d5e28a63" x="51.80" y="248.64" style="stroke: #000000; stroke-width: 1.8"/>
     <use href="#m26d5e28a63" x="51.80" y="250.84" style="stroke: #000000; stroke-width: 1.8"/>
     <use href="#m26d5e28a63" x="51.80" y="253.04" style="stroke: #000000; stroke-width: 1.8"/>
     <use href="#m26d5e28a63" x="51.80" y="255.24" style="stroke: #000000; stroke-width: 1.8"/>
     <use href="#m26d5e28a63" x="51.80" y="257.44" style="stroke: #000000; stroke-width: 1.8"/>
     <use href="#m26d5e28a63" x="51.80" y="259.64" style="stroke: #000000; stroke-width: 1.8"/>
     <use href="#m26d5e28a63" x="51.80" y="261.84" style="stroke: #000000; stroke-width: 1.8"/>
     <use href="#m26d5e28a63" x="51.80" y="264.04" style="stroke: #000000; stroke-width: 1.8"/>
     <use href="#m26d5e28a63" x="51.80" y="266.24" style="stroke: #000000; stroke-width: 1.8"/>
     <use href="#m26d5e28a63" x="51.80" y="268.44" style="stroke: #000000; stroke-width: 1.8"/>
     <use href="#m26d5e28a63" x="51.80" y="270.64" style="stroke: #000000; stroke-width: 1.8"/>
     <use href="#m26d5e28a63" x="51.80" y="272.84" style="stroke: #000000; stroke-width: 1.8"/>
     <use href="#m26d5e28a63" x="51.80" y="275.04" style="stroke: #000000; stroke-width: 1.8"/>
     <use href="#m26d5e28a63" x="51.80" y="277.24" style="stroke: #000000; stroke-width: 1.8"/>
     <use href="#m26d5e28a63" x="51.80" y="279.44" style="stroke: #000000; stroke-width: 1.8"/>
     <use href="#m26d5e28a63" x="51.80" y="281.64" style="stroke: #000000; stroke-width: 1.8"/>
     <use href="#m26d5e28a63" x="51.80" y="283.84" style="stroke: #000000; stroke-width: 1.8"/>
     <use href="#m26d5e28a63" x="51.80" y="286.04" style="stroke: #000000; stroke-width: 1.8"/>
     <use href="#m26d5e28a63" x="51.80" y="288.24" style="stroke: #000000; stroke-width: 1.8"/>
     <use href="#m26d5e28a63" x="51.80" y="290.44" style="stroke: #000000; stroke-width: 1.8"/>
     <use href="#m26d5e28a63" x="51.80" y="292.64" style="stroke: #000000; stroke-width: 1.8"/>
     <use href="#m26d5e28a63" x="51.80" y="294.84" style="stroke: #000000; stroke-width: 1.8"/>
     <use href="#m26d5e28a63" x="51.80" y="297.04" style="stroke: #000000; stroke-width: 1.8"/>
     <use href="#m26d5e28a63" x="51.80" y="299.24" style="stroke: #000000; stroke-width: 1.8"/>
     <use href="#m26d5e28a63" x="51.80" y="301.44" style="stroke: #000000; stroke-width: 1.8"/>
     <use href="#m26d5e28a63" x="51.80" y="303.64" style="stroke: #000000; stroke-width: 1.8"/>
     <use href="#m26d5e28a63" x="51.80" y="305.84" style="stroke: #000000; stroke-width: 1.8"/>
    </g>
   </g>
   <g id="line2d_51">
    <defs>
     <path id="m0c927fcc43" d="M -3.7 3.7 
L 3.7 -3.7 
M -3.7 -3.7 
L 3.7 3.7 
" style="stroke: #000000; stroke-width: 1.8"/>
    </defs>
    <g clip-path="url(#p1f6addf977)">
     <use href="#m0c927fcc43" x="49.00" y="139.05" style="stroke: #000000; stroke-width: 1.8"/>
     <use href="#m0c927fcc43" x="49.00" y="141.25" style="stroke: #000000; stroke-width: 1.8"/>
     <use href="#m0c927fcc43" x="49.00" y="143.45" style="stroke: #000000; stroke-width: 1.8"/>
     <use href="#m0c927fcc43" x="49.00" y="145.65" style="stroke: #000000; stroke-width: 1.8"/>
     <use href="#m0c927fcc43" x="49.00" y="147.85" style="stroke: #000000; stroke-width: 1.8"/>
     <use href="#m0c927fcc43" x="49.00" y="150.05" style="stroke: #000000; stroke-width: 1.8"/>
     <use href="#m0c927fcc43" x="49.00" y="152.25" style="stroke: #000000; stroke-width: 1.8"/>
     <use href="#m0c927fcc43" x="49.00" y="154.45" style="stroke: #000000; stroke-width: 1.8"/>
     <use href="#m0c927fcc43" x="49.00" y="156.65" style="stroke: #000000; stroke-width: 1.8"/>
     <use href="#m0c927fcc43" x="49.00" y="158.85" style="stroke: #000000; stroke-width: 1.8"/>
     <use href="#m0c927fcc43" x="49.00" y="161.05" style="stroke: #000000; stroke-width: 1.8"/>
     <use href="#m0c927fcc43" x="49.00" y="163.25" style="stroke: #000000; stroke-width: 1.8"/>
     <use href="#m0c927fcc43" x="49.00" y="165.45" style="stroke: #000000; stroke-width: 1.8"/>
     <use href="#m0c927fcc43" x="49.00" y="167.65" style="stroke: #000000; stroke-width: 1.8"/>
     <use href="#m0c927fcc43" x="49.00" y="169.85" style="stroke: #000000; stroke-width: 1.8"/>
     <use href="#m0c927fcc43" x="49.00" y="172.05" style="stroke: #000000; stroke-width: 1.8"/>
     <use href="#m0c927fcc43" x="49.00" y="174.25" style="stroke: #000000; stroke-width: 1.8"/>
     <use href="#m0c927fcc43" x="49.00" y="176.45" style="stroke: #000000; stroke-width: 1.8"/>
     <use href="#m0c927fcc43" x="49.00" y="178.65" style="stroke: #000000; stroke-width: 1.8"/>
     <use href="#m0c927fcc43" x="49.00" y="180.85" style="stroke: #000000; stroke-width: 1.8"/>
     <use href="#m0c927fcc43" x="49.00" y="183.05" style="stroke: #000000; stroke-width: 1.8"/>
     <use href="#m0c927fcc43" x="49.00" y="185.25" style="stroke: #000000; stroke-width: 1.8"/>
     <use href="#m0c927fcc43" x="49.00" y="187.45" style="stroke: #000000; stroke-width: 1.8"/>
     <use href="#m0c927fcc43" x="49.00" y="189.65" style="stroke: #000000; stroke-width: 1.8"/>
     <use href="#m0c927fcc43" x="49.00" y="191.84" style="stroke: #000000; stroke-width: 1.8"/>
     <use href="#m0c927fcc43" x="49.00" y="194.04" style="stroke: #000000; stroke-width: 1.8"/>
     <use href="#m0c927fcc43" x="49.00" y="196.24" style="stroke: #000000; stroke-width: 1.8"/>
     <use href="#m0c927fcc43" x="49.00" y="198.44" style="stroke: #000000; stroke-width: 1.8"/>
     <use href="#m0c927fcc43" x="49.00" y="200.64" style="stroke: #000000; stroke-width: 1.8"/>
     <use href="#m0c927fcc43" x="49.00" y="202.84" style="stroke: #000000; stroke-width: 1.8"/>
     <use href="#m0c927fcc43" x="49.00" y="205.04" style="stroke: #000000; stroke-width: 1.8"/>
     <use href="#m0c927fcc43" x="49.00" y="207.24" style="stroke: #000000; stroke-width: 1.8"/>
     <use href="#m0c927fcc43" x="49.00" y="209.44" style="stroke: #000000; stroke-width: 1.8"/>
     <use href="#m0c927fcc43" x="49.00" y="211.64" style="stroke: #000000; stroke-width: 1.8"/>
     <use href="#m0c927fcc43" x="49.00" y="213.84" style="stroke: #000000; stroke-width: 1.8"/>
     <use href="#m0c927fcc43" x="49.00" y="216.04" style="stroke: #000000; stroke-width: 1.8"/>
     <use href="#m0c927fcc43" x="49.00" y="218.24" style="stroke: #000000; stroke-width: 1.8"/>
     <use href="#m0c927fcc43" x="49.00" y="220.44" style="stroke: #000000; stroke-width: 1.8"/>
     <use href="#m0c927fcc43" x="49.00" y="222.64" style="stroke: #000000; stroke-width: 1.8"/>
     <use href="#m0c927fcc43" x="49.00" y="224.84" style="stroke: #000000; stroke-width: 1.8"/>
     <use href="#m0c927fcc43" x="49.00" y="227.04" style="stroke: #000000; stroke-width: 1.8"/>
     <use href="#m0c927fcc43" x="49.00" y="229.24" style="stroke: #000000; stroke-width: 1.8"/>
     <use href="#m0c927fcc43" x="49.00" y="231.44" style="stroke: #000000; stroke-width: 1.8"/>
     <use href="#m0c927fcc43" x="49.00" y="233.64" style="stroke: #000000; stroke-width: 1.8"/>
     <use href="#m0c927fcc43" x="49.00" y="235.84" style="stroke: #000000; stroke-width: 1.8"/>
     <use href="#m0c927fcc43" x="49.00" y="238.04" style="stroke: #000000; stroke-width: 1.8"/>
     <use href="#m0c927fcc43" x="49.00" y="240.24" style="stroke: #000000; stroke-width: 1.8"/>
     <use href="#m0c927fcc43" x="49.00" y="242.44" style="stroke: #000000; stroke-width: 1.8"/>
    </g>
   </g>
   <g id="line2d_52">
    <defs>
     <path id="mf4d9ddb1f2" d="M -3.1 3.1 
L 3.1 -3.1 
M -3.1 -3.1 
L 3.1 3.1 
" style="stroke: #000000; stroke-width: 2"/>
    </defs>
    <g clip-path="url(#p1f6addf977)">
     <use href="#mf4d9ddb1f2" x="63.90" y="72.25" style="stroke: #000000; stroke-width: 2"/>
     <use href="#mf4d9ddb1f2" x="63.90" y="310.34" style="stroke: #000000; stroke-width: 2"/>
    </g>
   </g>
   <g id="line2d_53">
    <g clip-path="url(#p1f6addf977)">
     <use href="#mf4d9ddb1f2" x="76.80" y="59.65" style="stroke: #000000; stroke-width: 2"/>
     <use href="#mf4d9ddb1f2" x="76.80" y="322.94" style="stroke: #000000; stroke-width: 2"/>
    </g>
   </g>
   <g id="line2d_54">
    <g clip-path="url(#p1f6addf977)">
     <use href="#mf4d9ddb1f2" x="104.40" y="78.35" style="stroke: #000000; stroke-width: 2"/>
     <use href="#mf4d9ddb1f2" x="104.40" y="304.24" style="stroke: #000000; stroke-width: 2"/>
    </g>
   </g>
   <g id="line2d_55">
    <g clip-path="url(#p1f6addf977)">
     <use href="#mf4d9ddb1f2" x="147.81" y="107.95" style="stroke: #000000; stroke-width: 2"/>
     <use href="#mf4d9ddb1f2" x="147.81" y="274.64" style="stroke: #000000; stroke-width: 2"/>
    </g>
   </g>
   <g id="line2d_56">
    <g clip-path="url(#p1f6addf977)">
     <use href="#mf4d9ddb1f2" x="134.41" y="119.85" style="stroke: #000000; stroke-width: 2"/>
     <use href="#mf4d9ddb1f2" x="134.41" y="262.74" style="stroke: #000000; stroke-width: 2"/>
    </g>
   </g>
   <g id="line2d_57">
    <g clip-path="url(#p1f6addf977)">
     <use href="#mf4d9ddb1f2" x="159.31" y="165.05" style="stroke: #000000; stroke-width: 2"/>
     <use href="#mf4d9ddb1f2" x="159.31" y="217.54" style="stroke: #000000; stroke-width: 2"/>
    </g>
   </g>
   <g id="line2d_58">
    <defs>
     <path id="m1340430e5f" d="M 0 1.45 
C 0.38 1.45 0.75 1.29 1.02 1.02 
C 1.29 0.75 1.45 0.38 1.45 0 
C 1.45 -0.38 1.29 -0.75 1.02 -1.02 
C 0.75 -1.29 0.38 -1.45 0 -1.45 
C -0.38 -1.45 -0.75 -1.29 -1.02 -1.02 
C -1.29 -0.75 -1.45 -0.38 -1.45 0 
C -1.45 0.38 -1.29 0.75 -1.02 1.02 
C -0.75 1.29 -0.38 1.45 0 1.45 
z
"/>
    </defs>
    <g clip-path="url(#p1f6addf977)">
     <use href="#m1340430e5f" x="51.40" y="141.55" style="fill: #1c1c80"/>
     <use href="#m1340430e5f" x="51.40" y="145.27" style="fill: #1c1c80"/>
     <use href="#m1340430e5f" x="51.40" y="148.99" style="fill: #1c1c80"/>
     <use href="#m1340430e5f" x="51.40" y="152.71" style="fill: #1c1c80"/>
     <use href="#m1340430e5f" x="51.40" y="156.43" style="fill: #1c1c80"/>
     <use href="#m1340430e5f" x="51.40" y="160.15" style="fill: #1c1c80"/>
     <use href="#m1340430e5f" x="51.40" y="163.87" style="fill: #1c1c80"/>
     <use href="#m1340430e5f" x="51.40" y="167.59" style="fill: #1c1c80"/>
     <use href="#m1340430e5f" x="51.40" y="171.31" style="fill: #1c1c80"/>
     <use href="#m1340430e5f" x="51.40" y="175.03" style="fill: #1c1c80"/>
     <use href="#m1340430e5f" x="51.40" y="178.75" style="fill: #1c1c80"/>
     <use href="#m1340430e5f" x="51.40" y="182.47" style="fill: #1c1c80"/>
     <use href="#m1340430e5f" x="51.40" y="186.19" style="fill: #1c1c80"/>
     <use href="#m1340430e5f" x="51.40" y="189.91" style="fill: #1c1c80"/>
     <use href="#m1340430e5f" x="51.40" y="193.62" style="fill: #1c1c80"/>
     <use href="#m1340430e5f" x="51.40" y="197.34" style="fill: #1c1c80"/>
     <use href="#m1340430e5f" x="51.40" y="201.06" style="fill: #1c1c80"/>
     <use href="#m1340430e5f" x="51.40" y="204.78" style="fill: #1c1c80"/>
     <use href="#m1340430e5f" x="51.40" y="208.50" style="fill: #1c1c80"/>
     <use href="#m1340430e5f" x="51.40" y="212.22" style="fill: #1c1c80"/>
     <use href="#m1340430e5f" x="51.40" y="215.94" style="fill: #1c1c80"/>
     <use href="#m1340430e5f" x="51.40" y="219.66" style="fill: #1c1c80"/>
     <use href="#m1340430e5f" x="51.40" y="223.38" style="fill: #1c1c80"/>
     <use href="#m1340430e5f" x="51.40" y="227.10" style="fill: #1c1c80"/>
     <use href="#m1340430e5f" x="51.40" y="230.82" style="fill: #1c1c80"/>
     <use href="#m1340430e5f" x="51.40" y="234.54" style="fill: #1c1c80"/>
     <use href="#m1340430e5f" x="51.40" y="238.26" style="fill: #1c1c80"/>
     <use href="#m1340430e5f" x="51.40" y="241.98" style="fill: #1c1c80"/>
    </g>
   </g>
  </g>
  <g id="axes_2">
   <g id="patch_7">
    <path d="M 235.3 364.2 
L 355.7 364.2 
L 355.7 17.3 
L 235.3 17.3 
z
" style="fill: #ffffff"/>
   </g>
   <g id="matplotlib.axis_3">
    <g id="xtick_5">
     <g id="line2d_59">
      <path d="M 277.68 364.2 
L 277.68 17.3 
" clip-path="url(#p89d958ffb8)" style="fill: none; stroke: #b0b0b0; stroke-width: 1.05; stroke-linecap: square"/>
     </g>
     <g id="line2d_60">
      <g>
       <use href="#m3c889467d5" x="277.68" y="364.2" style="stroke: #000000; stroke-width: 1.1"/>
      </g>
     </g>
     <g id="text_12">
      <!-- $\mathdefault{10^{0}}$ -->
      <g transform="translate(267.42 382.93)">
       <text>
        <tspan x="0" y="-0.17" style="font-size: 11.66px; font-family: 'DejaVu Sans', sans-serif">1</tspan>
        <tspan x="7.39" y="-0.17" style="font-size: 11.66px; font-family: 'DejaVu Sans', sans-serif">0</tspan>
        <tspan x="14.90" y="-4.6" style="font-size: 7.3px; font-family: 'DejaVu Sans', sans-serif">0</tspan>
       </text>
      </g>
     </g>
    </g>
    <g id="xtick_6">
     <g id="line2d_61">
      <path d="M 350.08 364.2 
L 350.08 17.3 
" clip-path="url(#p89d958ffb8)" style="fill: none; stroke: #b0b0b0; stroke-width: 1.05; stroke-linecap: square"/>
     </g>
     <g id="line2d_62">
      <g>
       <use href="#m3c889467d5" x="350.08" y="364.2" style="stroke: #000000; stroke-width: 1.1"/>
      </g>
     </g>
     <g id="text_13">
      <!-- $\mathdefault{10^{2}}$ -->
      <g transform="translate(339.82 382.93)">
       <text>
        <tspan x="0" y="-0.17" style="font-size: 11.66px; font-family: 'DejaVu Sans', sans-serif">1</tspan>
        <tspan x="7.39" y="-0.17" style="font-size: 11.66px; font-family: 'DejaVu Sans', sans-serif">0</tspan>
        <tspan x="14.90" y="-4.6" style="font-size: 7.3px; font-family: 'DejaVu Sans', sans-serif">2</tspan>
       </text>
      </g>
     </g>
    </g>
    <g id="text_14">
     <!-- $\omega_d^{\rm max}$ [kHz] -->
     <g transform="translate(264.05 401.24)">
      <text>
       <tspan x="0" y="-0.61" style="font-style: oblique; font-size: 11.66px; font-family: 'DejaVu Sans', sans-serif">ω</tspan>
       <tspan x="10.27" y="-5.29" style="font-size: 8.16px; font-family: 'DejaVu Sans', sans-serif">m</tspan>
       <tspan x="18.19" y="-5.29" style="font-size: 8.16px; font-family: 'DejaVu Sans', sans-serif">a</tspan>
       <tspan x="23.18" y="-5.29" style="font-size: 8.16px; font-family: 'DejaVu Sans', sans-serif">x</tspan>
       <tspan x="9.73" y="2.66" style="font-style: oblique; font-size: 8.16px; font-family: 'DejaVu Sans', sans-serif">d</tspan>
       <tspan x="28.32" y="-0.61" style="font-size: 11.66px; font-family: 'DejaVu Sans', sans-serif"> </tspan>
       <tspan x="32.02" y="-0.61" style="font-size: 11.66px; font-family: 'DejaVu Sans', sans-serif">[</tspan>
       <tspan x="36.55" y="-0.61" style="font-size: 11.66px; font-family: 'DejaVu Sans', sans-serif">k</tspan>
       <tspan x="43.29" y="-0.61" style="font-size: 11.66px; font-family: 'DejaVu Sans', sans-serif">H</tspan>
       <tspan x="52.03" y="-0.61" style="font-size: 11.66px; font-family: 'DejaVu Sans', sans-serif">z</tspan>
       <tspan x="58.13" y="-0.61" style="font-size: 11.66px; font-family: 'DejaVu Sans', sans-serif">]</tspan>
      </text>
     </g>
    </g>
   </g>
   <g id="matplotlib.axis_4">
    <g id="ytick_6">
     <g id="line2d_63">
      <path d="M 235.3 355.01 
L 355.7 355.01 
" clip-path="url(#p89d958ffb8)" style="fill: none; stroke: #b0b0b0; stroke-width: 1.05; stroke-linecap: square"/>
     </g>
     <g id="line2d_64">
      <g>
       <use href="#m62b1b5c91f" x="235.3" y="355.01" style="stroke: #000000; stroke-width: 1.1"/>
      </g>
     </g>
     <g id="text_15">
      <text style="font-size: 11.66px; font-family: 'DejaVu Sans', sans-serif; text-anchor: end" x="227.13" y="359.44" transform="rotate(-0 227.13 359.44)">0</text>
     </g>
    </g>
    <g id="ytick_7">
     <g id="line2d_65">
      <path d="M 235.3 292.93 
L 355.7 292.93 
" clip-path="url(#p89d958ffb8)" style="fill: none; stroke: #b0b0b0; stroke-width: 1.05; stroke-linecap: square"/>
     </g>
     <g id="line2d_66">
      <g>
       <use href="#m62b1b5c91f" x="235.3" y="292.93" style="stroke: #000000; stroke-width: 1.1"/>
      </g>
     </g>
     <g id="text_16">
      <text style="font-size: 11.66px; font-family: 'DejaVu Sans', sans-serif; text-anchor: end" x="227.13" y="297.36" transform="rotate(-0 227.13 297.36)">50</text>
     </g>
    </g>
    <g id="ytick_8">
     <g id="line2d_67">
      <path d="M 235.3 230.85 
L 355.7 230.85 
" clip-path="url(#p89d958ffb8)" style="fill: none; stroke: #b0b0b0; stroke-width: 1.05; stroke-linecap: square"/>
     </g>
     <g id="line2d_68">
      <g>
       <use href="#m62b1b5c91f" x="235.3" y="230.85" style="stroke: #000000; stroke-width: 1.1"/>
      </g>
     </g>
     <g id="text_17">
      <text style="font-size: 11.66px; font-family: 'DejaVu Sans', sans-serif; text-anchor: end" x="227.13" y="235.28" transform="rotate(-0 227.13 235.28)">100</text>
     </g>
    </g>
    <g id="ytick_9">
     <g id="line2d_69">
      <path d="M 235.3 168.77 
L 355.7 168.77 
" clip-path="url(#p89d958ffb8)" style="fill: none; stroke: #b0b0b0; stroke-width: 1.05; stroke-linecap: square"/>
     </g>
     <g id="line2d_70">
      <g>
       <use href="#m62b1b5c91f" x="235.3" y="168.77" style="stroke: #000000; stroke-width: 1.1"/>
      </g>
     </g>
     <g id="text_18">
      <text style="font-size: 11.66px; font-family: 'DejaVu Sans', sans-serif; text-anchor: end" x="227.13" y="173.20" transform="rotate(-0 227.13 173.20)">150</text>
     </g>
    </g>
    <g id="ytick_10">
     <g id="line2d_71">
      <path d="M 235.3 106.69 
L 355.7 106.69 
" clip-path="url(#p89d958ffb8)" style="fill: none; stroke: #b0b0b0; stroke-width: 1.05; stroke-linecap: square"/>
     </g>
     <g id="line2d_72">
      <g>
       <use href="#m62b1b5c91f" x="235.3" y="106.69" style="stroke: #000000; stroke-width: 1.1"/>
      </g>
     </g>
     <g id="text_19">
      <text style="font-size: 11.66px; font-family: 'DejaVu Sans', sans-serif; text-anchor: end" x="227.13" y="111.12" transform="rotate(-0 227.13 111.12)">200</text>
     </g>
    </g>
    <g id="ytick_11">
     <g id="line2d_73">
      <path d="M 235.3 44.61 
L 355.7 44.61 
" clip-path="url(#p89d958ffb8)" style="fill: none; stroke: #b0b0b0; stroke-width: 1.05; stroke-linecap: square"/>
     </g>
     <g id="line2d_74">
      <g>
       <use href="#m62b1b5c91f" x="235.3" y="44.61" style="stroke: #000000; stroke-width: 1.1"/>
      </g>
     </g>
     <g id="text_20">
      <text style="font-size: 11.66px; font-family: 'DejaVu Sans', sans-serif; text-anchor: end" x="227.13" y="49.04" transform="rotate(-0 227.13 49.04)">250</text>
     </g>
    </g>
   </g>
   <g id="patch_8">
    <path d="M 235.3 364.2 
L 235.3 17.3 
" style="fill: none; stroke: #000000; stroke-width: 1.2; stroke-linejoin: miter; stroke-linecap: square"/>
   </g>
   <g id="patch_9">
    <path d="M 355.7 364.2 
L 355.7 17.3 
" style="fill: none; stroke: #000000; stroke-width: 1.2; stroke-linejoin: miter; stroke-linecap: square"/>
   </g>
   <g id="patch_10">
    <path d="M 235.3 364.2 
L 355.7 364.2 
" style="fill: none; stroke: #000000; stroke-width: 1.2; stroke-linejoin: miter; stroke-linecap: square"/>
   </g>
   <g id="patch_11">
    <path d="M 235.3 17.3 
L 355.7 17.3 
" style="fill: none; stroke: #000000; stroke-width: 1.2; stroke-linejoin: miter; stroke-linecap: square"/>
   </g>
   <g id="line2d_75">
    <defs>
     <path id="mb3d5c77ec6" d="M -5.75 0 
L 5.75 0 
M 0 5.75 
L 0 -5.75 
" style="stroke: #000000; stroke-width: 1.5"/>
    </defs>
    <g clip-path="url(#p89d958ffb8)">
     <use href="#mb3d5c77ec6" x="349.18" y="32.44" style="stroke: #000000; stroke-width: 1.5"/>
     <use href="#mb3d5c77ec6" x="346.90" y="35.42" style="stroke: #000000; stroke-width: 1.5"/>
     <use href="#mb3d5c77ec6" x="342.99" y="47.34" style="stroke: #000000; stroke-width: 1.5"/>
     <use href="#mb3d5c77ec6" x="340.27" y="57.89" style="stroke: #000000; stroke-width: 1.5"/>
     <use href="#mb3d5c77ec6" x="337.99" y="60.01" style="stroke: #000000; stroke-width: 1.5"/>
     <use href="#mb3d5c77ec6" x="334.37" y="63.85" style="stroke: #000000; stroke-width: 1.5"/>
     <use href="#mb3d5c77ec6" x="331.37" y="70.44" style="stroke: #000000; stroke-width: 1.5"/>
     <use href="#mb3d5c77ec6" x="328.98" y="76.27" style="stroke: #000000; stroke-width: 1.5"/>
     <use href="#mb3d5c77ec6" x="326.08" y="82.23" style="stroke: #000000; stroke-width: 1.5"/>
     <use href="#mb3d5c77ec6" x="323.69" y="85.83" style="stroke: #000000; stroke-width: 1.5"/>
     <use href="#mb3d5c77ec6" x="319.57" y="93.53" style="stroke: #000000; stroke-width: 1.5"/>
     <use href="#mb3d5c77ec6" x="317.18" y="98.49" style="stroke: #000000; stroke-width: 1.5"/>
     <use href="#mb3d5c77ec6" x="315.69" y="102.47" style="stroke: #000000; stroke-width: 1.5"/>
     <use href="#mb3d5c77ec6" x="312.80" y="108.92" style="stroke: #000000; stroke-width: 1.5"/>
     <use href="#mb3d5c77ec6" x="309.18" y="114.26" style="stroke: #000000; stroke-width: 1.5"/>
     <use href="#mb3d5c77ec6" x="306.90" y="123.70" style="stroke: #000000; stroke-width: 1.5"/>
     <use href="#mb3d5c77ec6" x="303.89" y="128.17" style="stroke: #000000; stroke-width: 1.5"/>
     <use href="#mb3d5c77ec6" x="299.40" y="134.25" style="stroke: #000000; stroke-width: 1.5"/>
     <use href="#mb3d5c77ec6" x="297.96" y="136.36" style="stroke: #000000; stroke-width: 1.5"/>
     <use href="#mb3d5c77ec6" x="294.99" y="159.46" style="stroke: #000000; stroke-width: 1.5"/>
     <use href="#mb3d5c77ec6" x="291.08" y="185.78" style="stroke: #000000; stroke-width: 1.5"/>
     <use href="#mb3d5c77ec6" x="288.18" y="203.04" style="stroke: #000000; stroke-width: 1.5"/>
     <use href="#mb3d5c77ec6" x="284.56" y="214.21" style="stroke: #000000; stroke-width: 1.5"/>
     <use href="#mb3d5c77ec6" x="282.28" y="220.67" style="stroke: #000000; stroke-width: 1.5"/>
     <use href="#mb3d5c77ec6" x="278.70" y="228.99" style="stroke: #000000; stroke-width: 1.5"/>
     <use href="#mb3d5c77ec6" x="276.27" y="235.57" style="stroke: #000000; stroke-width: 1.5"/>
     <use href="#mb3d5c77ec6" x="274.28" y="241.65" style="stroke: #000000; stroke-width: 1.5"/>
     <use href="#mb3d5c77ec6" x="273.27" y="271.70" style="stroke: #000000; stroke-width: 1.5"/>
     <use href="#mb3d5c77ec6" x="271.17" y="280.51" style="stroke: #000000; stroke-width: 1.5"/>
     <use href="#mb3d5c77ec6" x="269.97" y="284.98" style="stroke: #000000; stroke-width: 1.5"/>
     <use href="#mb3d5c77ec6" x="268.27" y="289.95" style="stroke: #000000; stroke-width: 1.5"/>
     <use href="#mb3d5c77ec6" x="266.68" y="298.27" style="stroke: #000000; stroke-width: 1.5"/>
     <use href="#mb3d5c77ec6" x="265.01" y="304.72" style="stroke: #000000; stroke-width: 1.5"/>
     <use href="#mb3d5c77ec6" x="263.28" y="307.33" style="stroke: #000000; stroke-width: 1.5"/>
     <use href="#mb3d5c77ec6" x="238.23" y="342.74" style="stroke: #000000; stroke-width: 1.5"/>
     <use href="#mb3d5c77ec6" x="240.01" y="341.16" style="stroke: #000000; stroke-width: 1.5"/>
     <use href="#mb3d5c77ec6" x="241.79" y="339.57" style="stroke: #000000; stroke-width: 1.5"/>
     <use href="#mb3d5c77ec6" x="243.57" y="337.99" style="stroke: #000000; stroke-width: 1.5"/>
     <use href="#mb3d5c77ec6" x="245.36" y="336.40" style="stroke: #000000; stroke-width: 1.5"/>
     <use href="#mb3d5c77ec6" x="247.14" y="334.79" style="stroke: #000000; stroke-width: 1.5"/>
     <use href="#mb3d5c77ec6" x="248.92" y="332.99" style="stroke: #000000; stroke-width: 1.5"/>
     <use href="#mb3d5c77ec6" x="250.70" y="331.19" style="stroke: #000000; stroke-width: 1.5"/>
     <use href="#mb3d5c77ec6" x="252.48" y="329.38" style="stroke: #000000; stroke-width: 1.5"/>
     <use href="#mb3d5c77ec6" x="254.27" y="327.58" style="stroke: #000000; stroke-width: 1.5"/>
     <use href="#mb3d5c77ec6" x="256.05" y="324.47" style="stroke: #000000; stroke-width: 1.5"/>
     <use href="#mb3d5c77ec6" x="257.83" y="320.85" style="stroke: #000000; stroke-width: 1.5"/>
     <use href="#mb3d5c77ec6" x="259.61" y="317.31" style="stroke: #000000; stroke-width: 1.5"/>
     <use href="#mb3d5c77ec6" x="261.39" y="313.84" style="stroke: #000000; stroke-width: 1.5"/>
    </g>
   </g>
   <g id="text_21">
    <!-- $N_d$ -->
    <g transform="translate(288.38 12.5)">
     <text>
      <tspan x="0" y="-0.25" style="font-style: oblique; font-size: 11.66px; font-family: 'DejaVu Sans', sans-serif">N</tspan>
      <tspan x="8.69" y="1.71" style="font-style: oblique; font-size: 8.16px; font-family: 'DejaVu Sans', sans-serif">d</tspan>
     </text>
    </g>
   </g>
   <g id="line2d_76">
    <defs>
     <path id="mb8a5e02177" d="M -3.25 3.25 
L 3.25 -3.25 
M -3.25 -3.25 
L 3.25 3.25 
" style="stroke: #ff8c00; stroke-width: 2.3"/>
    </defs>
    <g clip-path="url(#p89d958ffb8)">
     <use href="#mb8a5e02177" x="237.14" y="346.53" style="fill: #ff8c00; stroke: #ff8c00; stroke-width: 2.3"/>
     <use href="#mb8a5e02177" x="237.89" y="347.41" style="fill: #ff8c00; stroke: #ff8c00; stroke-width: 2.3"/>
     <use href="#mb8a5e02177" x="238.64" y="348.25" style="fill: #ff8c00; stroke: #ff8c00; stroke-width: 2.3"/>
     <use href="#mb8a5e02177" x="239.40" y="347.00" style="fill: #ff8c00; stroke: #ff8c00; stroke-width: 2.3"/>
     <use href="#mb8a5e02177" x="240.15" y="344.44" style="fill: #ff8c00; stroke: #ff8c00; stroke-width: 2.3"/>
     <use href="#mb8a5e02177" x="240.90" y="343.16" style="fill: #ff8c00; stroke: #ff8c00; stroke-width: 2.3"/>
     <use href="#mb8a5e02177" x="241.65" y="343.99" style="fill: #ff8c00; stroke: #ff8c00; stroke-width: 2.3"/>
     <use href="#mb8a5e02177" x="242.40" y="344.88" style="fill: #ff8c00; stroke: #ff8c00; stroke-width: 2.3"/>
     <use href="#mb8a5e02177" x="243.16" y="343.72" style="fill: #ff8c00; stroke: #ff8c00; stroke-width: 2.3"/>
     <use href="#mb8a5e02177" x="243.91" y="341.17" style="fill: #ff8c00; stroke: #ff8c00; stroke-width: 2.3"/>
     <use href="#mb8a5e02177" x="244.66" y="339.80" style="fill: #ff8c00; stroke: #ff8c00; stroke-width: 2.3"/>
     <use href="#mb8a5e02177" x="245.41" y="340.56" style="fill: #ff8c00; stroke: #ff8c00; stroke-width: 2.3"/>
     <use href="#mb8a5e02177" x="246.16" y="341.51" style="fill: #ff8c00; stroke: #ff8c00; stroke-width: 2.3"/>
     <use href="#mb8a5e02177" x="246.92" y="340.45" style="fill: #ff8c00; stroke: #ff8c00; stroke-width: 2.3"/>
     <use href="#mb8a5e02177" x="247.67" y="337.81" style="fill: #ff8c00; stroke: #ff8c00; stroke-width: 2.3"/>
     <use href="#mb8a5e02177" x="248.42" y="336.26" style="fill: #ff8c00; stroke: #ff8c00; stroke-width: 2.3"/>
     <use href="#mb8a5e02177" x="249.17" y="336.86" style="fill: #ff8c00; stroke: #ff8c00; stroke-width: 2.3"/>
     <use href="#mb8a5e02177" x="249.92" y="337.77" style="fill: #ff8c00; stroke: #ff8c00; stroke-width: 2.3"/>
     <use href="#mb8a5e02177" x="250.67" y="336.70" style="fill: #ff8c00; stroke: #ff8c00; stroke-width: 2.3"/>
     <use href="#mb8a5e02177" x="251.43" y="334.08" style="fill: #ff8c00; stroke: #ff8c00; stroke-width: 2.3"/>
     <use href="#mb8a5e02177" x="252.18" y="332.44" style="fill: #ff8c00; stroke: #ff8c00; stroke-width: 2.3"/>
     <use href="#mb8a5e02177" x="252.93" y="332.97" style="fill: #ff8c00; stroke: #ff8c00; stroke-width: 2.3"/>
     <use href="#mb8a5e02177" x="253.68" y="333.92" style="fill: #ff8c00; stroke: #ff8c00; stroke-width: 2.3"/>
     <use href="#mb8a5e02177" x="254.43" y="332.96" style="fill: #ff8c00; stroke: #ff8c00; stroke-width: 2.3"/>
     <use href="#mb8a5e02177" x="255.19" y="329.94" style="fill: #ff8c00; stroke: #ff8c00; stroke-width: 2.3"/>
     <use href="#mb8a5e02177" x="255.94" y="327.44" style="fill: #ff8c00; stroke: #ff8c00; stroke-width: 2.3"/>
     <use href="#mb8a5e02177" x="256.69" y="327.13" style="fill: #ff8c00; stroke: #ff8c00; stroke-width: 2.3"/>
     <use href="#mb8a5e02177" x="257.44" y="327.35" style="fill: #ff8c00; stroke: #ff8c00; stroke-width: 2.3"/>
     <use href="#mb8a5e02177" x="258.19" y="325.72" style="fill: #ff8c00; stroke: #ff8c00; stroke-width: 2.3"/>
     <use href="#mb8a5e02177" x="258.94" y="322.40" style="fill: #ff8c00; stroke: #ff8c00; stroke-width: 2.3"/>
     <use href="#mb8a5e02177" x="259.70" y="319.88" style="fill: #ff8c00; stroke: #ff8c00; stroke-width: 2.3"/>
     <use href="#mb8a5e02177" x="260.45" y="319.56" style="fill: #ff8c00; stroke: #ff8c00; stroke-width: 2.3"/>
     <use href="#mb8a5e02177" x="261.20" y="319.88" style="fill: #ff8c00; stroke: #ff8c00; stroke-width: 2.3"/>
     <use href="#mb8a5e02177" x="261.95" y="318.41" style="fill: #ff8c00; stroke: #ff8c00; stroke-width: 2.3"/>
     <use href="#mb8a5e02177" x="262.70" y="315.16" style="fill: #ff8c00; stroke: #ff8c00; stroke-width: 2.3"/>
     <use href="#mb8a5e02177" x="263.46" y="312.63" style="fill: #ff8c00; stroke: #ff8c00; stroke-width: 2.3"/>
     <use href="#mb8a5e02177" x="264.21" y="312.29" style="fill: #ff8c00; stroke: #ff8c00; stroke-width: 2.3"/>
     <use href="#mb8a5e02177" x="264.96" y="312.71" style="fill: #ff8c00; stroke: #ff8c00; stroke-width: 2.3"/>
     <use href="#mb8a5e02177" x="265.71" y="311.40" style="fill: #ff8c00; stroke: #ff8c00; stroke-width: 2.3"/>
     <use href="#mb8a5e02177" x="266.46" y="308.25" style="fill: #ff8c00; stroke: #ff8c00; stroke-width: 2.3"/>
     <use href="#mb8a5e02177" x="266.10" y="308.45" style="fill: #ff8c00; stroke: #ff8c00; stroke-width: 2.3"/>
     <use href="#mb8a5e02177" x="266.91" y="307.88" style="fill: #ff8c00; stroke: #ff8c00; stroke-width: 2.3"/>
     <use href="#mb8a5e02177" x="267.72" y="307.45" style="fill: #ff8c00; stroke: #ff8c00; stroke-width: 2.3"/>
     <use href="#mb8a5e02177" x="268.54" y="307.23" style="fill: #ff8c00; stroke: #ff8c00; stroke-width: 2.3"/>
     <use href="#mb8a5e02177" x="269.35" y="307.27" style="fill: #ff8c00; stroke: #ff8c00; stroke-width: 2.3"/>
     <use href="#mb8a5e02177" x="270.16" y="307.54" style="fill: #ff8c00; stroke: #ff8c00; stroke-width: 2.3"/>
     <use href="#mb8a5e02177" x="270.97" y="307.95" style="fill: #ff8c00; stroke: #ff8c00; stroke-width: 2.3"/>
     <use href="#mb8a5e02177" x="271.78" y="308.37" style="fill: #ff8c00; stroke: #ff8c00; stroke-width: 2.3"/>
     <use href="#mb8a5e02177" x="272.59" y="308.67" style="fill: #ff8c00; stroke: #ff8c00; stroke-width: 2.3"/>
     <use href="#mb8a5e02177" x="273.41" y="308.76" style="fill: #ff8c00; stroke: #ff8c00; stroke-width: 2.3"/>
     <use href="#mb8a5e02177" x="274.22" y="308.59" style="fill: #ff8c00; stroke: #ff8c00; stroke-width: 2.3"/>
     <use href="#mb8a5e02177" x="275.03" y="308.19" style="fill: #ff8c00; stroke: #ff8c00; stroke-width: 2.3"/>
     <use href="#mb8a5e02177" x="275.84" y="307.65" style="fill: #ff8c00; stroke: #ff8c00; stroke-width: 2.3"/>
     <use href="#mb8a5e02177" x="276.65" y="307.07" style="fill: #ff8c00; stroke: #ff8c00; stroke-width: 2.3"/>
     <use href="#mb8a5e02177" x="277.47" y="306.60" style="fill: #ff8c00; stroke: #ff8c00; stroke-width: 2.3"/>
     <use href="#mb8a5e02177" x="278.28" y="306.33" style="fill: #ff8c00; stroke: #ff8c00; stroke-width: 2.3"/>
     <use href="#mb8a5e02177" x="279.09" y="306.32" style="fill: #ff8c00; stroke: #ff8c00; stroke-width: 2.3"/>
     <use href="#mb8a5e02177" x="279.90" y="306.55" style="fill: #ff8c00; stroke: #ff8c00; stroke-width: 2.3"/>
     <use href="#mb8a5e02177" x="280.71" y="306.94" style="fill: #ff8c00; stroke: #ff8c00; stroke-width: 2.3"/>
     <use href="#mb8a5e02177" x="281.52" y="307.37" style="fill: #ff8c00; stroke: #ff8c00; stroke-width: 2.3"/>
     <use href="#mb8a5e02177" x="282.34" y="307.71" style="fill: #ff8c00; stroke: #ff8c00; stroke-width: 2.3"/>
     <use href="#mb8a5e02177" x="283.15" y="307.85" style="fill: #ff8c00; stroke: #ff8c00; stroke-width: 2.3"/>
     <use href="#mb8a5e02177" x="283.96" y="307.73" style="fill: #ff8c00; stroke: #ff8c00; stroke-width: 2.3"/>
     <use href="#mb8a5e02177" x="284.77" y="307.37" style="fill: #ff8c00; stroke: #ff8c00; stroke-width: 2.3"/>
     <use href="#mb8a5e02177" x="285.58" y="306.84" style="fill: #ff8c00; stroke: #ff8c00; stroke-width: 2.3"/>
     <use href="#mb8a5e02177" x="286.39" y="306.26" style="fill: #ff8c00; stroke: #ff8c00; stroke-width: 2.3"/>
     <use href="#mb8a5e02177" x="287.21" y="305.76" style="fill: #ff8c00; stroke: #ff8c00; stroke-width: 2.3"/>
     <use href="#mb8a5e02177" x="288.02" y="305.45" style="fill: #ff8c00; stroke: #ff8c00; stroke-width: 2.3"/>
     <use href="#mb8a5e02177" x="288.83" y="305.39" style="fill: #ff8c00; stroke: #ff8c00; stroke-width: 2.3"/>
     <use href="#mb8a5e02177" x="289.64" y="305.58" style="fill: #ff8c00; stroke: #ff8c00; stroke-width: 2.3"/>
     <use href="#mb8a5e02177" x="290.45" y="305.94" style="fill: #ff8c00; stroke: #ff8c00; stroke-width: 2.3"/>
     <use href="#mb8a5e02177" x="291.27" y="306.37" style="fill: #ff8c00; stroke: #ff8c00; stroke-width: 2.3"/>
     <use href="#mb8a5e02177" x="292.08" y="306.74" style="fill: #ff8c00; stroke: #ff8c00; stroke-width: 2.3"/>
     <use href="#mb8a5e02177" x="292.89" y="306.92" style="fill: #ff8c00; stroke: #ff8c00; stroke-width: 2.3"/>
     <use href="#mb8a5e02177" x="293.25" y="304.42" style="fill: #ff8c00; stroke: #ff8c00; stroke-width: 2.3"/>
     <use href="#mb8a5e02177" x="294.07" y="303.85" style="fill: #ff8c00; stroke: #ff8c00; stroke-width: 2.3"/>
     <use href="#mb8a5e02177" x="294.90" y="303.26" style="fill: #ff8c00; stroke: #ff8c00; stroke-width: 2.3"/>
     <use href="#mb8a5e02177" x="295.72" y="302.67" style="fill: #ff8c00; stroke: #ff8c00; stroke-width: 2.3"/>
     <use href="#mb8a5e02177" x="296.55" y="302.09" style="fill: #ff8c00; stroke: #ff8c00; stroke-width: 2.3"/>
     <use href="#mb8a5e02177" x="297.37" y="301.53" style="fill: #ff8c00; stroke: #ff8c00; stroke-width: 2.3"/>
     <use href="#mb8a5e02177" x="298.19" y="301.00" style="fill: #ff8c00; stroke: #ff8c00; stroke-width: 2.3"/>
     <use href="#mb8a5e02177" x="299.02" y="300.51" style="fill: #ff8c00; stroke: #ff8c00; stroke-width: 2.3"/>
     <use href="#mb8a5e02177" x="299.84" y="300.06" style="fill: #ff8c00; stroke: #ff8c00; stroke-width: 2.3"/>
     <use href="#mb8a5e02177" x="300.66" y="299.65" style="fill: #ff8c00; stroke: #ff8c00; stroke-width: 2.3"/>
     <use href="#mb8a5e02177" x="301.49" y="299.28" style="fill: #ff8c00; stroke: #ff8c00; stroke-width: 2.3"/>
     <use href="#mb8a5e02177" x="302.31" y="298.95" style="fill: #ff8c00; stroke: #ff8c00; stroke-width: 2.3"/>
     <use href="#mb8a5e02177" x="303.13" y="298.64" style="fill: #ff8c00; stroke: #ff8c00; stroke-width: 2.3"/>
     <use href="#mb8a5e02177" x="303.96" y="298.34" style="fill: #ff8c00; stroke: #ff8c00; stroke-width: 2.3"/>
     <use href="#mb8a5e02177" x="304.78" y="298.04" style="fill: #ff8c00; stroke: #ff8c00; stroke-width: 2.3"/>
     <use href="#mb8a5e02177" x="305.61" y="297.72" style="fill: #ff8c00; stroke: #ff8c00; stroke-width: 2.3"/>
     <use href="#mb8a5e02177" x="306.43" y="297.66" style="fill: #ff8c00; stroke: #ff8c00; stroke-width: 2.3"/>
     <use href="#mb8a5e02177" x="307.25" y="297.74" style="fill: #ff8c00; stroke: #ff8c00; stroke-width: 2.3"/>
     <use href="#mb8a5e02177" x="308.08" y="297.77" style="fill: #ff8c00; stroke: #ff8c00; stroke-width: 2.3"/>
     <use href="#mb8a5e02177" x="308.90" y="297.76" style="fill: #ff8c00; stroke: #ff8c00; stroke-width: 2.3"/>
     <use href="#mb8a5e02177" x="309.72" y="297.71" style="fill: #ff8c00; stroke: #ff8c00; stroke-width: 2.3"/>
     <use href="#mb8a5e02177" x="310.55" y="297.62" style="fill: #ff8c00; stroke: #ff8c00; stroke-width: 2.3"/>
     <use href="#mb8a5e02177" x="311.37" y="297.50" style="fill: #ff8c00; stroke: #ff8c00; stroke-width: 2.3"/>
     <use href="#mb8a5e02177" x="312.20" y="297.36" style="fill: #ff8c00; stroke: #ff8c00; stroke-width: 2.3"/>
     <use href="#mb8a5e02177" x="313.02" y="297.21" style="fill: #ff8c00; stroke: #ff8c00; stroke-width: 2.3"/>
     <use href="#mb8a5e02177" x="313.84" y="297.07" style="fill: #ff8c00; stroke: #ff8c00; stroke-width: 2.3"/>
     <use href="#mb8a5e02177" x="314.67" y="296.95" style="fill: #ff8c00; stroke: #ff8c00; stroke-width: 2.3"/>
     <use href="#mb8a5e02177" x="315.49" y="296.85" style="fill: #ff8c00; stroke: #ff8c00; stroke-width: 2.3"/>
     <use href="#mb8a5e02177" x="316.31" y="296.79" style="fill: #ff8c00; stroke: #ff8c00; stroke-width: 2.3"/>
     <use href="#mb8a5e02177" x="317.14" y="296.78" style="fill: #ff8c00; stroke: #ff8c00; stroke-width: 2.3"/>
     <use href="#mb8a5e02177" x="317.96" y="296.80" style="fill: #ff8c00; stroke: #ff8c00; stroke-width: 2.3"/>
     <use href="#mb8a5e02177" x="318.78" y="296.87" style="fill: #ff8c00; stroke: #ff8c00; stroke-width: 2.3"/>
     <use href="#mb8a5e02177" x="319.61" y="296.97" style="fill: #ff8c00; stroke: #ff8c00; stroke-width: 2.3"/>
     <use href="#mb8a5e02177" x="320.43" y="297.10" style="fill: #ff8c00; stroke: #ff8c00; stroke-width: 2.3"/>
     <use href="#mb8a5e02177" x="321.26" y="297.24" style="fill: #ff8c00; stroke: #ff8c00; stroke-width: 2.3"/>
     <use href="#mb8a5e02177" x="322.08" y="297.39" style="fill: #ff8c00; stroke: #ff8c00; stroke-width: 2.3"/>
     <use href="#mb8a5e02177" x="322.90" y="297.52" style="fill: #ff8c00; stroke: #ff8c00; stroke-width: 2.3"/>
     <use href="#mb8a5e02177" x="323.73" y="297.64" style="fill: #ff8c00; stroke: #ff8c00; stroke-width: 2.3"/>
     <use href="#mb8a5e02177" x="324.55" y="297.72" style="fill: #ff8c00; stroke: #ff8c00; stroke-width: 2.3"/>
     <use href="#mb8a5e02177" x="325.37" y="297.76" style="fill: #ff8c00; stroke: #ff8c00; stroke-width: 2.3"/>
     <use href="#mb8a5e02177" x="326.20" y="297.76" style="fill: #ff8c00; stroke: #ff8c00; stroke-width: 2.3"/>
     <use href="#mb8a5e02177" x="327.02" y="297.72" style="fill: #ff8c00; stroke: #ff8c00; stroke-width: 2.3"/>
     <use href="#mb8a5e02177" x="327.84" y="297.64" style="fill: #ff8c00; stroke: #ff8c00; stroke-width: 2.3"/>
     <use href="#mb8a5e02177" x="328.67" y="297.53" style="fill: #ff8c00; stroke: #ff8c00; stroke-width: 2.3"/>
     <use href="#mb8a5e02177" x="329.49" y="297.39" style="fill: #ff8c00; stroke: #ff8c00; stroke-width: 2.3"/>
     <use href="#mb8a5e02177" x="330.32" y="297.25" style="fill: #ff8c00; stroke: #ff8c00; stroke-width: 2.3"/>
     <use href="#mb8a5e02177" x="331.14" y="297.10" style="fill: #ff8c00; stroke: #ff8c00; stroke-width: 2.3"/>
     <use href="#mb8a5e02177" x="331.96" y="296.98" style="fill: #ff8c00; stroke: #ff8c00; stroke-width: 2.3"/>
     <use href="#mb8a5e02177" x="332.79" y="296.87" style="fill: #ff8c00; stroke: #ff8c00; stroke-width: 2.3"/>
     <use href="#mb8a5e02177" x="333.61" y="296.80" style="fill: #ff8c00; stroke: #ff8c00; stroke-width: 2.3"/>
     <use href="#mb8a5e02177" x="334.43" y="296.78" style="fill: #ff8c00; stroke: #ff8c00; stroke-width: 2.3"/>
     <use href="#mb8a5e02177" x="335.26" y="296.79" style="fill: #ff8c00; stroke: #ff8c00; stroke-width: 2.3"/>
     <use href="#mb8a5e02177" x="336.08" y="296.85" style="fill: #ff8c00; stroke: #ff8c00; stroke-width: 2.3"/>
     <use href="#mb8a5e02177" x="336.91" y="296.94" style="fill: #ff8c00; stroke: #ff8c00; stroke-width: 2.3"/>
     <use href="#mb8a5e02177" x="337.73" y="297.07" style="fill: #ff8c00; stroke: #ff8c00; stroke-width: 2.3"/>
     <use href="#mb8a5e02177" x="338.55" y="297.21" style="fill: #ff8c00; stroke: #ff8c00; stroke-width: 2.3"/>
     <use href="#mb8a5e02177" x="339.38" y="297.35" style="fill: #ff8c00; stroke: #ff8c00; stroke-width: 2.3"/>
     <use href="#mb8a5e02177" x="340.20" y="297.49" style="fill: #ff8c00; stroke: #ff8c00; stroke-width: 2.3"/>
     <use href="#mb8a5e02177" x="341.02" y="297.61" style="fill: #ff8c00; stroke: #ff8c00; stroke-width: 2.3"/>
     <use href="#mb8a5e02177" x="341.85" y="297.70" style="fill: #ff8c00; stroke: #ff8c00; stroke-width: 2.3"/>
     <use href="#mb8a5e02177" x="342.67" y="297.76" style="fill: #ff8c00; stroke: #ff8c00; stroke-width: 2.3"/>
     <use href="#mb8a5e02177" x="343.49" y="297.77" style="fill: #ff8c00; stroke: #ff8c00; stroke-width: 2.3"/>
     <use href="#mb8a5e02177" x="344.32" y="297.74" style="fill: #ff8c00; stroke: #ff8c00; stroke-width: 2.3"/>
     <use href="#mb8a5e02177" x="345.14" y="297.66" style="fill: #ff8c00; stroke: #ff8c00; stroke-width: 2.3"/>
     <use href="#mb8a5e02177" x="345.97" y="297.56" style="fill: #ff8c00; stroke: #ff8c00; stroke-width: 2.3"/>
     <use href="#mb8a5e02177" x="346.79" y="297.43" style="fill: #ff8c00; stroke: #ff8c00; stroke-width: 2.3"/>
     <use href="#mb8a5e02177" x="347.61" y="297.28" style="fill: #ff8c00; stroke: #ff8c00; stroke-width: 2.3"/>
     <use href="#mb8a5e02177" x="348.44" y="297.14" style="fill: #ff8c00; stroke: #ff8c00; stroke-width: 2.3"/>
     <use href="#mb8a5e02177" x="349.26" y="297.00" style="fill: #ff8c00; stroke: #ff8c00; stroke-width: 2.3"/>
     <use href="#mb8a5e02177" x="350.08" y="296.89" style="fill: #ff8c00; stroke: #ff8c00; stroke-width: 2.3"/>
    </g>
   </g>
   <g id="line2d_77">
    <defs>
     <path id="m645f676686" d="M -4.1 4.1 
L 4.1 -4.1 
M -4.1 -4.1 
L 4.1 4.1 
" style="stroke: #18e8e8; stroke-width: 3.4"/>
    </defs>
    <g clip-path="url(#p89d958ffb8)">
     <use href="#m645f676686" x="292.16" y="300.97" style="fill: #18e8e8; stroke: #18e8e8; stroke-width: 3.4"/>
     <use href="#m645f676686" x="292.90" y="300.55" style="fill: #18e8e8; stroke: #18e8e8; stroke-width: 3.4"/>
     <use href="#m645f676686" x="293.63" y="300.10" style="fill: #18e8e8; stroke: #18e8e8; stroke-width: 3.4"/>
     <use href="#m645f676686" x="294.36" y="299.63" style="fill: #18e8e8; stroke: #18e8e8; stroke-width: 3.4"/>
     <use href="#m645f676686" x="295.10" y="299.12" style="fill: #18e8e8; stroke: #18e8e8; stroke-width: 3.4"/>
     <use href="#m645f676686" x="295.83" y="298.59" style="fill: #18e8e8; stroke: #18e8e8; stroke-width: 3.4"/>
     <use href="#m645f676686" x="296.56" y="298.03" style="fill: #18e8e8; stroke: #18e8e8; stroke-width: 3.4"/>
     <use href="#m645f676686" x="297.30" y="297.47" style="fill: #18e8e8; stroke: #18e8e8; stroke-width: 3.4"/>
     <use href="#m645f676686" x="298.03" y="296.89" style="fill: #18e8e8; stroke: #18e8e8; stroke-width: 3.4"/>
     <use href="#m645f676686" x="298.76" y="296.30" style="fill: #18e8e8; stroke: #18e8e8; stroke-width: 3.4"/>
     <use href="#m645f676686" x="299.50" y="295.73" style="fill: #18e8e8; stroke: #18e8e8; stroke-width: 3.4"/>
     <use href="#m645f676686" x="300.23" y="295.16" style="fill: #18e8e8; stroke: #18e8e8; stroke-width: 3.4"/>
     <use href="#m645f676686" x="300.96" y="294.61" style="fill: #18e8e8; stroke: #18e8e8; stroke-width: 3.4"/>
     <use href="#m645f676686" x="301.70" y="294.08" style="fill: #18e8e8; stroke: #18e8e8; stroke-width: 3.4"/>
     <use href="#m645f676686" x="302.43" y="293.57" style="fill: #18e8e8; stroke: #18e8e8; stroke-width: 3.4"/>
     <use href="#m645f676686" x="303.16" y="293.18" style="fill: #18e8e8; stroke: #18e8e8; stroke-width: 3.4"/>
     <use href="#m645f676686" x="303.90" y="293.18" style="fill: #18e8e8; stroke: #18e8e8; stroke-width: 3.4"/>
     <use href="#m645f676686" x="304.63" y="293.21" style="fill: #18e8e8; stroke: #18e8e8; stroke-width: 3.4"/>
     <use href="#m645f676686" x="305.36" y="293.27" style="fill: #18e8e8; stroke: #18e8e8; stroke-width: 3.4"/>
     <use href="#m645f676686" x="306.09" y="293.36" style="fill: #18e8e8; stroke: #18e8e8; stroke-width: 3.4"/>
     <use href="#m645f676686" x="306.83" y="293.46" style="fill: #18e8e8; stroke: #18e8e8; stroke-width: 3.4"/>
     <use href="#m645f676686" x="307.56" y="293.59" style="fill: #18e8e8; stroke: #18e8e8; stroke-width: 3.4"/>
     <use href="#m645f676686" x="308.29" y="293.72" style="fill: #18e8e8; stroke: #18e8e8; stroke-width: 3.4"/>
     <use href="#m645f676686" x="309.03" y="293.86" style="fill: #18e8e8; stroke: #18e8e8; stroke-width: 3.4"/>
     <use href="#m645f676686" x="309.76" y="293.99" style="fill: #18e8e8; stroke: #18e8e8; stroke-width: 3.4"/>
     <use href="#m645f676686" x="310.49" y="294.12" style="fill: #18e8e8; stroke: #18e8e8; stroke-width: 3.4"/>
     <use href="#m645f676686" x="311.23" y="294.23" style="fill: #18e8e8; stroke: #18e8e8; stroke-width: 3.4"/>
     <use href="#m645f676686" x="311.96" y="294.32" style="fill: #18e8e8; stroke: #18e8e8; stroke-width: 3.4"/>
     <use href="#m645f676686" x="312.69" y="294.38" style="fill: #18e8e8; stroke: #18e8e8; stroke-width: 3.4"/>
     <use href="#m645f676686" x="313.43" y="294.41" style="fill: #18e8e8; stroke: #18e8e8; stroke-width: 3.4"/>
     <use href="#m645f676686" x="314.16" y="294.42" style="fill: #18e8e8; stroke: #18e8e8; stroke-width: 3.4"/>
     <use href="#m645f676686" x="314.89" y="294.39" style="fill: #18e8e8; stroke: #18e8e8; stroke-width: 3.4"/>
     <use href="#m645f676686" x="315.63" y="294.33" style="fill: #18e8e8; stroke: #18e8e8; stroke-width: 3.4"/>
     <use href="#m645f676686" x="316.36" y="294.25" style="fill: #18e8e8; stroke: #18e8e8; stroke-width: 3.4"/>
     <use href="#m645f676686" x="317.09" y="294.14" style="fill: #18e8e8; stroke: #18e8e8; stroke-width: 3.4"/>
     <use href="#m645f676686" x="317.83" y="294.02" style="fill: #18e8e8; stroke: #18e8e8; stroke-width: 3.4"/>
     <use href="#m645f676686" x="318.56" y="293.89" style="fill: #18e8e8; stroke: #18e8e8; stroke-width: 3.4"/>
     <use href="#m645f676686" x="319.29" y="293.75" style="fill: #18e8e8; stroke: #18e8e8; stroke-width: 3.4"/>
     <use href="#m645f676686" x="320.02" y="293.61" style="fill: #18e8e8; stroke: #18e8e8; stroke-width: 3.4"/>
     <use href="#m645f676686" x="320.76" y="293.49" style="fill: #18e8e8; stroke: #18e8e8; stroke-width: 3.4"/>
     <use href="#m645f676686" x="321.49" y="293.38" style="fill: #18e8e8; stroke: #18e8e8; stroke-width: 3.4"/>
     <use href="#m645f676686" x="322.22" y="293.29" style="fill: #18e8e8; stroke: #18e8e8; stroke-width: 3.4"/>
     <use href="#m645f676686" x="322.96" y="293.22" style="fill: #18e8e8; stroke: #18e8e8; stroke-width: 3.4"/>
     <use href="#m645f676686" x="323.69" y="293.18" style="fill: #18e8e8; stroke: #18e8e8; stroke-width: 3.4"/>
     <use href="#m645f676686" x="324.42" y="293.18" style="fill: #18e8e8; stroke: #18e8e8; stroke-width: 3.4"/>
     <use href="#m645f676686" x="325.16" y="293.20" style="fill: #18e8e8; stroke: #18e8e8; stroke-width: 3.4"/>
     <use href="#m645f676686" x="325.89" y="293.26" style="fill: #18e8e8; stroke: #18e8e8; stroke-width: 3.4"/>
     <use href="#m645f676686" x="326.62" y="293.34" style="fill: #18e8e8; stroke: #18e8e8; stroke-width: 3.4"/>
     <use href="#m645f676686" x="327.36" y="293.44" style="fill: #18e8e8; stroke: #18e8e8; stroke-width: 3.4"/>
     <use href="#m645f676686" x="328.09" y="293.56" style="fill: #18e8e8; stroke: #18e8e8; stroke-width: 3.4"/>
     <use href="#m645f676686" x="328.82" y="293.69" style="fill: #18e8e8; stroke: #18e8e8; stroke-width: 3.4"/>
     <use href="#m645f676686" x="329.56" y="293.83" style="fill: #18e8e8; stroke: #18e8e8; stroke-width: 3.4"/>
     <use href="#m645f676686" x="330.29" y="293.97" style="fill: #18e8e8; stroke: #18e8e8; stroke-width: 3.4"/>
     <use href="#m645f676686" x="331.02" y="294.09" style="fill: #18e8e8; stroke: #18e8e8; stroke-width: 3.4"/>
     <use href="#m645f676686" x="331.76" y="294.21" style="fill: #18e8e8; stroke: #18e8e8; stroke-width: 3.4"/>
     <use href="#m645f676686" x="332.49" y="294.30" style="fill: #18e8e8; stroke: #18e8e8; stroke-width: 3.4"/>
     <use href="#m645f676686" x="333.22" y="294.37" style="fill: #18e8e8; stroke: #18e8e8; stroke-width: 3.4"/>
     <use href="#m645f676686" x="333.95" y="294.41" style="fill: #18e8e8; stroke: #18e8e8; stroke-width: 3.4"/>
     <use href="#m645f676686" x="334.69" y="294.42" style="fill: #18e8e8; stroke: #18e8e8; stroke-width: 3.4"/>
     <use href="#m645f676686" x="335.42" y="294.40" style="fill: #18e8e8; stroke: #18e8e8; stroke-width: 3.4"/>
     <use href="#m645f676686" x="336.15" y="294.35" style="fill: #18e8e8; stroke: #18e8e8; stroke-width: 3.4"/>
     <use href="#m645f676686" x="336.89" y="294.27" style="fill: #18e8e8; stroke: #18e8e8; stroke-width: 3.4"/>
     <use href="#m645f676686" x="337.62" y="294.17" style="fill: #18e8e8; stroke: #18e8e8; stroke-width: 3.4"/>
     <use href="#m645f676686" x="338.35" y="294.05" style="fill: #18e8e8; stroke: #18e8e8; stroke-width: 3.4"/>
     <use href="#m645f676686" x="339.09" y="293.91" style="fill: #18e8e8; stroke: #18e8e8; stroke-width: 3.4"/>
     <use href="#m645f676686" x="339.82" y="293.78" style="fill: #18e8e8; stroke: #18e8e8; stroke-width: 3.4"/>
     <use href="#m645f676686" x="340.55" y="293.64" style="fill: #18e8e8; stroke: #18e8e8; stroke-width: 3.4"/>
     <use href="#m645f676686" x="341.29" y="293.51" style="fill: #18e8e8; stroke: #18e8e8; stroke-width: 3.4"/>
     <use href="#m645f676686" x="342.02" y="293.40" style="fill: #18e8e8; stroke: #18e8e8; stroke-width: 3.4"/>
     <use href="#m645f676686" x="342.75" y="293.30" style="fill: #18e8e8; stroke: #18e8e8; stroke-width: 3.4"/>
     <use href="#m645f676686" x="343.49" y="293.23" style="fill: #18e8e8; stroke: #18e8e8; stroke-width: 3.4"/>
     <use href="#m645f676686" x="344.22" y="293.19" style="fill: #18e8e8; stroke: #18e8e8; stroke-width: 3.4"/>
     <use href="#m645f676686" x="344.95" y="293.18" style="fill: #18e8e8; stroke: #18e8e8; stroke-width: 3.4"/>
     <use href="#m645f676686" x="345.69" y="293.19" style="fill: #18e8e8; stroke: #18e8e8; stroke-width: 3.4"/>
     <use href="#m645f676686" x="346.42" y="293.24" style="fill: #18e8e8; stroke: #18e8e8; stroke-width: 3.4"/>
     <use href="#m645f676686" x="347.15" y="293.32" style="fill: #18e8e8; stroke: #18e8e8; stroke-width: 3.4"/>
     <use href="#m645f676686" x="347.88" y="293.42" style="fill: #18e8e8; stroke: #18e8e8; stroke-width: 3.4"/>
     <use href="#m645f676686" x="348.62" y="293.53" style="fill: #18e8e8; stroke: #18e8e8; stroke-width: 3.4"/>
     <use href="#m645f676686" x="349.35" y="293.67" style="fill: #18e8e8; stroke: #18e8e8; stroke-width: 3.4"/>
     <use href="#m645f676686" x="350.08" y="293.80" style="fill: #18e8e8; stroke: #18e8e8; stroke-width: 3.4"/>
    </g>
   </g>
  </g>
  <g id="axes_3">
   <g id="patch_12">
    <path d="M 396.6 364.4 
L 516 364.4 
L 516 17.3 
L 396.6 17.3 
z
" style="fill: #ffffff"/>
   </g>
   <g id="matplotlib.axis_5">
    <g id="xtick_7">
     <g id="line2d_78">
      <path d="M 437.99 364.4 
L 437.99 17.3 
" clip-path="url(#p62e669051c)" style="fill: none; stroke: #b0b0b0; stroke-width: 1.05; stroke-linecap: square"/>
     </g>
     <g id="line2d_79">
      <g>
       <use href="#m3c889467d5" x="437.99" y="364.4" style="stroke: #000000; stroke-width: 1.1"/>
      </g>
     </g>
     <g id="text_22">
      <!-- $\mathdefault{10^{0}}$ -->
      <g transform="translate(427.72 383.13)">
       <text>
        <tspan x="0" y="-0.17" style="font-size: 11.66px; font-family: 'DejaVu Sans', sans-serif">1</tspan>
        <tspan x="7.39" y="-0.17" style="font-size: 11.66px; font-family: 'DejaVu Sans', sans-serif">0</tspan>
        <tspan x="14.90" y="-4.6" style="font-size: 7.3px; font-family: 'DejaVu Sans', sans-serif">0</tspan>
       </text>
      </g>
     </g>
    </g>
    <g id="xtick_8">
     <g id="line2d_80">
      <path d="M 510.99 364.4 
L 510.99 17.3 
" clip-path="url(#p62e669051c)" style="fill: none; stroke: #b0b0b0; stroke-width: 1.05; stroke-linecap: square"/>
     </g>
     <g id="line2d_81">
      <g>
       <use href="#m3c889467d5" x="510.99" y="364.4" style="stroke: #000000; stroke-width: 1.1"/>
      </g>
     </g>
     <g id="text_23">
      <!-- $\mathdefault{10^{2}}$ -->
      <g transform="translate(500.73 383.13)">
       <text>
        <tspan x="0" y="-0.17" style="font-size: 11.66px; font-family: 'DejaVu Sans', sans-serif">1</tspan>
        <tspan x="7.39" y="-0.17" style="font-size: 11.66px; font-family: 'DejaVu Sans', sans-serif">0</tspan>
        <tspan x="14.90" y="-4.6" style="font-size: 7.3px; font-family: 'DejaVu Sans', sans-serif">2</tspan>
       </text>
      </g>
     </g>
    </g>
    <g id="text_24">
     <!-- $\omega_d^{\rm max}$ [kHz] -->
     <g transform="translate(424.85 401.44)">
      <text>
       <tspan x="0" y="-0.61" style="font-style: oblique; font-size: 11.66px; font-family: 'DejaVu Sans', sans-serif">ω</tspan>
       <tspan x="10.27" y="-5.29" style="font-size: 8.16px; font-family: 'DejaVu Sans', sans-serif">m</tspan>
       <tspan x="18.19" y="-5.29" style="font-size: 8.16px; font-family: 'DejaVu Sans', sans-serif">a</tspan>
       <tspan x="23.18" y="-5.29" style="font-size: 8.16px; font-family: 'DejaVu Sans', sans-serif">x</tspan>
       <tspan x="9.73" y="2.66" style="font-style: oblique; font-size: 8.16px; font-family: 'DejaVu Sans', sans-serif">d</tspan>
       <tspan x="28.32" y="-0.61" style="font-size: 11.66px; font-family: 'DejaVu Sans', sans-serif"> </tspan>
       <tspan x="32.02" y="-0.61" style="font-size: 11.66px; font-family: 'DejaVu Sans', sans-serif">[</tspan>
       <tspan x="36.55" y="-0.61" style="font-size: 11.66px; font-family: 'DejaVu Sans', sans-serif">k</tspan>
       <tspan x="43.29" y="-0.61" style="font-size: 11.66px; font-family: 'DejaVu Sans', sans-serif">H</tspan>
       <tspan x="52.03" y="-0.61" style="font-size: 11.66px; font-family: 'DejaVu Sans', sans-serif">z</tspan>
       <tspan x="58.13" y="-0.61" style="font-size: 11.66px; font-family: 'DejaVu Sans', sans-serif">]</tspan>
      </text>
     </g>
    </g>
   </g>
   <g id="matplotlib.axis_6">
    <g id="ytick_12">
     <g id="line2d_82">
      <path d="M 396.6 316.19 
L 516 316.19 
" clip-path="url(#p62e669051c)" style="fill: none; stroke: #b0b0b0; stroke-width: 1.05; stroke-linecap: square"/>
     </g>
     <g id="line2d_83">
      <g>
       <use href="#m62b1b5c91f" x="396.6" y="316.19" style="stroke: #000000; stroke-width: 1.1"/>
      </g>
     </g>
     <g id="text_25">
      <!-- $10^{-1}$ -->
      <g transform="translate(360.21 320.62)">
       <text>
        <tspan x="0" y="-0.28" style="font-size: 11.66px; font-family: 'DejaVu Sans', sans-serif">1</tspan>
        <tspan x="7.39" y="-0.28" style="font-size: 11.66px; font-family: 'DejaVu Sans', sans-serif">0</tspan>
        <tspan x="14.90" y="-4.4" style="font-size: 7.3px; font-family: 'DejaVu Sans', sans-serif">−</tspan>
        <tspan x="21.72" y="-4.4" style="font-size: 7.3px; font-family: 'DejaVu Sans', sans-serif">1</tspan>
       </text>
      </g>
     </g>
    </g>
    <g id="ytick_13">
     <g id="line2d_84">
      <path d="M 396.6 252.09 
L 516 252.09 
" clip-path="url(#p62e669051c)" style="fill: none; stroke: #b0b0b0; stroke-width: 1.05; stroke-linecap: square"/>
     </g>
     <g id="line2d_85">
      <g>
       <use href="#m62b1b5c91f" x="396.6" y="252.09" style="stroke: #000000; stroke-width: 1.1"/>
      </g>
     </g>
    </g>
    <g id="ytick_14">
     <g id="line2d_86">
      <path d="M 396.6 181.84 
L 516 181.84 
" clip-path="url(#p62e669051c)" style="fill: none; stroke: #b0b0b0; stroke-width: 1.05; stroke-linecap: square"/>
     </g>
     <g id="line2d_87">
      <g>
       <use href="#m62b1b5c91f" x="396.6" y="181.84" style="stroke: #000000; stroke-width: 1.1"/>
      </g>
     </g>
     <g id="text_26">
      <!-- $10^{0}$ -->
      <g transform="translate(367.1 186.28)">
       <text>
        <tspan x="0" y="-0.17" style="font-size: 11.66px; font-family: 'DejaVu Sans', sans-serif">1</tspan>
        <tspan x="7.39" y="-0.17" style="font-size: 11.66px; font-family: 'DejaVu Sans', sans-serif">0</tspan>
        <tspan x="14.90" y="-4.6" style="font-size: 7.3px; font-family: 'DejaVu Sans', sans-serif">0</tspan>
       </text>
      </g>
     </g>
    </g>
    <g id="ytick_15">
     <g id="line2d_88">
      <path d="M 396.6 117.74 
L 516 117.74 
" clip-path="url(#p62e669051c)" style="fill: none; stroke: #b0b0b0; stroke-width: 1.05; stroke-linecap: square"/>
     </g>
     <g id="line2d_89">
      <g>
       <use href="#m62b1b5c91f" x="396.6" y="117.74" style="stroke: #000000; stroke-width: 1.1"/>
      </g>
     </g>
    </g>
    <g id="ytick_16">
     <g id="line2d_90">
      <path d="M 396.6 47.50 
L 516 47.50 
" clip-path="url(#p62e669051c)" style="fill: none; stroke: #b0b0b0; stroke-width: 1.05; stroke-linecap: square"/>
     </g>
     <g id="line2d_91">
      <g>
       <use href="#m62b1b5c91f" x="396.6" y="47.50" style="stroke: #000000; stroke-width: 1.1"/>
      </g>
     </g>
     <g id="text_27">
      <!-- $10^{1}$ -->
      <g transform="translate(367.1 51.93)">
       <text>
        <tspan x="0" y="-0.28" style="font-size: 11.66px; font-family: 'DejaVu Sans', sans-serif">1</tspan>
        <tspan x="7.39" y="-0.28" style="font-size: 11.66px; font-family: 'DejaVu Sans', sans-serif">0</tspan>
        <tspan x="14.90" y="-4.4" style="font-size: 7.3px; font-family: 'DejaVu Sans', sans-serif">1</tspan>
       </text>
      </g>
     </g>
    </g>
    <g id="ytick_17">
     <g id="line2d_92">
      <defs>
       <path id="m06af55b821" d="M 0 0 
L -2.33 0 
" style="stroke: #000000; stroke-width: 0.7"/>
      </defs>
      <g>
       <use href="#m06af55b821" x="396.6" y="356.63" style="stroke: #000000; stroke-width: 0.7"/>
      </g>
     </g>
    </g>
    <g id="ytick_18">
     <g id="line2d_93">
      <g>
       <use href="#m06af55b821" x="396.6" y="346.00" style="stroke: #000000; stroke-width: 0.7"/>
      </g>
     </g>
    </g>
    <g id="ytick_19">
     <g id="line2d_94">
      <g>
       <use href="#m06af55b821" x="396.6" y="337.00" style="stroke: #000000; stroke-width: 0.7"/>
      </g>
     </g>
    </g>
    <g id="ytick_20">
     <g id="line2d_95">
      <g>
       <use href="#m06af55b821" x="396.6" y="329.21" style="stroke: #000000; stroke-width: 0.7"/>
      </g>
     </g>
    </g>
    <g id="ytick_21">
     <g id="line2d_96">
      <g>
       <use href="#m06af55b821" x="396.6" y="322.34" style="stroke: #000000; stroke-width: 0.7"/>
      </g>
     </g>
    </g>
    <g id="ytick_22">
     <g id="line2d_97">
      <g>
       <use href="#m06af55b821" x="396.6" y="275.75" style="stroke: #000000; stroke-width: 0.7"/>
      </g>
     </g>
    </g>
    <g id="ytick_23">
     <g id="line2d_98">
      <g>
       <use href="#m06af55b821" x="396.6" y="235.31" style="stroke: #000000; stroke-width: 0.7"/>
      </g>
     </g>
    </g>
    <g id="ytick_24">
     <g id="line2d_99">
      <g>
       <use href="#m06af55b821" x="396.6" y="222.29" style="stroke: #000000; stroke-width: 0.7"/>
      </g>
     </g>
    </g>
    <g id="ytick_25">
     <g id="line2d_100">
      <g>
       <use href="#m06af55b821" x="396.6" y="211.65" style="stroke: #000000; stroke-width: 0.7"/>
      </g>
     </g>
    </g>
    <g id="ytick_26">
     <g id="line2d_101">
      <g>
       <use href="#m06af55b821" x="396.6" y="202.65" style="stroke: #000000; stroke-width: 0.7"/>
      </g>
     </g>
    </g>
    <g id="ytick_27">
     <g id="line2d_102">
      <g>
       <use href="#m06af55b821" x="396.6" y="194.86" style="stroke: #000000; stroke-width: 0.7"/>
      </g>
     </g>
    </g>
    <g id="ytick_28">
     <g id="line2d_103">
      <g>
       <use href="#m06af55b821" x="396.6" y="187.99" style="stroke: #000000; stroke-width: 0.7"/>
      </g>
     </g>
    </g>
    <g id="ytick_29">
     <g id="line2d_104">
      <g>
       <use href="#m06af55b821" x="396.6" y="141.40" style="stroke: #000000; stroke-width: 0.7"/>
      </g>
     </g>
    </g>
    <g id="ytick_30">
     <g id="line2d_105">
      <g>
       <use href="#m06af55b821" x="396.6" y="100.96" style="stroke: #000000; stroke-width: 0.7"/>
      </g>
     </g>
    </g>
    <g id="ytick_31">
     <g id="line2d_106">
      <g>
       <use href="#m06af55b821" x="396.6" y="87.94" style="stroke: #000000; stroke-width: 0.7"/>
      </g>
     </g>
    </g>
    <g id="ytick_32">
     <g id="line2d_107">
      <g>
       <use href="#m06af55b821" x="396.6" y="77.30" style="stroke: #000000; stroke-width: 0.7"/>
      </g>
     </g>
    </g>
    <g id="ytick_33">
     <g id="line2d_108">
      <g>
       <use href="#m06af55b821" x="396.6" y="68.31" style="stroke: #000000; stroke-width: 0.7"/>
      </g>
     </g>
    </g>
    <g id="ytick_34">
     <g id="line2d_109">
      <g>
       <use href="#m06af55b821" x="396.6" y="60.52" style="stroke: #000000; stroke-width: 0.7"/>
      </g>
     </g>
    </g>
    <g id="ytick_35">
     <g id="line2d_110">
      <g>
       <use href="#m06af55b821" x="396.6" y="53.64" style="stroke: #000000; stroke-width: 0.7"/>
      </g>
     </g>
    </g>
   </g>
   <g id="patch_13">
    <path d="M 396.6 364.4 
L 396.6 17.3 
" style="fill: none; stroke: #000000; stroke-width: 1.2; stroke-linejoin: miter; stroke-linecap: square"/>
   </g>
   <g id="patch_14">
    <path d="M 516 364.4 
L 516 17.3 
" style="fill: none; stroke: #000000; stroke-width: 1.2; stroke-linejoin: miter; stroke-linecap: square"/>
   </g>
   <g id="patch_15">
    <path d="M 396.6 364.4 
L 516 364.4 
" style="fill: none; stroke: #000000; stroke-width: 1.2; stroke-linejoin: miter; stroke-linecap: square"/>
   </g>
   <g id="patch_16">
    <path d="M 396.6 17.3 
L 516 17.3 
" style="fill: none; stroke: #000000; stroke-width: 1.2; stroke-linejoin: miter; stroke-linecap: square"/>
   </g>
   <g id="line2d_111">
    <defs>
     <path id="ma818971b12" d="M -5.5 0 
L 5.5 0 
M 0 5.5 
L 0 -5.5 
" style="stroke: #000000; stroke-width: 1.4"/>
    </defs>
    <g clip-path="url(#p62e669051c)">
     <use href="#ma818971b12" x="401.89" y="94.09" style="stroke: #000000; stroke-width: 1.4"/>
     <use href="#ma818971b12" x="404.04" y="77.32" style="stroke: #000000; stroke-width: 1.4"/>
     <use href="#ma818971b12" x="404.86" y="76.90" style="stroke: #000000; stroke-width: 1.4"/>
     <use href="#ma818971b12" x="405.67" y="76.61" style="stroke: #000000; stroke-width: 1.4"/>
     <use href="#ma818971b12" x="406.49" y="76.52" style="stroke: #000000; stroke-width: 1.4"/>
     <use href="#ma818971b12" x="407.31" y="76.63" style="stroke: #000000; stroke-width: 1.4"/>
     <use href="#ma818971b12" x="408.12" y="76.93" style="stroke: #000000; stroke-width: 1.4"/>
     <use href="#ma818971b12" x="408.94" y="77.37" style="stroke: #000000; stroke-width: 1.4"/>
     <use href="#ma818971b12" x="409.75" y="77.84" style="stroke: #000000; stroke-width: 1.4"/>
     <use href="#ma818971b12" x="410.57" y="78.27" style="stroke: #000000; stroke-width: 1.4"/>
     <use href="#ma818971b12" x="411.38" y="78.56" style="stroke: #000000; stroke-width: 1.4"/>
     <use href="#ma818971b12" x="412.20" y="78.66" style="stroke: #000000; stroke-width: 1.4"/>
     <use href="#ma818971b12" x="413.02" y="78.56" style="stroke: #000000; stroke-width: 1.4"/>
     <use href="#ma818971b12" x="413.83" y="78.26" style="stroke: #000000; stroke-width: 1.4"/>
     <use href="#ma818971b12" x="414.65" y="77.83" style="stroke: #000000; stroke-width: 1.4"/>
     <use href="#ma818971b12" x="415.46" y="77.35" style="stroke: #000000; stroke-width: 1.4"/>
     <use href="#ma818971b12" x="416.28" y="76.92" style="stroke: #000000; stroke-width: 1.4"/>
     <use href="#ma818971b12" x="417.10" y="76.62" style="stroke: #000000; stroke-width: 1.4"/>
     <use href="#ma818971b12" x="417.91" y="76.52" style="stroke: #000000; stroke-width: 1.4"/>
     <use href="#ma818971b12" x="419.74" y="47.50" style="stroke: #000000; stroke-width: 1.4"/>
     <use href="#ma818971b12" x="420.83" y="45.77" style="stroke: #000000; stroke-width: 1.4"/>
     <use href="#ma818971b12" x="422.66" y="37.58" style="stroke: #000000; stroke-width: 1.4"/>
     <use href="#ma818971b12" x="423.60" y="38.20" style="stroke: #000000; stroke-width: 1.4"/>
     <use href="#ma818971b12" x="424.54" y="39.04" style="stroke: #000000; stroke-width: 1.4"/>
     <use href="#ma818971b12" x="425.47" y="39.78" style="stroke: #000000; stroke-width: 1.4"/>
     <use href="#ma818971b12" x="426.41" y="40.10" style="stroke: #000000; stroke-width: 1.4"/>
     <use href="#ma818971b12" x="427.35" y="39.90" style="stroke: #000000; stroke-width: 1.4"/>
     <use href="#ma818971b12" x="428.29" y="39.24" style="stroke: #000000; stroke-width: 1.4"/>
     <use href="#ma818971b12" x="429.23" y="38.39" style="stroke: #000000; stroke-width: 1.4"/>
     <use href="#ma818971b12" x="430.17" y="37.69" style="stroke: #000000; stroke-width: 1.4"/>
     <use href="#ma818971b12" x="431.11" y="37.42" style="stroke: #000000; stroke-width: 1.4"/>
     <use href="#ma818971b12" x="432.04" y="37.69" style="stroke: #000000; stroke-width: 1.4"/>
     <use href="#ma818971b12" x="432.98" y="38.38" style="stroke: #000000; stroke-width: 1.4"/>
     <use href="#ma818971b12" x="433.92" y="39.23" style="stroke: #000000; stroke-width: 1.4"/>
     <use href="#ma818971b12" x="434.86" y="39.89" style="stroke: #000000; stroke-width: 1.4"/>
     <use href="#ma818971b12" x="435.80" y="40.10" style="stroke: #000000; stroke-width: 1.4"/>
     <use href="#ma818971b12" x="436.74" y="39.78" style="stroke: #000000; stroke-width: 1.4"/>
     <use href="#ma818971b12" x="437.68" y="39.05" style="stroke: #000000; stroke-width: 1.4"/>
     <use href="#ma818971b12" x="438.61" y="38.21" style="stroke: #000000; stroke-width: 1.4"/>
     <use href="#ma818971b12" x="439.55" y="37.58" style="stroke: #000000; stroke-width: 1.4"/>
     <use href="#ma818971b12" x="440.49" y="37.43" style="stroke: #000000; stroke-width: 1.4"/>
     <use href="#ma818971b12" x="441.43" y="37.81" style="stroke: #000000; stroke-width: 1.4"/>
     <use href="#ma818971b12" x="442.37" y="38.57" style="stroke: #000000; stroke-width: 1.4"/>
     <use href="#ma818971b12" x="442.73" y="36.99" style="stroke: #000000; stroke-width: 1.4"/>
     <use href="#ma818971b12" x="443.67" y="36.96" style="stroke: #000000; stroke-width: 1.4"/>
     <use href="#ma818971b12" x="444.60" y="36.97" style="stroke: #000000; stroke-width: 1.4"/>
     <use href="#ma818971b12" x="445.53" y="37.00" style="stroke: #000000; stroke-width: 1.4"/>
     <use href="#ma818971b12" x="446.46" y="36.98" style="stroke: #000000; stroke-width: 1.4"/>
     <use href="#ma818971b12" x="447.40" y="36.90" style="stroke: #000000; stroke-width: 1.4"/>
     <use href="#ma818971b12" x="448.33" y="36.72" style="stroke: #000000; stroke-width: 1.4"/>
     <use href="#ma818971b12" x="449.26" y="36.44" style="stroke: #000000; stroke-width: 1.4"/>
     <use href="#ma818971b12" x="450.19" y="36.08" style="stroke: #000000; stroke-width: 1.4"/>
     <use href="#ma818971b12" x="451.12" y="35.66" style="stroke: #000000; stroke-width: 1.4"/>
     <use href="#ma818971b12" x="452.06" y="35.22" style="stroke: #000000; stroke-width: 1.4"/>
     <use href="#ma818971b12" x="452.99" y="34.81" style="stroke: #000000; stroke-width: 1.4"/>
     <use href="#ma818971b12" x="453.92" y="34.46" style="stroke: #000000; stroke-width: 1.4"/>
     <use href="#ma818971b12" x="454.85" y="34.21" style="stroke: #000000; stroke-width: 1.4"/>
     <use href="#ma818971b12" x="455.79" y="34.05" style="stroke: #000000; stroke-width: 1.4"/>
     <use href="#ma818971b12" x="456.72" y="33.99" style="stroke: #000000; stroke-width: 1.4"/>
     <use href="#ma818971b12" x="457.65" y="34.05" style="stroke: #000000; stroke-width: 1.4"/>
     <use href="#ma818971b12" x="458.58" y="34.28" style="stroke: #000000; stroke-width: 1.4"/>
     <use href="#ma818971b12" x="459.52" y="34.50" style="stroke: #000000; stroke-width: 1.4"/>
     <use href="#ma818971b12" x="460.45" y="34.66" style="stroke: #000000; stroke-width: 1.4"/>
     <use href="#ma818971b12" x="461.38" y="34.73" style="stroke: #000000; stroke-width: 1.4"/>
     <use href="#ma818971b12" x="462.31" y="34.70" style="stroke: #000000; stroke-width: 1.4"/>
     <use href="#ma818971b12" x="463.24" y="34.58" style="stroke: #000000; stroke-width: 1.4"/>
     <use href="#ma818971b12" x="464.18" y="34.39" style="stroke: #000000; stroke-width: 1.4"/>
     <use href="#ma818971b12" x="465.11" y="34.16" style="stroke: #000000; stroke-width: 1.4"/>
     <use href="#ma818971b12" x="466.04" y="33.94" style="stroke: #000000; stroke-width: 1.4"/>
     <use href="#ma818971b12" x="466.97" y="33.76" style="stroke: #000000; stroke-width: 1.4"/>
     <use href="#ma818971b12" x="467.91" y="33.67" style="stroke: #000000; stroke-width: 1.4"/>
     <use href="#ma818971b12" x="468.84" y="33.67" style="stroke: #000000; stroke-width: 1.4"/>
     <use href="#ma818971b12" x="469.77" y="33.77" style="stroke: #000000; stroke-width: 1.4"/>
     <use href="#ma818971b12" x="470.70" y="33.95" style="stroke: #000000; stroke-width: 1.4"/>
     <use href="#ma818971b12" x="471.64" y="34.18" style="stroke: #000000; stroke-width: 1.4"/>
     <use href="#ma818971b12" x="472.57" y="34.40" style="stroke: #000000; stroke-width: 1.4"/>
     <use href="#ma818971b12" x="473.50" y="34.59" style="stroke: #000000; stroke-width: 1.4"/>
     <use href="#ma818971b12" x="474.43" y="34.71" style="stroke: #000000; stroke-width: 1.4"/>
     <use href="#ma818971b12" x="475.36" y="34.73" style="stroke: #000000; stroke-width: 1.4"/>
     <use href="#ma818971b12" x="476.30" y="34.65" style="stroke: #000000; stroke-width: 1.4"/>
     <use href="#ma818971b12" x="477.23" y="34.49" style="stroke: #000000; stroke-width: 1.4"/>
     <use href="#ma818971b12" x="478.16" y="34.27" style="stroke: #000000; stroke-width: 1.4"/>
     <use href="#ma818971b12" x="479.09" y="34.04" style="stroke: #000000; stroke-width: 1.4"/>
     <use href="#ma818971b12" x="480.03" y="33.84" style="stroke: #000000; stroke-width: 1.4"/>
     <use href="#ma818971b12" x="480.96" y="33.70" style="stroke: #000000; stroke-width: 1.4"/>
     <use href="#ma818971b12" x="481.89" y="33.66" style="stroke: #000000; stroke-width: 1.4"/>
     <use href="#ma818971b12" x="482.82" y="33.71" style="stroke: #000000; stroke-width: 1.4"/>
     <use href="#ma818971b12" x="483.76" y="33.86" style="stroke: #000000; stroke-width: 1.4"/>
     <use href="#ma818971b12" x="484.69" y="34.07" style="stroke: #000000; stroke-width: 1.4"/>
     <use href="#ma818971b12" x="485.62" y="34.30" style="stroke: #000000; stroke-width: 1.4"/>
     <use href="#ma818971b12" x="486.55" y="34.51" style="stroke: #000000; stroke-width: 1.4"/>
     <use href="#ma818971b12" x="487.48" y="34.66" style="stroke: #000000; stroke-width: 1.4"/>
     <use href="#ma818971b12" x="488.42" y="34.73" style="stroke: #000000; stroke-width: 1.4"/>
     <use href="#ma818971b12" x="489.35" y="34.70" style="stroke: #000000; stroke-width: 1.4"/>
     <use href="#ma818971b12" x="490.28" y="34.57" style="stroke: #000000; stroke-width: 1.4"/>
     <use href="#ma818971b12" x="491.21" y="34.38" style="stroke: #000000; stroke-width: 1.4"/>
     <use href="#ma818971b12" x="492.15" y="34.15" style="stroke: #000000; stroke-width: 1.4"/>
     <use href="#ma818971b12" x="493.08" y="33.93" style="stroke: #000000; stroke-width: 1.4"/>
     <use href="#ma818971b12" x="494.01" y="33.76" style="stroke: #000000; stroke-width: 1.4"/>
     <use href="#ma818971b12" x="494.94" y="33.67" style="stroke: #000000; stroke-width: 1.4"/>
     <use href="#ma818971b12" x="495.88" y="33.68" style="stroke: #000000; stroke-width: 1.4"/>
     <use href="#ma818971b12" x="496.81" y="33.78" style="stroke: #000000; stroke-width: 1.4"/>
     <use href="#ma818971b12" x="497.74" y="33.96" style="stroke: #000000; stroke-width: 1.4"/>
     <use href="#ma818971b12" x="498.67" y="34.19" style="stroke: #000000; stroke-width: 1.4"/>
     <use href="#ma818971b12" x="499.60" y="34.42" style="stroke: #000000; stroke-width: 1.4"/>
     <use href="#ma818971b12" x="500.54" y="34.60" style="stroke: #000000; stroke-width: 1.4"/>
     <use href="#ma818971b12" x="501.47" y="34.71" style="stroke: #000000; stroke-width: 1.4"/>
     <use href="#ma818971b12" x="502.40" y="34.73" style="stroke: #000000; stroke-width: 1.4"/>
     <use href="#ma818971b12" x="503.33" y="34.64" style="stroke: #000000; stroke-width: 1.4"/>
     <use href="#ma818971b12" x="504.27" y="34.48" style="stroke: #000000; stroke-width: 1.4"/>
     <use href="#ma818971b12" x="505.20" y="34.26" style="stroke: #000000; stroke-width: 1.4"/>
     <use href="#ma818971b12" x="506.13" y="34.03" style="stroke: #000000; stroke-width: 1.4"/>
     <use href="#ma818971b12" x="507.06" y="33.83" style="stroke: #000000; stroke-width: 1.4"/>
     <use href="#ma818971b12" x="508.00" y="33.70" style="stroke: #000000; stroke-width: 1.4"/>
     <use href="#ma818971b12" x="508.93" y="33.66" style="stroke: #000000; stroke-width: 1.4"/>
     <use href="#ma818971b12" x="509.86" y="33.72" style="stroke: #000000; stroke-width: 1.4"/>
     <use href="#ma818971b12" x="510.79" y="33.87" style="stroke: #000000; stroke-width: 1.4"/>
     <use href="#ma818971b12" x="511.72" y="34.08" style="stroke: #000000; stroke-width: 1.4"/>
    </g>
   </g>
   <g id="line2d_112">
    <defs>
     <path id="m4f84c1d68b" d="M -6.25 6.25 
L 6.25 -6.25 
M -6.25 -6.25 
L 6.25 6.25 
" style="stroke: #000000; stroke-width: 2"/>
    </defs>
    <g clip-path="url(#p62e669051c)">
     <use href="#m4f84c1d68b" x="455.47" y="347.97" style="stroke: #000000; stroke-width: 2"/>
     <use href="#m4f84c1d68b" x="459.89" y="324.32" style="stroke: #000000; stroke-width: 2"/>
     <use href="#m4f84c1d68b" x="460.99" y="322.99" style="stroke: #000000; stroke-width: 2"/>
     <use href="#m4f84c1d68b" x="465.00" y="295.91" style="stroke: #000000; stroke-width: 2"/>
     <use href="#m4f84c1d68b" x="465.73" y="300.77" style="stroke: #000000; stroke-width: 2"/>
     <use href="#m4f84c1d68b" x="466.46" y="296.03" style="stroke: #000000; stroke-width: 2"/>
     <use href="#m4f84c1d68b" x="467.19" y="301.02" style="stroke: #000000; stroke-width: 2"/>
     <use href="#m4f84c1d68b" x="467.92" y="296.37" style="stroke: #000000; stroke-width: 2"/>
     <use href="#m4f84c1d68b" x="468.65" y="301.41" style="stroke: #000000; stroke-width: 2"/>
     <use href="#m4f84c1d68b" x="469.38" y="296.76" style="stroke: #000000; stroke-width: 2"/>
     <use href="#m4f84c1d68b" x="470.11" y="301.73" style="stroke: #000000; stroke-width: 2"/>
     <use href="#m4f84c1d68b" x="470.84" y="296.97" style="stroke: #000000; stroke-width: 2"/>
     <use href="#m4f84c1d68b" x="471.57" y="301.81" style="stroke: #000000; stroke-width: 2"/>
     <use href="#m4f84c1d68b" x="472.30" y="296.89" style="stroke: #000000; stroke-width: 2"/>
     <use href="#m4f84c1d68b" x="473.03" y="301.59" style="stroke: #000000; stroke-width: 2"/>
     <use href="#m4f84c1d68b" x="473.76" y="296.56" style="stroke: #000000; stroke-width: 2"/>
     <use href="#m4f84c1d68b" x="474.49" y="301.20" style="stroke: #000000; stroke-width: 2"/>
     <use href="#m4f84c1d68b" x="475.22" y="296.17" style="stroke: #000000; stroke-width: 2"/>
     <use href="#m4f84c1d68b" x="475.95" y="300.85" style="stroke: #000000; stroke-width: 2"/>
     <use href="#m4f84c1d68b" x="476.68" y="295.93" style="stroke: #000000; stroke-width: 2"/>
     <use href="#m4f84c1d68b" x="477.41" y="300.74" style="stroke: #000000; stroke-width: 2"/>
     <use href="#m4f84c1d68b" x="478.14" y="295.97" style="stroke: #000000; stroke-width: 2"/>
     <use href="#m4f84c1d68b" x="478.87" y="300.93" style="stroke: #000000; stroke-width: 2"/>
     <use href="#m4f84c1d68b" x="479.60" y="296.27" style="stroke: #000000; stroke-width: 2"/>
     <use href="#m4f84c1d68b" x="480.33" y="301.30" style="stroke: #000000; stroke-width: 2"/>
     <use href="#m4f84c1d68b" x="481.06" y="296.67" style="stroke: #000000; stroke-width: 2"/>
     <use href="#m4f84c1d68b" x="481.79" y="301.67" style="stroke: #000000; stroke-width: 2"/>
     <use href="#m4f84c1d68b" x="482.52" y="296.94" style="stroke: #000000; stroke-width: 2"/>
     <use href="#m4f84c1d68b" x="483.25" y="301.82" style="stroke: #000000; stroke-width: 2"/>
     <use href="#m4f84c1d68b" x="483.98" y="296.94" style="stroke: #000000; stroke-width: 2"/>
     <use href="#m4f84c1d68b" x="484.71" y="301.67" style="stroke: #000000; stroke-width: 2"/>
     <use href="#m4f84c1d68b" x="485.44" y="296.67" style="stroke: #000000; stroke-width: 2"/>
     <use href="#m4f84c1d68b" x="486.17" y="301.31" style="stroke: #000000; stroke-width: 2"/>
     <use href="#m4f84c1d68b" x="486.90" y="296.27" style="stroke: #000000; stroke-width: 2"/>
     <use href="#m4f84c1d68b" x="487.63" y="300.93" style="stroke: #000000; stroke-width: 2"/>
     <use href="#m4f84c1d68b" x="488.36" y="295.97" style="stroke: #000000; stroke-width: 2"/>
     <use href="#m4f84c1d68b" x="489.09" y="300.74" style="stroke: #000000; stroke-width: 2"/>
     <use href="#m4f84c1d68b" x="489.82" y="295.93" style="stroke: #000000; stroke-width: 2"/>
     <use href="#m4f84c1d68b" x="490.55" y="300.85" style="stroke: #000000; stroke-width: 2"/>
     <use href="#m4f84c1d68b" x="491.28" y="296.17" style="stroke: #000000; stroke-width: 2"/>
     <use href="#m4f84c1d68b" x="492.01" y="301.20" style="stroke: #000000; stroke-width: 2"/>
     <use href="#m4f84c1d68b" x="492.74" y="296.56" style="stroke: #000000; stroke-width: 2"/>
     <use href="#m4f84c1d68b" x="493.47" y="301.58" style="stroke: #000000; stroke-width: 2"/>
     <use href="#m4f84c1d68b" x="494.20" y="296.89" style="stroke: #000000; stroke-width: 2"/>
     <use href="#m4f84c1d68b" x="494.93" y="301.80" style="stroke: #000000; stroke-width: 2"/>
     <use href="#m4f84c1d68b" x="495.66" y="296.97" style="stroke: #000000; stroke-width: 2"/>
     <use href="#m4f84c1d68b" x="496.39" y="301.74" style="stroke: #000000; stroke-width: 2"/>
     <use href="#m4f84c1d68b" x="497.12" y="296.76" style="stroke: #000000; stroke-width: 2"/>
     <use href="#m4f84c1d68b" x="497.85" y="301.41" style="stroke: #000000; stroke-width: 2"/>
     <use href="#m4f84c1d68b" x="498.58" y="296.38" style="stroke: #000000; stroke-width: 2"/>
     <use href="#m4f84c1d68b" x="499.31" y="301.02" style="stroke: #000000; stroke-width: 2"/>
     <use href="#m4f84c1d68b" x="500.04" y="296.03" style="stroke: #000000; stroke-width: 2"/>
     <use href="#m4f84c1d68b" x="500.77" y="300.77" style="stroke: #000000; stroke-width: 2"/>
     <use href="#m4f84c1d68b" x="501.50" y="295.91" style="stroke: #000000; stroke-width: 2"/>
     <use href="#m4f84c1d68b" x="502.23" y="300.80" style="stroke: #000000; stroke-width: 2"/>
     <use href="#m4f84c1d68b" x="502.96" y="296.08" style="stroke: #000000; stroke-width: 2"/>
     <use href="#m4f84c1d68b" x="503.69" y="301.09" style="stroke: #000000; stroke-width: 2"/>
     <use href="#m4f84c1d68b" x="504.42" y="296.45" style="stroke: #000000; stroke-width: 2"/>
     <use href="#m4f84c1d68b" x="505.15" y="301.49" style="stroke: #000000; stroke-width: 2"/>
     <use href="#m4f84c1d68b" x="505.88" y="296.82" style="stroke: #000000; stroke-width: 2"/>
     <use href="#m4f84c1d68b" x="506.61" y="301.77" style="stroke: #000000; stroke-width: 2"/>
     <use href="#m4f84c1d68b" x="507.34" y="296.98" style="stroke: #000000; stroke-width: 2"/>
     <use href="#m4f84c1d68b" x="508.07" y="301.78" style="stroke: #000000; stroke-width: 2"/>
     <use href="#m4f84c1d68b" x="508.80" y="296.84" style="stroke: #000000; stroke-width: 2"/>
     <use href="#m4f84c1d68b" x="509.53" y="301.52" style="stroke: #000000; stroke-width: 2"/>
     <use href="#m4f84c1d68b" x="510.26" y="296.48" style="stroke: #000000; stroke-width: 2"/>
     <use href="#m4f84c1d68b" x="510.99" y="301.12" style="stroke: #000000; stroke-width: 2"/>
     <use href="#m4f84c1d68b" x="511.72" y="296.10" style="stroke: #000000; stroke-width: 2"/>
     <use href="#m4f84c1d68b" x="512.45" y="300.81" style="stroke: #000000; stroke-width: 2"/>
     <use href="#m4f84c1d68b" x="513.18" y="295.91" style="stroke: #000000; stroke-width: 2"/>
     <use href="#m4f84c1d68b" x="513.91" y="300.76" style="stroke: #000000; stroke-width: 2"/>
     <use href="#m4f84c1d68b" x="514.64" y="296.01" style="stroke: #000000; stroke-width: 2"/>
     <use href="#m4f84c1d68b" x="515.37" y="300.99" style="stroke: #000000; stroke-width: 2"/>
    </g>
   </g>
   <g id="text_28">
    <!-- $\tau$  [ms] -->
    <g transform="translate(432.68 12.7)">
     <text>
      <tspan x="0" y="-0.87" style="font-style: oblique; font-size: 12.4px; font-family: 'DejaVu Sans', sans-serif">τ</tspan>
      <tspan x="7.45" y="-0.87" style="font-size: 12.4px; font-family: 'DejaVu Sans', sans-serif"> </tspan>
      <tspan x="11.38" y="-0.87" style="font-size: 12.4px; font-family: 'DejaVu Sans', sans-serif"> </tspan>
      <tspan x="15.31" y="-0.87" style="font-size: 12.4px; font-family: 'DejaVu Sans', sans-serif">[</tspan>
      <tspan x="20.14" y="-0.87" style="font-size: 12.4px; font-family: 'DejaVu Sans', sans-serif">m</tspan>
      <tspan x="32.20" y="-0.87" style="font-size: 12.4px; font-family: 'DejaVu Sans', sans-serif">s</tspan>
      <tspan x="38.64" y="-0.87" style="font-size: 12.4px; font-family: 'DejaVu Sans', sans-serif">]</tspan>
     </text>
    </g>
   </g>
   <g id="line2d_113">
    <g clip-path="url(#p62e669051c)">
     <use href="#mb8a5e02177" x="401.89" y="94.09" style="fill: #ff8c00; stroke: #ff8c00; stroke-width: 2.3"/>
     <use href="#mb8a5e02177" x="404.04" y="77.32" style="fill: #ff8c00; stroke: #ff8c00; stroke-width: 2.3"/>
     <use href="#mb8a5e02177" x="404.86" y="76.90" style="fill: #ff8c00; stroke: #ff8c00; stroke-width: 2.3"/>
     <use href="#mb8a5e02177" x="405.67" y="76.61" style="fill: #ff8c00; stroke: #ff8c00; stroke-width: 2.3"/>
     <use href="#mb8a5e02177" x="406.49" y="76.52" style="fill: #ff8c00; stroke: #ff8c00; stroke-width: 2.3"/>
     <use href="#mb8a5e02177" x="407.31" y="76.63" style="fill: #ff8c00; stroke: #ff8c00; stroke-width: 2.3"/>
     <use href="#mb8a5e02177" x="408.12" y="76.93" style="fill: #ff8c00; stroke: #ff8c00; stroke-width: 2.3"/>
     <use href="#mb8a5e02177" x="408.94" y="77.37" style="fill: #ff8c00; stroke: #ff8c00; stroke-width: 2.3"/>
     <use href="#mb8a5e02177" x="409.75" y="77.84" style="fill: #ff8c00; stroke: #ff8c00; stroke-width: 2.3"/>
     <use href="#mb8a5e02177" x="410.57" y="78.27" style="fill: #ff8c00; stroke: #ff8c00; stroke-width: 2.3"/>
     <use href="#mb8a5e02177" x="411.38" y="78.56" style="fill: #ff8c00; stroke: #ff8c00; stroke-width: 2.3"/>
     <use href="#mb8a5e02177" x="412.20" y="78.66" style="fill: #ff8c00; stroke: #ff8c00; stroke-width: 2.3"/>
     <use href="#mb8a5e02177" x="413.02" y="78.56" style="fill: #ff8c00; stroke: #ff8c00; stroke-width: 2.3"/>
     <use href="#mb8a5e02177" x="413.83" y="78.26" style="fill: #ff8c00; stroke: #ff8c00; stroke-width: 2.3"/>
     <use href="#mb8a5e02177" x="414.65" y="77.83" style="fill: #ff8c00; stroke: #ff8c00; stroke-width: 2.3"/>
     <use href="#mb8a5e02177" x="415.46" y="77.35" style="fill: #ff8c00; stroke: #ff8c00; stroke-width: 2.3"/>
     <use href="#mb8a5e02177" x="416.28" y="76.92" style="fill: #ff8c00; stroke: #ff8c00; stroke-width: 2.3"/>
     <use href="#mb8a5e02177" x="417.10" y="76.62" style="fill: #ff8c00; stroke: #ff8c00; stroke-width: 2.3"/>
     <use href="#mb8a5e02177" x="417.91" y="76.52" style="fill: #ff8c00; stroke: #ff8c00; stroke-width: 2.3"/>
     <use href="#mb8a5e02177" x="419.74" y="47.50" style="fill: #ff8c00; stroke: #ff8c00; stroke-width: 2.3"/>
     <use href="#mb8a5e02177" x="420.83" y="45.77" style="fill: #ff8c00; stroke: #ff8c00; stroke-width: 2.3"/>
     <use href="#mb8a5e02177" x="422.66" y="37.58" style="fill: #ff8c00; stroke: #ff8c00; stroke-width: 2.3"/>
     <use href="#mb8a5e02177" x="423.60" y="38.20" style="fill: #ff8c00; stroke: #ff8c00; stroke-width: 2.3"/>
     <use href="#mb8a5e02177" x="424.54" y="39.04" style="fill: #ff8c00; stroke: #ff8c00; stroke-width: 2.3"/>
     <use href="#mb8a5e02177" x="425.47" y="39.78" style="fill: #ff8c00; stroke: #ff8c00; stroke-width: 2.3"/>
     <use href="#mb8a5e02177" x="426.41" y="40.10" style="fill: #ff8c00; stroke: #ff8c00; stroke-width: 2.3"/>
     <use href="#mb8a5e02177" x="427.35" y="39.90" style="fill: #ff8c00; stroke: #ff8c00; stroke-width: 2.3"/>
     <use href="#mb8a5e02177" x="428.29" y="39.24" style="fill: #ff8c00; stroke: #ff8c00; stroke-width: 2.3"/>
     <use href="#mb8a5e02177" x="429.23" y="38.39" style="fill: #ff8c00; stroke: #ff8c00; stroke-width: 2.3"/>
     <use href="#mb8a5e02177" x="430.17" y="37.69" style="fill: #ff8c00; stroke: #ff8c00; stroke-width: 2.3"/>
     <use href="#mb8a5e02177" x="431.11" y="37.42" style="fill: #ff8c00; stroke: #ff8c00; stroke-width: 2.3"/>
     <use href="#mb8a5e02177" x="432.04" y="37.69" style="fill: #ff8c00; stroke: #ff8c00; stroke-width: 2.3"/>
     <use href="#mb8a5e02177" x="432.98" y="38.38" style="fill: #ff8c00; stroke: #ff8c00; stroke-width: 2.3"/>
     <use href="#mb8a5e02177" x="433.92" y="39.23" style="fill: #ff8c00; stroke: #ff8c00; stroke-width: 2.3"/>
     <use href="#mb8a5e02177" x="434.86" y="39.89" style="fill: #ff8c00; stroke: #ff8c00; stroke-width: 2.3"/>
     <use href="#mb8a5e02177" x="435.80" y="40.10" style="fill: #ff8c00; stroke: #ff8c00; stroke-width: 2.3"/>
     <use href="#mb8a5e02177" x="436.74" y="39.78" style="fill: #ff8c00; stroke: #ff8c00; stroke-width: 2.3"/>
     <use href="#mb8a5e02177" x="437.68" y="39.05" style="fill: #ff8c00; stroke: #ff8c00; stroke-width: 2.3"/>
     <use href="#mb8a5e02177" x="438.61" y="38.21" style="fill: #ff8c00; stroke: #ff8c00; stroke-width: 2.3"/>
     <use href="#mb8a5e02177" x="439.55" y="37.58" style="fill: #ff8c00; stroke: #ff8c00; stroke-width: 2.3"/>
     <use href="#mb8a5e02177" x="440.49" y="37.43" style="fill: #ff8c00; stroke: #ff8c00; stroke-width: 2.3"/>
     <use href="#mb8a5e02177" x="441.43" y="37.81" style="fill: #ff8c00; stroke: #ff8c00; stroke-width: 2.3"/>
     <use href="#mb8a5e02177" x="442.37" y="38.57" style="fill: #ff8c00; stroke: #ff8c00; stroke-width: 2.3"/>
     <use href="#mb8a5e02177" x="442.73" y="36.99" style="fill: #ff8c00; stroke: #ff8c00; stroke-width: 2.3"/>
     <use href="#mb8a5e02177" x="443.67" y="36.96" style="fill: #ff8c00; stroke: #ff8c00; stroke-width: 2.3"/>
     <use href="#mb8a5e02177" x="444.60" y="36.97" style="fill: #ff8c00; stroke: #ff8c00; stroke-width: 2.3"/>
     <use href="#mb8a5e02177" x="445.53" y="37.00" style="fill: #ff8c00; stroke: #ff8c00; stroke-width: 2.3"/>
     <use href="#mb8a5e02177" x="446.46" y="36.98" style="fill: #ff8c00; stroke: #ff8c00; stroke-width: 2.3"/>
     <use href="#mb8a5e02177" x="447.40" y="36.90" style="fill: #ff8c00; stroke: #ff8c00; stroke-width: 2.3"/>
     <use href="#mb8a5e02177" x="448.33" y="36.72" style="fill: #ff8c00; stroke: #ff8c00; stroke-width: 2.3"/>
     <use href="#mb8a5e02177" x="449.26" y="36.44" style="fill: #ff8c00; stroke: #ff8c00; stroke-width: 2.3"/>
     <use href="#mb8a5e02177" x="450.19" y="36.08" style="fill: #ff8c00; stroke: #ff8c00; stroke-width: 2.3"/>
     <use href="#mb8a5e02177" x="451.12" y="35.66" style="fill: #ff8c00; stroke: #ff8c00; stroke-width: 2.3"/>
     <use href="#mb8a5e02177" x="452.06" y="35.22" style="fill: #ff8c00; stroke: #ff8c00; stroke-width: 2.3"/>
     <use href="#mb8a5e02177" x="452.99" y="34.81" style="fill: #ff8c00; stroke: #ff8c00; stroke-width: 2.3"/>
     <use href="#mb8a5e02177" x="453.92" y="34.46" style="fill: #ff8c00; stroke: #ff8c00; stroke-width: 2.3"/>
     <use href="#mb8a5e02177" x="454.85" y="34.21" style="fill: #ff8c00; stroke: #ff8c00; stroke-width: 2.3"/>
     <use href="#mb8a5e02177" x="455.79" y="34.05" style="fill: #ff8c00; stroke: #ff8c00; stroke-width: 2.3"/>
     <use href="#mb8a5e02177" x="456.72" y="33.99" style="fill: #ff8c00; stroke: #ff8c00; stroke-width: 2.3"/>
     <use href="#mb8a5e02177" x="457.65" y="34.05" style="fill: #ff8c00; stroke: #ff8c00; stroke-width: 2.3"/>
     <use href="#mb8a5e02177" x="458.58" y="34.28" style="fill: #ff8c00; stroke: #ff8c00; stroke-width: 2.3"/>
     <use href="#mb8a5e02177" x="459.52" y="34.50" style="fill: #ff8c00; stroke: #ff8c00; stroke-width: 2.3"/>
     <use href="#mb8a5e02177" x="460.45" y="34.66" style="fill: #ff8c00; stroke: #ff8c00; stroke-width: 2.3"/>
     <use href="#mb8a5e02177" x="461.38" y="34.73" style="fill: #ff8c00; stroke: #ff8c00; stroke-width: 2.3"/>
     <use href="#mb8a5e02177" x="462.31" y="34.70" style="fill: #ff8c00; stroke: #ff8c00; stroke-width: 2.3"/>
     <use href="#mb8a5e02177" x="463.24" y="34.58" style="fill: #ff8c00; stroke: #ff8c00; stroke-width: 2.3"/>
     <use href="#mb8a5e02177" x="464.18" y="34.39" style="fill: #ff8c00; stroke: #ff8c00; stroke-width: 2.3"/>
     <use href="#mb8a5e02177" x="465.11" y="34.16" style="fill: #ff8c00; stroke: #ff8c00; stroke-width: 2.3"/>
     <use href="#mb8a5e02177" x="466.04" y="33.94" style="fill: #ff8c00; stroke: #ff8c00; stroke-width: 2.3"/>
     <use href="#mb8a5e02177" x="466.97" y="33.76" style="fill: #ff8c00; stroke: #ff8c00; stroke-width: 2.3"/>
     <use href="#mb8a5e02177" x="467.91" y="33.67" style="fill: #ff8c00; stroke: #ff8c00; stroke-width: 2.3"/>
     <use href="#mb8a5e02177" x="468.84" y="33.67" style="fill: #ff8c00; stroke: #ff8c00; stroke-width: 2.3"/>
     <use href="#mb8a5e02177" x="469.77" y="33.77" style="fill: #ff8c00; stroke: #ff8c00; stroke-width: 2.3"/>
     <use href="#mb8a5e02177" x="470.70" y="33.95" style="fill: #ff8c00; stroke: #ff8c00; stroke-width: 2.3"/>
     <use href="#mb8a5e02177" x="471.64" y="34.18" style="fill: #ff8c00; stroke: #ff8c00; stroke-width: 2.3"/>
     <use href="#mb8a5e02177" x="472.57" y="34.40" style="fill: #ff8c00; stroke: #ff8c00; stroke-width: 2.3"/>
     <use href="#mb8a5e02177" x="473.50" y="34.59" style="fill: #ff8c00; stroke: #ff8c00; stroke-width: 2.3"/>
     <use href="#mb8a5e02177" x="474.43" y="34.71" style="fill: #ff8c00; stroke: #ff8c00; stroke-width: 2.3"/>
     <use href="#mb8a5e02177" x="475.36" y="34.73" style="fill: #ff8c00; stroke: #ff8c00; stroke-width: 2.3"/>
     <use href="#mb8a5e02177" x="476.30" y="34.65" style="fill: #ff8c00; stroke: #ff8c00; stroke-width: 2.3"/>
     <use href="#mb8a5e02177" x="477.23" y="34.49" style="fill: #ff8c00; stroke: #ff8c00; stroke-width: 2.3"/>
     <use href="#mb8a5e02177" x="478.16" y="34.27" style="fill: #ff8c00; stroke: #ff8c00; stroke-width: 2.3"/>
     <use href="#mb8a5e02177" x="479.09" y="34.04" style="fill: #ff8c00; stroke: #ff8c00; stroke-width: 2.3"/>
     <use href="#mb8a5e02177" x="480.03" y="33.84" style="fill: #ff8c00; stroke: #ff8c00; stroke-width: 2.3"/>
     <use href="#mb8a5e02177" x="480.96" y="33.70" style="fill: #ff8c00; stroke: #ff8c00; stroke-width: 2.3"/>
     <use href="#mb8a5e02177" x="481.89" y="33.66" style="fill: #ff8c00; stroke: #ff8c00; stroke-width: 2.3"/>
     <use href="#mb8a5e02177" x="482.82" y="33.71" style="fill: #ff8c00; stroke: #ff8c00; stroke-width: 2.3"/>
     <use href="#mb8a5e02177" x="483.76" y="33.86" style="fill: #ff8c00; stroke: #ff8c00; stroke-width: 2.3"/>
     <use href="#mb8a5e02177" x="484.69" y="34.07" style="fill: #ff8c00; stroke: #ff8c00; stroke-width: 2.3"/>
     <use href="#mb8a5e02177" x="485.62" y="34.30" style="fill: #ff8c00; stroke: #ff8c00; stroke-width: 2.3"/>
     <use href="#mb8a5e02177" x="486.55" y="34.51" style="fill: #ff8c00; stroke: #ff8c00; stroke-width: 2.3"/>
     <use href="#mb8a5e02177" x="487.48" y="34.66" style="fill: #ff8c00; stroke: #ff8c00; stroke-width: 2.3"/>
     <use href="#mb8a5e02177" x="488.42" y="34.73" style="fill: #ff8c00; stroke: #ff8c00; stroke-width: 2.3"/>
     <use href="#mb8a5e02177" x="489.35" y="34.70" style="fill: #ff8c00; stroke: #ff8c00; stroke-width: 2.3"/>
     <use href="#mb8a5e02177" x="490.28" y="34.57" style="fill: #ff8c00; stroke: #ff8c00; stroke-width: 2.3"/>
     <use href="#mb8a5e02177" x="491.21" y="34.38" style="fill: #ff8c00; stroke: #ff8c00; stroke-width: 2.3"/>
     <use href="#mb8a5e02177" x="492.15" y="34.15" style="fill: #ff8c00; stroke: #ff8c00; stroke-width: 2.3"/>
     <use href="#mb8a5e02177" x="493.08" y="33.93" style="fill: #ff8c00; stroke: #ff8c00; stroke-width: 2.3"/>
     <use href="#mb8a5e02177" x="494.01" y="33.76" style="fill: #ff8c00; stroke: #ff8c00; stroke-width: 2.3"/>
     <use href="#mb8a5e02177" x="494.94" y="33.67" style="fill: #ff8c00; stroke: #ff8c00; stroke-width: 2.3"/>
     <use href="#mb8a5e02177" x="495.88" y="33.68" style="fill: #ff8c00; stroke: #ff8c00; stroke-width: 2.3"/>
     <use href="#mb8a5e02177" x="496.81" y="33.78" style="fill: #ff8c00; stroke: #ff8c00; stroke-width: 2.3"/>
     <use href="#mb8a5e02177" x="497.74" y="33.96" style="fill: #ff8c00; stroke: #ff8c00; stroke-width: 2.3"/>
     <use href="#mb8a5e02177" x="498.67" y="34.19" style="fill: #ff8c00; stroke: #ff8c00; stroke-width: 2.3"/>
     <use href="#mb8a5e02177" x="499.60" y="34.42" style="fill: #ff8c00; stroke: #ff8c00; stroke-width: 2.3"/>
     <use href="#mb8a5e02177" x="500.54" y="34.60" style="fill: #ff8c00; stroke: #ff8c00; stroke-width: 2.3"/>
     <use href="#mb8a5e02177" x="501.47" y="34.71" style="fill: #ff8c00; stroke: #ff8c00; stroke-width: 2.3"/>
     <use href="#mb8a5e02177" x="502.40" y="34.73" style="fill: #ff8c00; stroke: #ff8c00; stroke-width: 2.3"/>
     <use href="#mb8a5e02177" x="503.33" y="34.64" style="fill: #ff8c00; stroke: #ff8c00; stroke-width: 2.3"/>
     <use href="#mb8a5e02177" x="504.27" y="34.48" style="fill: #ff8c00; stroke: #ff8c00; stroke-width: 2.3"/>
     <use href="#mb8a5e02177" x="505.20" y="34.26" style="fill: #ff8c00; stroke: #ff8c00; stroke-width: 2.3"/>
     <use href="#mb8a5e02177" x="506.13" y="34.03" style="fill: #ff8c00; stroke: #ff8c00; stroke-width: 2.3"/>
     <use href="#mb8a5e02177" x="507.06" y="33.83" style="fill: #ff8c00; stroke: #ff8c00; stroke-width: 2.3"/>
     <use href="#mb8a5e02177" x="508.00" y="33.70" style="fill: #ff8c00; stroke: #ff8c00; stroke-width: 2.3"/>
     <use href="#mb8a5e02177" x="508.93" y="33.66" style="fill: #ff8c00; stroke: #ff8c00; stroke-width: 2.3"/>
     <use href="#mb8a5e02177" x="509.86" y="33.72" style="fill: #ff8c00; stroke: #ff8c00; stroke-width: 2.3"/>
     <use href="#mb8a5e02177" x="510.79" y="33.87" style="fill: #ff8c00; stroke: #ff8c00; stroke-width: 2.3"/>
     <use href="#mb8a5e02177" x="511.72" y="34.08" style="fill: #ff8c00; stroke: #ff8c00; stroke-width: 2.3"/>
    </g>
   </g>
   <g id="line2d_114">
    <defs>
     <path id="m8b25020d94" d="M -2.9 2.9 
L 2.9 -2.9 
M -2.9 -2.9 
L 2.9 2.9 
" style="stroke: #18e8e8; stroke-width: 3"/>
    </defs>
    <g clip-path="url(#p62e669051c)">
     <use href="#m8b25020d94" x="455.47" y="347.97" style="fill: #18e8e8; stroke: #18e8e8; stroke-width: 3"/>
     <use href="#m8b25020d94" x="459.89" y="324.32" style="fill: #18e8e8; stroke: #18e8e8; stroke-width: 3"/>
     <use href="#m8b25020d94" x="460.99" y="322.99" style="fill: #18e8e8; stroke: #18e8e8; stroke-width: 3"/>
     <use href="#m8b25020d94" x="465.00" y="295.91" style="fill: #18e8e8; stroke: #18e8e8; stroke-width: 3"/>
     <use href="#m8b25020d94" x="465.73" y="300.77" style="fill: #18e8e8; stroke: #18e8e8; stroke-width: 3"/>
     <use href="#m8b25020d94" x="466.46" y="296.03" style="fill: #18e8e8; stroke: #18e8e8; stroke-width: 3"/>
     <use href="#m8b25020d94" x="467.19" y="301.02" style="fill: #18e8e8; stroke: #18e8e8; stroke-width: 3"/>
     <use href="#m8b25020d94" x="467.92" y="296.37" style="fill: #18e8e8; stroke: #18e8e8; stroke-width: 3"/>
     <use href="#m8b25020d94" x="468.65" y="301.41" style="fill: #18e8e8; stroke: #18e8e8; stroke-width: 3"/>
     <use href="#m8b25020d94" x="469.38" y="296.76" style="fill: #18e8e8; stroke: #18e8e8; stroke-width: 3"/>
     <use href="#m8b25020d94" x="470.11" y="301.73" style="fill: #18e8e8; stroke: #18e8e8; stroke-width: 3"/>
     <use href="#m8b25020d94" x="470.84" y="296.97" style="fill: #18e8e8; stroke: #18e8e8; stroke-width: 3"/>
     <use href="#m8b25020d94" x="471.57" y="301.81" style="fill: #18e8e8; stroke: #18e8e8; stroke-width: 3"/>
     <use href="#m8b25020d94" x="472.30" y="296.89" style="fill: #18e8e8; stroke: #18e8e8; stroke-width: 3"/>
     <use href="#m8b25020d94" x="473.03" y="301.59" style="fill: #18e8e8; stroke: #18e8e8; stroke-width: 3"/>
     <use href="#m8b25020d94" x="473.76" y="296.56" style="fill: #18e8e8; stroke: #18e8e8; stroke-width: 3"/>
     <use href="#m8b25020d94" x="474.49" y="301.20" style="fill: #18e8e8; stroke: #18e8e8; stroke-width: 3"/>
     <use href="#m8b25020d94" x="475.22" y="296.17" style="fill: #18e8e8; stroke: #18e8e8; stroke-width: 3"/>
     <use href="#m8b25020d94" x="475.95" y="300.85" style="fill: #18e8e8; stroke: #18e8e8; stroke-width: 3"/>
     <use href="#m8b25020d94" x="476.68" y="295.93" style="fill: #18e8e8; stroke: #18e8e8; stroke-width: 3"/>
     <use href="#m8b25020d94" x="477.41" y="300.74" style="fill: #18e8e8; stroke: #18e8e8; stroke-width: 3"/>
     <use href="#m8b25020d94" x="478.14" y="295.97" style="fill: #18e8e8; stroke: #18e8e8; stroke-width: 3"/>
     <use href="#m8b25020d94" x="478.87" y="300.93" style="fill: #18e8e8; stroke: #18e8e8; stroke-width: 3"/>
     <use href="#m8b25020d94" x="479.60" y="296.27" style="fill: #18e8e8; stroke: #18e8e8; stroke-width: 3"/>
     <use href="#m8b25020d94" x="480.33" y="301.30" style="fill: #18e8e8; stroke: #18e8e8; stroke-width: 3"/>
     <use href="#m8b25020d94" x="481.06" y="296.67" style="fill: #18e8e8; stroke: #18e8e8; stroke-width: 3"/>
     <use href="#m8b25020d94" x="481.79" y="301.67" style="fill: #18e8e8; stroke: #18e8e8; stroke-width: 3"/>
     <use href="#m8b25020d94" x="482.52" y="296.94" style="fill: #18e8e8; stroke: #18e8e8; stroke-width: 3"/>
     <use href="#m8b25020d94" x="483.25" y="301.82" style="fill: #18e8e8; stroke: #18e8e8; stroke-width: 3"/>
     <use href="#m8b25020d94" x="483.98" y="296.94" style="fill: #18e8e8; stroke: #18e8e8; stroke-width: 3"/>
     <use href="#m8b25020d94" x="484.71" y="301.67" style="fill: #18e8e8; stroke: #18e8e8; stroke-width: 3"/>
     <use href="#m8b25020d94" x="485.44" y="296.67" style="fill: #18e8e8; stroke: #18e8e8; stroke-width: 3"/>
     <use href="#m8b25020d94" x="486.17" y="301.31" style="fill: #18e8e8; stroke: #18e8e8; stroke-width: 3"/>
     <use href="#m8b25020d94" x="486.90" y="296.27" style="fill: #18e8e8; stroke: #18e8e8; stroke-width: 3"/>
     <use href="#m8b25020d94" x="487.63" y="300.93" style="fill: #18e8e8; stroke: #18e8e8; stroke-width: 3"/>
     <use href="#m8b25020d94" x="488.36" y="295.97" style="fill: #18e8e8; stroke: #18e8e8; stroke-width: 3"/>
     <use href="#m8b25020d94" x="489.09" y="300.74" style="fill: #18e8e8; stroke: #18e8e8; stroke-width: 3"/>
     <use href="#m8b25020d94" x="489.82" y="295.93" style="fill: #18e8e8; stroke: #18e8e8; stroke-width: 3"/>
     <use href="#m8b25020d94" x="490.55" y="300.85" style="fill: #18e8e8; stroke: #18e8e8; stroke-width: 3"/>
     <use href="#m8b25020d94" x="491.28" y="296.17" style="fill: #18e8e8; stroke: #18e8e8; stroke-width: 3"/>
     <use href="#m8b25020d94" x="492.01" y="301.20" style="fill: #18e8e8; stroke: #18e8e8; stroke-width: 3"/>
     <use href="#m8b25020d94" x="492.74" y="296.56" style="fill: #18e8e8; stroke: #18e8e8; stroke-width: 3"/>
     <use href="#m8b25020d94" x="493.47" y="301.58" style="fill: #18e8e8; stroke: #18e8e8; stroke-width: 3"/>
     <use href="#m8b25020d94" x="494.20" y="296.89" style="fill: #18e8e8; stroke: #18e8e8; stroke-width: 3"/>
     <use href="#m8b25020d94" x="494.93" y="301.80" style="fill: #18e8e8; stroke: #18e8e8; stroke-width: 3"/>
     <use href="#m8b25020d94" x="495.66" y="296.97" style="fill: #18e8e8; stroke: #18e8e8; stroke-width: 3"/>
     <use href="#m8b25020d94" x="496.39" y="301.74" style="fill: #18e8e8; stroke: #18e8e8; stroke-width: 3"/>
     <use href="#m8b25020d94" x="497.12" y="296.76" style="fill: #18e8e8; stroke: #18e8e8; stroke-width: 3"/>
     <use href="#m8b25020d94" x="497.85" y="301.41" style="fill: #18e8e8; stroke: #18e8e8; stroke-width: 3"/>
     <use href="#m8b25020d94" x="498.58" y="296.38" style="fill: #18e8e8; stroke: #18e8e8; stroke-width: 3"/>
     <use href="#m8b25020d94" x="499.31" y="301.02" style="fill: #18e8e8; stroke: #18e8e8; stroke-width: 3"/>
     <use href="#m8b25020d94" x="500.04" y="296.03" style="fill: #18e8e8; stroke: #18e8e8; stroke-width: 3"/>
     <use href="#m8b25020d94" x="500.77" y="300.77" style="fill: #18e8e8; stroke: #18e8e8; stroke-width: 3"/>
     <use href="#m8b25020d94" x="501.50" y="295.91" style="fill: #18e8e8; stroke: #18e8e8; stroke-width: 3"/>
     <use href="#m8b25020d94" x="502.23" y="300.80" style="fill: #18e8e8; stroke: #18e8e8; stroke-width: 3"/>
     <use href="#m8b25020d94" x="502.96" y="296.08" style="fill: #18e8e8; stroke: #18e8e8; stroke-width: 3"/>
     <use href="#m8b25020d94" x="503.69" y="301.09" style="fill: #18e8e8; stroke: #18e8e8; stroke-width: 3"/>
     <use href="#m8b25020d94" x="504.42" y="296.45" style="fill: #18e8e8; stroke: #18e8e8; stroke-width: 3"/>
     <use href="#m8b25020d94" x="505.15" y="301.49" style="fill: #18e8e8; stroke: #18e8e8; stroke-width: 3"/>
     <use href="#m8b25020d94" x="505.88" y="296.82" style="fill: #18e8e8; stroke: #18e8e8; stroke-width: 3"/>
     <use href="#m8b25020d94" x="506.61" y="301.77" style="fill: #18e8e8; stroke: #18e8e8; stroke-width: 3"/>
     <use href="#m8b25020d94" x="507.34" y="296.98" style="fill: #18e8e8; stroke: #18e8e8; stroke-width: 3"/>
     <use href="#m8b25020d94" x="508.07" y="301.78" style="fill: #18e8e8; stroke: #18e8e8; stroke-width: 3"/>
     <use href="#m8b25020d94" x="508.80" y="296.84" style="fill: #18e8e8; stroke: #18e8e8; stroke-width: 3"/>
     <use href="#m8b25020d94" x="509.53" y="301.52" style="fill: #18e8e8; stroke: #18e8e8; stroke-width: 3"/>
     <use href="#m8b25020d94" x="510.26" y="296.48" style="fill: #18e8e8; stroke: #18e8e8; stroke-width: 3"/>
     <use href="#m8b25020d94" x="510.99" y="301.12" style="fill: #18e8e8; stroke: #18e8e8; stroke-width: 3"/>
     <use href="#m8b25020d94" x="511.72" y="296.10" style="fill: #18e8e8; stroke: #18e8e8; stroke-width: 3"/>
     <use href="#m8b25020d94" x="512.45" y="300.81" style="fill: #18e8e8; stroke: #18e8e8; stroke-width: 3"/>
     <use href="#m8b25020d94" x="513.18" y="295.91" style="fill: #18e8e8; stroke: #18e8e8; stroke-width: 3"/>
     <use href="#m8b25020d94" x="513.91" y="300.76" style="fill: #18e8e8; stroke: #18e8e8; stroke-width: 3"/>
     <use href="#m8b25020d94" x="514.64" y="296.01" style="fill: #18e8e8; stroke: #18e8e8; stroke-width: 3"/>
     <use href="#m8b25020d94" x="515.37" y="300.99" style="fill: #18e8e8; stroke: #18e8e8; stroke-width: 3"/>
    </g>
   </g>
  </g>
 </g>
 <defs>
  <clipPath id="p1f6addf977">
   <rect x="42" y="17.1" width="151.5" height="348.4"/>
  </clipPath>
  <clipPath id="p89d958ffb8">
   <rect x="235.3" y="17.3" width="120.4" height="346.9"/>
  </clipPath>
  <clipPath id="p62e669051c">
   <rect x="396.6" y="17.3" width="119.4" height="347.1"/>
  </clipPath>
 </defs>
</svg>

</body></html>
